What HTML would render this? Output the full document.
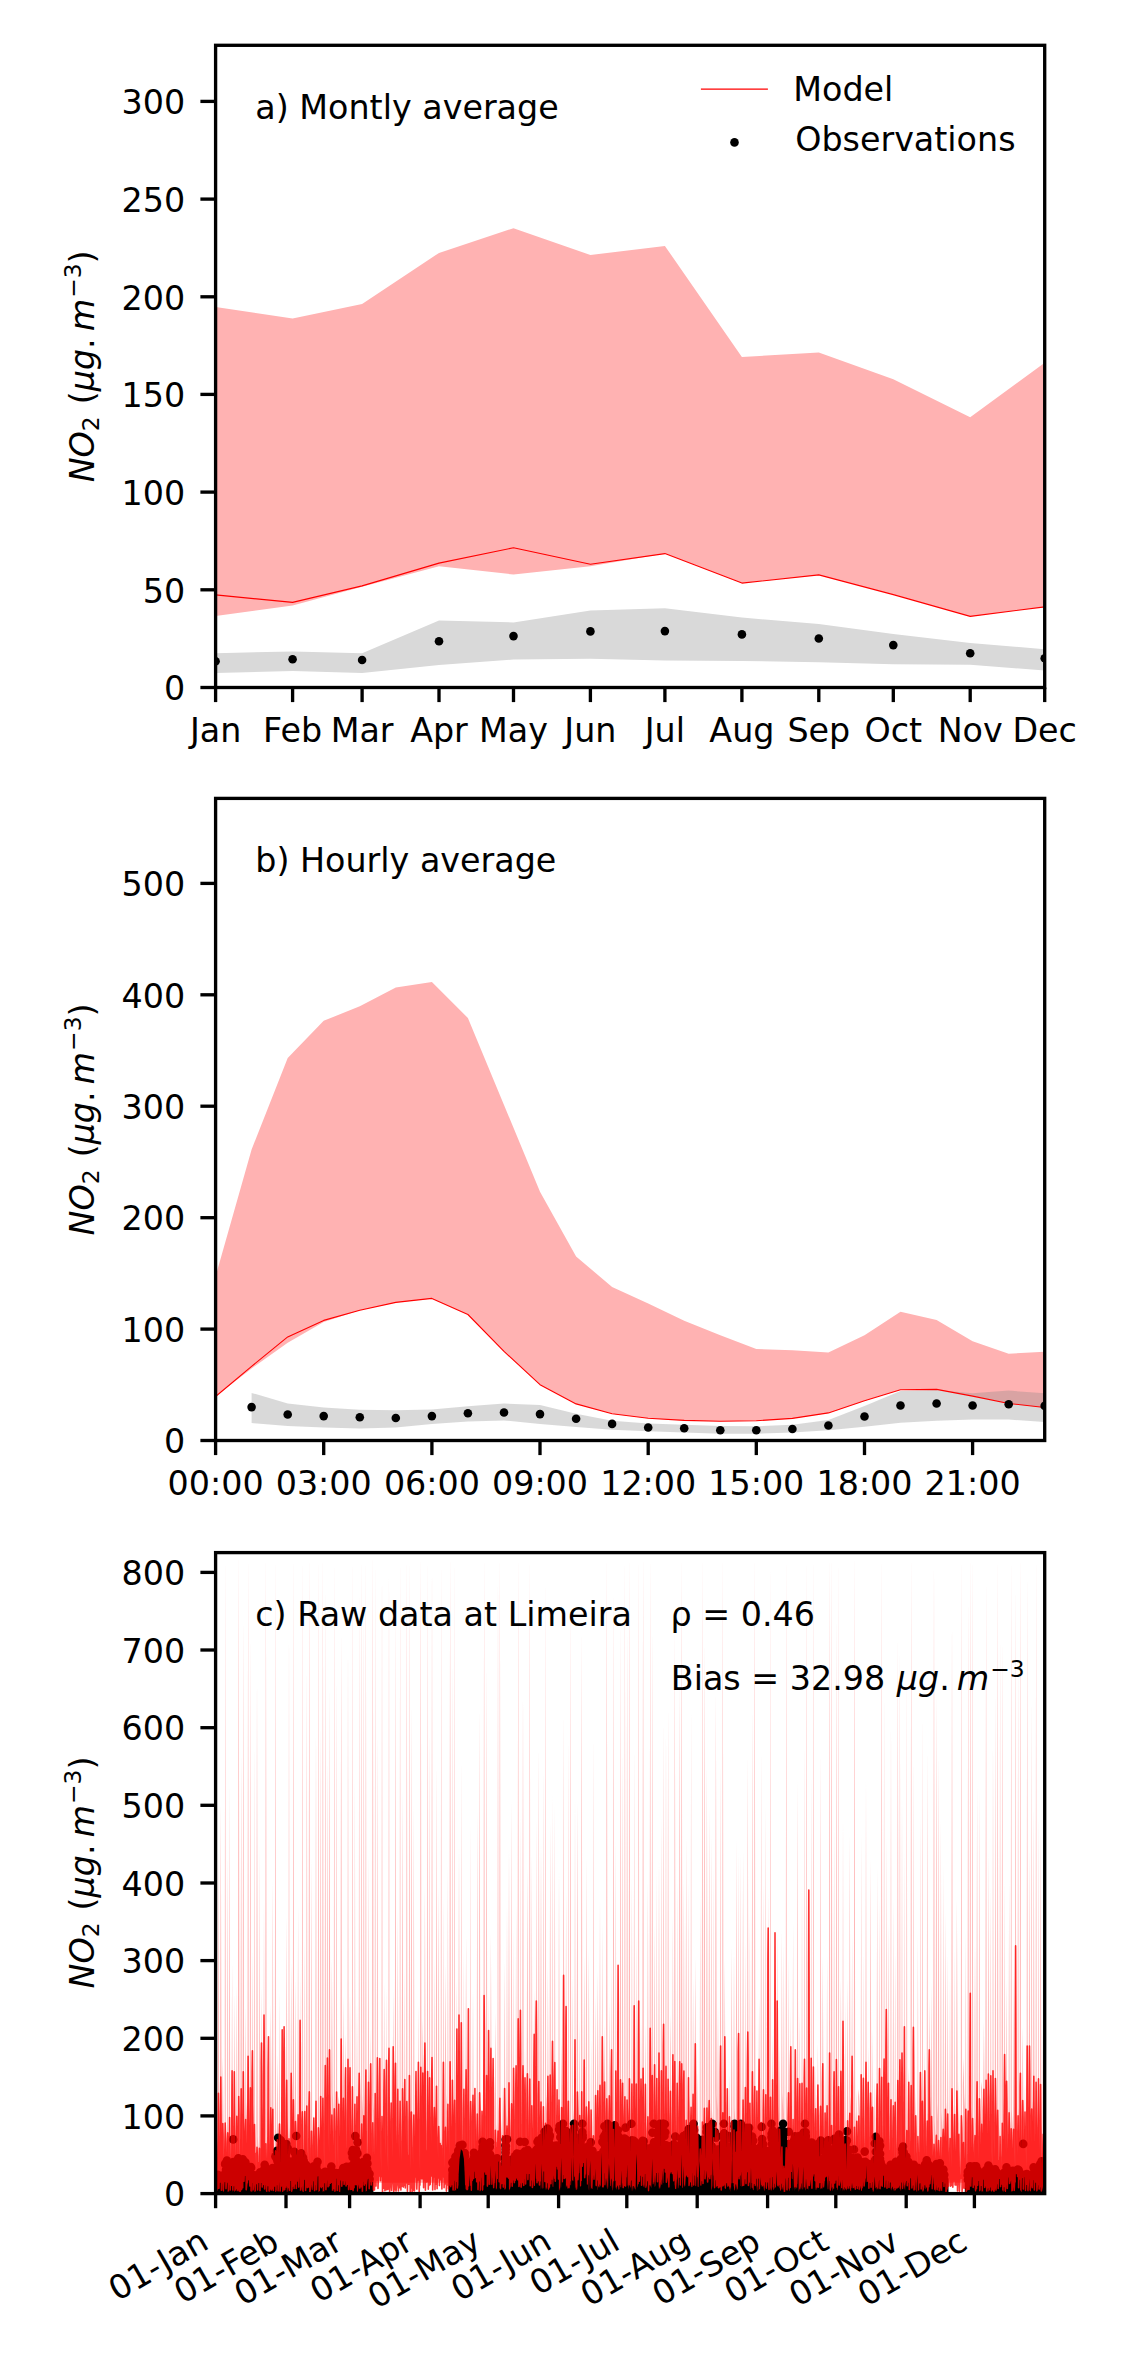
<!DOCTYPE html>
<html><head><meta charset="utf-8"><title>NO2 Limeira</title>
<style>
html,body{margin:0;padding:0;background:#fff}
svg{display:block}
text{font-family:"DejaVu Sans","Liberation Sans",sans-serif;font-size:33.33px;fill:#000}
.i{font-style:italic}
.s{font-size:23.33px}
</style></head><body>
<svg width="1122" height="2362" viewBox="0 0 1122 2362">
<defs>
<clipPath id="c1"><rect x="215.6" y="45.3" width="829.1" height="642.2"/></clipPath>
<clipPath id="c2"><rect x="215.6" y="798.4" width="829.1" height="642.1"/></clipPath>
<clipPath id="c3"><rect x="215.6" y="1552.6" width="829.1" height="641.0"/></clipPath>
</defs>
<rect width="1122" height="2362" fill="#fff"/>
<g clip-path="url(#c1)">
<path d="M215.6 307 L292.6 318.4 L362.1 303.9 L439 252.9 L513.5 228.2 L590.4 254.9 L664.9 245.9 L741.9 357 L818.8 352.5 L893.3 379.2 L970.2 417.3 L1044.7 362.8 L1044.7 606.9 L970.2 616.4 L893.3 594.6 L818.8 574.9 L741.9 583.1 L664.9 553.6 L590.4 566.3 L513.5 574.5 L439 566.3 L362.1 586.7 L292.6 605.5 L215.6 616.1Z" fill="#FFB2B2" />
<path d="M215.6 653.3 L292.6 651.4 L362.1 653.3 L439 620.4 L513.5 622.4 L590.4 610.6 L664.9 608.2 L741.9 617.6 L818.8 624.1 L893.3 634 L970.2 643 L1044.7 649.2 L1044.7 670.5 L970.2 664.7 L893.3 664.3 L818.8 662.3 L741.9 661 L664.9 660.6 L590.4 658.8 L513.5 659.6 L439 665.1 L362.1 672.9 L292.6 671 L215.6 672.9Z" fill="#D9D9D9" />
<path d="M215.6 594.9 L292.6 602.4 L362.1 585.9 L439 563.1 L513.5 547.8 L590.4 564.3 L664.9 553.6 L741.9 583.1 L818.8 574.9 L893.3 594.6 L970.2 616.4 L1044.7 606.9" fill="none" stroke="#FF0000" stroke-width="1.1" stroke-linejoin="round" />
<circle cx="215.6" cy="661.2" r="4.3"/>
<circle cx="292.6" cy="659.2" r="4.3"/>
<circle cx="362.1" cy="660" r="4.3"/>
<circle cx="439.0" cy="641.2" r="4.3"/>
<circle cx="513.5" cy="636.1" r="4.3"/>
<circle cx="590.4" cy="631.4" r="4.3"/>
<circle cx="664.9" cy="631.1" r="4.3"/>
<circle cx="741.9" cy="634.4" r="4.3"/>
<circle cx="818.8" cy="638.5" r="4.3"/>
<circle cx="893.3" cy="645.1" r="4.3"/>
<circle cx="970.2" cy="653.3" r="4.3"/>
<circle cx="1044.7" cy="658.2" r="4.3"/>
</g>
<rect x="215.6" y="45.3" width="829.1" height="642.2" fill="none" stroke="#000" stroke-width="3.33"/>
<line x1="200.4" x2="215.6" y1="687.5" y2="687.5" stroke="#000" stroke-width="3.33"/>
<text x="185.2" y="700.2" text-anchor="end">0</text>
<line x1="200.4" x2="215.6" y1="589.8" y2="589.8" stroke="#000" stroke-width="3.33"/>
<text x="185.2" y="602.5" text-anchor="end">50</text>
<line x1="200.4" x2="215.6" y1="492.1" y2="492.1" stroke="#000" stroke-width="3.33"/>
<text x="185.2" y="504.8" text-anchor="end">100</text>
<line x1="200.4" x2="215.6" y1="394.4" y2="394.4" stroke="#000" stroke-width="3.33"/>
<text x="185.2" y="407.1" text-anchor="end">150</text>
<line x1="200.4" x2="215.6" y1="296.8" y2="296.8" stroke="#000" stroke-width="3.33"/>
<text x="185.2" y="309.5" text-anchor="end">200</text>
<line x1="200.4" x2="215.6" y1="199.1" y2="199.1" stroke="#000" stroke-width="3.33"/>
<text x="185.2" y="211.8" text-anchor="end">250</text>
<line x1="200.4" x2="215.6" y1="101.4" y2="101.4" stroke="#000" stroke-width="3.33"/>
<text x="185.2" y="114.1" text-anchor="end">300</text>
<line x1="215.6" x2="215.6" y1="687.5" y2="702.1" stroke="#000" stroke-width="3.33"/>
<text x="215.6" y="742.1" text-anchor="middle">Jan</text>
<line x1="292.6" x2="292.6" y1="687.5" y2="702.1" stroke="#000" stroke-width="3.33"/>
<text x="292.6" y="742.1" text-anchor="middle">Feb</text>
<line x1="362.1" x2="362.1" y1="687.5" y2="702.1" stroke="#000" stroke-width="3.33"/>
<text x="362.1" y="742.1" text-anchor="middle">Mar</text>
<line x1="439.0" x2="439.0" y1="687.5" y2="702.1" stroke="#000" stroke-width="3.33"/>
<text x="439.0" y="742.1" text-anchor="middle">Apr</text>
<line x1="513.5" x2="513.5" y1="687.5" y2="702.1" stroke="#000" stroke-width="3.33"/>
<text x="513.5" y="742.1" text-anchor="middle">May</text>
<line x1="590.4" x2="590.4" y1="687.5" y2="702.1" stroke="#000" stroke-width="3.33"/>
<text x="590.4" y="742.1" text-anchor="middle">Jun</text>
<line x1="664.9" x2="664.9" y1="687.5" y2="702.1" stroke="#000" stroke-width="3.33"/>
<text x="664.9" y="742.1" text-anchor="middle">Jul</text>
<line x1="741.9" x2="741.9" y1="687.5" y2="702.1" stroke="#000" stroke-width="3.33"/>
<text x="741.9" y="742.1" text-anchor="middle">Aug</text>
<line x1="818.8" x2="818.8" y1="687.5" y2="702.1" stroke="#000" stroke-width="3.33"/>
<text x="818.8" y="742.1" text-anchor="middle">Sep</text>
<line x1="893.3" x2="893.3" y1="687.5" y2="702.1" stroke="#000" stroke-width="3.33"/>
<text x="893.3" y="742.1" text-anchor="middle">Oct</text>
<line x1="970.2" x2="970.2" y1="687.5" y2="702.1" stroke="#000" stroke-width="3.33"/>
<text x="970.2" y="742.1" text-anchor="middle">Nov</text>
<line x1="1044.7" x2="1044.7" y1="687.5" y2="702.1" stroke="#000" stroke-width="3.33"/>
<text x="1044.7" y="742.1" text-anchor="middle">Dec</text>
<text transform="translate(93.5,366.4) rotate(-90)" text-anchor="middle" class="m"><tspan class="i">NO</tspan><tspan class="s" dy="5.5">2</tspan><tspan dy="-5.5" dx="12">(</tspan><tspan class="i">μg</tspan><tspan>.</tspan><tspan class="i" dx="7">m</tspan><tspan class="s" dy="-12.5" dx="1">−3</tspan><tspan dy="12.5">)</tspan></text>
<text x="255.3" y="118.5">a) Montly average</text>
<line x1="700.9" x2="767.9" y1="89.1" y2="89.1" stroke="#FF0000" stroke-width="1.1"/>
<text x="793.3" y="100.7">Model</text>
<circle cx="734.5" cy="142.4" r="4.3"/>
<text x="795.2" y="150.7">Observations</text>
<g clip-path="url(#c2)">
<path d="M215.6 1276.3 L251.6 1149.5 L287.7 1058 L323.7 1020.8 L359.8 1006.3 L395.8 987.5 L431.9 982 L467.9 1018 L504 1104.9 L540 1191.8 L576.1 1256.5 L612.1 1287 L648.2 1303.5 L684.2 1320.8 L720.3 1335.3 L756.3 1349 L792.4 1350.2 L828.4 1352.5 L864.5 1335.3 L900.5 1311.8 L936.6 1320 L972.6 1341.2 L1008.7 1353.7 L1044.7 1351.8 L1044.7 1407.5 L1008.7 1403.5 L972.6 1396.1 L936.6 1389.4 L900.5 1389.8 L864.5 1400.8 L828.4 1412.9 L792.4 1418.4 L756.3 1420.8 L720.3 1421.2 L684.2 1420.4 L648.2 1418.2 L612.1 1413.7 L576.1 1403.9 L540 1384.7 L504 1351.4 L467.9 1314.5 L431.9 1298.4 L395.8 1302.4 L359.8 1310.2 L323.7 1322 L287.7 1342.7 L251.6 1368.5 L215.6 1396.5Z" fill="#FFB2B2" />
<path d="M251.6 1392.9 L287.7 1403.5 L323.7 1407.5 L359.8 1409.8 L395.8 1410.2 L431.9 1409.4 L467.9 1406.3 L504 1403.5 L540 1405.1 L576.1 1413.7 L612.1 1420.8 L648.2 1423.5 L684.2 1424.7 L720.3 1425.9 L756.3 1426.3 L792.4 1424.7 L828.4 1420 L864.5 1405.9 L900.5 1391 L936.6 1390 L972.6 1393.3 L1008.7 1390.6 L1044.7 1393.3 L1044.7 1422 L1008.7 1419.6 L972.6 1419.6 L936.6 1420.8 L900.5 1422.7 L864.5 1426.7 L828.4 1430.2 L792.4 1432.5 L756.3 1433.7 L720.3 1433.7 L684.2 1432.5 L648.2 1431.2 L612.1 1429.8 L576.1 1427.1 L540 1423.9 L504 1420.4 L467.9 1421.6 L431.9 1423.9 L395.8 1427.5 L359.8 1428.6 L323.7 1427.5 L287.7 1425.9 L251.6 1423.1Z" fill="#808080" fill-opacity="0.3"/>
<path d="M215.6 1396.5 L251.6 1366.3 L287.7 1336.9 L323.7 1320.4 L359.8 1310.2 L395.8 1302.4 L431.9 1298.4 L467.9 1314.5 L504 1351.4 L540 1384.7 L576.1 1403.9 L612.1 1413.7 L648.2 1418.2 L684.2 1420.4 L720.3 1421.2 L756.3 1420.8 L792.4 1418.4 L828.4 1412.9 L864.5 1400.8 L900.5 1389.8 L936.6 1389.4 L972.6 1396.1 L1008.7 1403.5 L1044.7 1407.5" fill="none" stroke="#FF0000" stroke-width="1.1" stroke-linejoin="round" />
<circle cx="251.6" cy="1407.1" r="4.3"/>
<circle cx="287.7" cy="1414.5" r="4.3"/>
<circle cx="323.7" cy="1416.1" r="4.3"/>
<circle cx="359.8" cy="1417.3" r="4.3"/>
<circle cx="395.8" cy="1418" r="4.3"/>
<circle cx="431.9" cy="1416.1" r="4.3"/>
<circle cx="467.9" cy="1413.3" r="4.3"/>
<circle cx="504.0" cy="1412.5" r="4.3"/>
<circle cx="540.0" cy="1414.1" r="4.3"/>
<circle cx="576.1" cy="1418.8" r="4.3"/>
<circle cx="612.1" cy="1423.9" r="4.3"/>
<circle cx="648.2" cy="1427.5" r="4.3"/>
<circle cx="684.2" cy="1428.2" r="4.3"/>
<circle cx="720.3" cy="1430.2" r="4.3"/>
<circle cx="756.3" cy="1430.2" r="4.3"/>
<circle cx="792.4" cy="1429" r="4.3"/>
<circle cx="828.4" cy="1425.5" r="4.3"/>
<circle cx="864.5" cy="1416.5" r="4.3"/>
<circle cx="900.5" cy="1405.5" r="4.3"/>
<circle cx="936.6" cy="1403.5" r="4.3"/>
<circle cx="972.6" cy="1405.5" r="4.3"/>
<circle cx="1008.7" cy="1404.3" r="4.3"/>
<circle cx="1044.7" cy="1405.9" r="4.3"/>
</g>
<rect x="215.6" y="798.4" width="829.1" height="642.1" fill="none" stroke="#000" stroke-width="3.33"/>
<line x1="200.4" x2="215.6" y1="1440.5" y2="1440.5" stroke="#000" stroke-width="3.33"/>
<text x="185.2" y="1453.2" text-anchor="end">0</text>
<line x1="200.4" x2="215.6" y1="1329.1" y2="1329.1" stroke="#000" stroke-width="3.33"/>
<text x="185.2" y="1341.8" text-anchor="end">100</text>
<line x1="200.4" x2="215.6" y1="1217.7" y2="1217.7" stroke="#000" stroke-width="3.33"/>
<text x="185.2" y="1230.4" text-anchor="end">200</text>
<line x1="200.4" x2="215.6" y1="1106.2" y2="1106.2" stroke="#000" stroke-width="3.33"/>
<text x="185.2" y="1118.9" text-anchor="end">300</text>
<line x1="200.4" x2="215.6" y1="994.8" y2="994.8" stroke="#000" stroke-width="3.33"/>
<text x="185.2" y="1007.5" text-anchor="end">400</text>
<line x1="200.4" x2="215.6" y1="883.4" y2="883.4" stroke="#000" stroke-width="3.33"/>
<text x="185.2" y="896.1" text-anchor="end">500</text>
<line x1="215.6" x2="215.6" y1="1440.5" y2="1455.1" stroke="#000" stroke-width="3.33"/>
<text x="215.6" y="1495.2" text-anchor="middle">00:00</text>
<line x1="323.7" x2="323.7" y1="1440.5" y2="1455.1" stroke="#000" stroke-width="3.33"/>
<text x="323.7" y="1495.2" text-anchor="middle">03:00</text>
<line x1="431.9" x2="431.9" y1="1440.5" y2="1455.1" stroke="#000" stroke-width="3.33"/>
<text x="431.9" y="1495.2" text-anchor="middle">06:00</text>
<line x1="540.0" x2="540.0" y1="1440.5" y2="1455.1" stroke="#000" stroke-width="3.33"/>
<text x="540.0" y="1495.2" text-anchor="middle">09:00</text>
<line x1="648.2" x2="648.2" y1="1440.5" y2="1455.1" stroke="#000" stroke-width="3.33"/>
<text x="648.2" y="1495.2" text-anchor="middle">12:00</text>
<line x1="756.3" x2="756.3" y1="1440.5" y2="1455.1" stroke="#000" stroke-width="3.33"/>
<text x="756.3" y="1495.2" text-anchor="middle">15:00</text>
<line x1="864.5" x2="864.5" y1="1440.5" y2="1455.1" stroke="#000" stroke-width="3.33"/>
<text x="864.5" y="1495.2" text-anchor="middle">18:00</text>
<line x1="972.6" x2="972.6" y1="1440.5" y2="1455.1" stroke="#000" stroke-width="3.33"/>
<text x="972.6" y="1495.2" text-anchor="middle">21:00</text>
<text transform="translate(93.5,1119.45) rotate(-90)" text-anchor="middle" class="m"><tspan class="i">NO</tspan><tspan class="s" dy="5.5">2</tspan><tspan dy="-5.5" dx="12">(</tspan><tspan class="i">μg</tspan><tspan>.</tspan><tspan class="i" dx="7">m</tspan><tspan class="s" dy="-12.5" dx="1">−3</tspan><tspan dy="12.5">)</tspan></text>
<text x="255.3" y="871.7">b) Hourly average</text>
<g clip-path="url(#c3)">
<path d="M215.6 2148.2 L215.3 2124.9 L216 1835.3 L216.6 2132.6 L217.9 2152.7 L217.9 2151 L217.7 2127.7 L218.4 1847.1 L219.2 2135.5 L220.1 2155.3 L220.1 2127.1 L220 2103.8 L220.8 1800 L221.6 2111.6 L222.4 2133.7 L222.4 2141.8 L222.1 2118.5 L222.8 2056.1 L223.5 2126.3 L224.7 2147 L224.7 2142.2 L224.7 2118.9 L225.2 1548.6 L225.8 2126.6 L227 2147.3 L227 2161.6 L227 2138.3 L227.7 1853 L228.3 2146.1 L229.2 2164.8 L229.2 2150.2 L229 2126.9 L229.6 1778.5 L230.2 2134.7 L231.5 2154.6 L231.5 2148.7 L231.5 2125.4 L232.1 1960.7 L232.7 2133.1 L233.8 2153.2 L233.8 2132.7 L233.8 2109.4 L234.3 1992 L234.9 2117.2 L236 2138.8 L236 2165.6 L236.1 2142.3 L236.8 1983.1 L237.4 2150.1 L238.3 2168.4 L238.3 2114.5 L237.9 2091.2 L238.7 1548.6 L239.5 2099 L240.6 2122.4 L240.6 2149.5 L240.4 2126.2 L241.2 1749.5 L241.9 2133.9 L242.9 2153.9 L242.9 2130.5 L242.6 2107.2 L243.3 1614.7 L244.1 2115 L245.1 2136.8 L245.1 2117.4 L245.2 2094.1 L245.7 2005.6 L246.2 2101.9 L247.4 2125 L247.4 2116.3 L247.5 2093 L248.1 1548.6 L248.8 2100.8 L249.7 2124.1 L249.7 2139 L249.7 2115.7 L250.4 1630.6 L251 2123.5 L251.9 2144.5 L251.9 2119.5 L251.9 2096.2 L252.4 1948.1 L253 2104 L254.2 2126.9 L254.2 2169.2 L254 2145.9 L254.5 1738.8 L255.1 2153.6 L256.5 2171.6 L256.5 2152.3 L256.3 2129 L257 1667.8 L257.8 2136.8 L258.8 2156.4 L258.8 2166 L258.8 2142.7 L259.4 1844.3 L260 2150.5 L261 2168.8 L261 2116.3 L260.9 2093 L261.5 1986.2 L262 2100.8 L263.3 2124 L263.3 2153.9 L263.5 2130.6 L264 1898.3 L264.5 2138.4 L265.6 2157.9 L265.6 2155 L265.2 2131.7 L265.9 1548.6 L266.7 2139.5 L267.9 2158.9 L267.9 2151.6 L268 2128.3 L268.5 2101.3 L269 2136.1 L270.1 2155.8 L270.1 2135.4 L270.1 2112.1 L270.8 2004 L271.6 2119.9 L272.4 2141.2 L272.4 2154.3 L272 2131 L272.8 1880.3 L273.5 2138.8 L274.7 2158.3 L274.7 2141.4 L274.8 2118.1 L275.4 1548.6 L276 2125.9 L276.9 2146.6 L276.9 2139.4 L276.8 2116.1 L277.4 2054 L277.9 2123.9 L279.2 2144.8 L279.2 2147.2 L279 2123.9 L279.5 1991.5 L280 2131.7 L281.5 2151.8 L281.5 2142.4 L281.5 2119.1 L282.2 2096.7 L282.9 2126.9 L283.8 2147.5 L283.8 2164.3 L283.4 2141 L284.1 2046.2 L284.9 2148.7 L286 2167.2 L286 2131.3 L286 2108 L286.7 1916 L287.4 2115.8 L288.3 2137.5 L288.3 2141.6 L288.5 2118.3 L289 1609.3 L289.5 2126.1 L290.6 2146.8 L290.6 2115.2 L290.6 2091.9 L291.2 1961.6 L291.9 2099.7 L292.8 2123.1 L292.8 2138.7 L292.8 2115.4 L293.4 1548.6 L294.1 2123.2 L295.1 2144.2 L295.1 2130.5 L294.8 2107.2 L295.5 1978.3 L296.1 2115 L297.4 2136.8 L297.4 2135.8 L297.5 2112.5 L298.1 1904 L298.7 2120.2 L299.7 2141.6 L299.7 2170.3 L299.5 2147 L300.1 1972.5 L300.7 2154.7 L301.9 2172.6 L301.9 2164.2 L301.8 2140.9 L302.4 1548.6 L303 2148.6 L304.2 2167.1 L304.2 2150 L304.2 2126.7 L304.8 1938.6 L305.4 2134.4 L306.5 2154.3 L306.5 2167.2 L306.2 2143.9 L306.8 1662.2 L307.5 2151.7 L308.7 2169.8 L308.7 2159.6 L308.5 2136.4 L309.3 1548.6 L310 2144.1 L311 2163 L311 2159.4 L310.8 2136.1 L311.5 1857.1 L312.2 2143.8 L313.3 2162.8 L313.3 2152.8 L313.1 2129.5 L313.8 2114.1 L314.4 2137.3 L315.6 2156.9 L315.6 2142.8 L315.3 2119.5 L316 1718.4 L316.6 2127.2 L317.8 2147.8 L317.8 2138.7 L317.8 2115.4 L318.4 1548.6 L319 2123.2 L320.1 2144.2 L320.1 2132 L320 2108.7 L320.7 1720.6 L321.4 2116.4 L322.4 2138.1 L322.4 2166.8 L322.1 2143.5 L322.9 1548.6 L323.6 2151.2 L324.6 2169.4 L324.6 2128.2 L324.7 2104.9 L325.3 1579.3 L325.9 2112.7 L326.9 2134.8 L326.9 2148.3 L326.6 2125 L327.4 1757.5 L328.1 2132.7 L329.2 2152.8 L329.2 2109 L328.8 2085.7 L329.5 1682.9 L330.3 2093.5 L331.5 2117.5 L331.5 2108.7 L331.2 2085.4 L331.9 1958.6 L332.7 2093.1 L333.7 2117.1 L333.7 2168.9 L333.7 2145.6 L334.3 1551 L334.9 2153.4 L336 2171.4 L336 2164.7 L336 2141.4 L336.6 1671.6 L337.2 2149.2 L338.3 2167.6 L338.3 2127 L338.1 2103.7 L338.8 2095.9 L339.5 2111.5 L340.5 2133.6 L340.5 2128 L340.4 2104.7 L341.2 1627.5 L342 2112.4 L342.8 2134.5 L342.8 2120.8 L342.8 2097.5 L343.4 1996.2 L344.1 2105.2 L345.1 2128 L345.1 2110.3 L345 2087 L345.6 2032.7 L346.1 2094.8 L347.4 2118.6 L347.4 2135.9 L347.5 2112.6 L348 1628.6 L348.6 2120.4 L349.6 2141.7 L349.6 2121.8 L349.4 2098.5 L350 1992 L350.6 2106.3 L351.9 2129 L351.9 2154.9 L351.9 2131.6 L352.4 1548.6 L353 2139.4 L354.2 2158.8 L354.2 2153.1 L354.4 2129.8 L354.9 1774.6 L355.4 2137.6 L356.4 2157.2 L356.4 2168.3 L356.3 2145 L357 2002.6 L357.7 2152.7 L358.7 2170.8 L358.7 2161.8 L358.7 2138.5 L359.2 1578.1 L359.7 2146.2 L361 2164.9 L361 2110.3 L361.1 2087 L361.7 1548.6 L362.2 2094.8 L363.3 2118.6 L363.3 2119.6 L363.2 2096.3 L363.8 1607.1 L364.4 2104 L365.5 2127 L365.5 2168.8 L365.3 2145.5 L365.9 1548.6 L366.5 2153.3 L367.8 2171.3 L367.8 2149.5 L367.8 2126.2 L368.5 1853.6 L369.1 2133.9 L370.1 2153.9 L370.1 2153.5 L370 2130.2 L370.7 2029.2 L371.4 2138 L372.4 2157.5 L372.4 2117.2 L372 2093.9 L372.8 1548.6 L373.6 2101.7 L374.6 2124.8 L374.6 2145.1 L374.7 2121.8 L375.2 1548.6 L375.7 2129.5 L376.9 2149.9 L376.9 2126 L376.8 2102.7 L377.4 1730.1 L378 2110.5 L379.2 2132.8 L379.2 2169.1 L379.2 2145.8 L379.8 2089.4 L380.4 2153.5 L381.4 2171.5 L381.4 2136.8 L381.5 2113.5 L382 1548.6 L382.6 2121.3 L383.7 2142.5 L383.7 2153.4 L383.5 2130.1 L384.2 1981.8 L384.8 2137.9 L386 2157.4 L386 2169.5 L385.9 2146.2 L386.5 1986.7 L387 2154 L388.3 2171.9 L388.3 2129.2 L388.4 2105.9 L389 1548.6 L389.5 2113.7 L390.5 2135.6 L390.5 2153.6 L390.7 2130.3 L391.2 2044.5 L391.7 2138.1 L392.8 2157.6 L392.8 2115.5 L392.7 2092.2 L393.2 1988.7 L393.8 2100 L395.1 2123.3 L395.1 2140 L394.8 2116.7 L395.5 1600.5 L396.1 2124.5 L397.3 2145.4 L397.3 2155.4 L397.2 2132.1 L397.8 1911.1 L398.4 2139.9 L399.6 2159.2 L399.6 2157.6 L399.6 2134.3 L400.1 1548.6 L400.6 2142 L401.9 2161.2 L401.9 2111.6 L401.7 2088.3 L402.5 1789.4 L403.2 2096.1 L404.2 2119.8 L404.2 2139.3 L404.3 2116 L404.8 1966.2 L405.3 2123.8 L406.4 2144.7 L406.4 2114.4 L406.2 2091.1 L406.8 1548.6 L407.4 2098.8 L408.7 2122.3 L408.7 2167.6 L408.8 2144.3 L409.4 1548.6 L410 2152.1 L411 2170.2 L411 2161.4 L410.7 2138.1 L411.4 1700.3 L412.2 2145.9 L413.2 2164.6 L413.2 2127.2 L413.2 2103.9 L413.8 1803 L414.4 2111.7 L415.5 2133.9 L415.5 2120.2 L415.3 2096.9 L416 2089.1 L416.8 2104.7 L417.8 2127.5 L417.8 2169.2 L417.7 2146 L418.4 2005.2 L419.2 2153.7 L420.1 2171.7 L420.1 2121.7 L420 2098.4 L420.8 1548.6 L421.5 2106.2 L422.3 2128.9 L422.3 2110.3 L422 2087 L422.8 2018.2 L423.6 2094.7 L424.6 2118.6 L424.6 2127.2 L424.2 2103.9 L424.9 1885.5 L425.7 2111.7 L426.9 2133.8 L426.9 2122.7 L427 2099.5 L427.6 1548.6 L428.1 2107.2 L429.1 2129.8 L429.1 2138.1 L429.1 2114.8 L429.6 1726.6 L430.2 2122.5 L431.4 2143.6 L431.4 2124.2 L431.4 2100.9 L432 1548.6 L432.7 2108.6 L433.7 2131.1 L433.7 2122.5 L433.9 2099.2 L434.4 1956.6 L434.9 2107 L436 2129.6 L436 2155.1 L435.7 2131.8 L436.5 1763.2 L437.2 2139.6 L438.2 2159 L438.2 2140.5 L437.9 2117.2 L438.7 1886.1 L439.4 2125 L440.5 2145.8 L440.5 2154.2 L440.7 2130.9 L441.2 1548.6 L441.7 2138.6 L442.8 2158.1 L442.8 2166.3 L442.8 2143 L443.4 1896.3 L444 2150.8 L445 2169.1 L445 2109.4 L444.9 2086.1 L445.6 1963.8 L446.2 2093.9 L447.3 2117.9 L447.3 2151.7 L447.4 2128.5 L447.9 1863.4 L448.4 2136.2 L449.6 2155.9 L449.6 2125 L449.4 2101.7 L450.1 1548.6 L450.9 2109.5 L451.9 2131.9 L451.9 2114.3 L451.9 2091.1 L452.4 1654.5 L452.9 2098.8 L454.1 2122.3 L454.1 2162 L454.1 2138.7 L454.6 1548.6 L455.1 2146.5 L456.4 2165.2 L456.4 2121.2 L456.3 2097.9 L456.9 1980.4 L457.5 2105.7 L458.7 2128.5 L458.7 2128.8 L458.3 2105.5 L459 1844.4 L459.7 2113.3 L460.9 2135.3 L460.9 2159.2 L460.7 2135.9 L461.3 1755 L461.8 2143.6 L463.2 2162.6 L463.2 2163.7 L463.3 2140.4 L463.9 1950.3 L464.4 2148.2 L465.5 2166.7 L465.5 2148.8 L465.3 2125.5 L466.1 1934.8 L466.9 2133.3 L467.8 2153.3 L467.8 2167.4 L467.6 2144.2 L468.4 2038.3 L469.1 2151.9 L470 2170.1 L470 2162.8 L470.1 2139.5 L470.7 1823.9 L471.2 2147.2 L472.3 2165.9 L472.3 2156.9 L472.3 2133.6 L473 1989.1 L473.7 2141.3 L474.6 2160.5 L474.6 2131.1 L474.3 2107.8 L474.9 2100 L475.6 2115.5 L476.9 2137.3 L476.9 2147 L476.6 2123.7 L477.3 1810.7 L478 2131.5 L479.1 2151.7 L479.1 2136.5 L478.9 2113.2 L479.6 1704.3 L480.4 2121 L481.4 2142.2 L481.4 2140.1 L481.3 2116.8 L482 2109.1 L482.7 2124.6 L483.7 2145.5 L483.7 2160.7 L483.4 2137.4 L484.1 1548.6 L484.9 2145.1 L485.9 2164 L485.9 2153.2 L485.9 2129.9 L486.6 1660.9 L487.3 2137.7 L488.2 2157.2 L488.2 2167.2 L487.9 2143.9 L488.6 1993.5 L489.3 2151.7 L490.5 2169.9 L490.5 2146 L490.2 2122.7 L490.9 1933.2 L491.7 2130.5 L492.8 2150.7 L492.8 2167.2 L492.5 2143.9 L493.1 2065.3 L493.7 2151.7 L495 2169.8 L495 2139.8 L494.7 2116.5 L495.4 2012.8 L496.2 2124.2 L497.3 2145.1 L497.3 2137.4 L497.5 2114.1 L498 1548.6 L498.5 2121.8 L499.6 2143 L499.6 2126.6 L499.2 2103.3 L499.9 1548.6 L500.6 2111.1 L501.8 2133.3 L501.8 2169.7 L502 2146.4 L502.6 2081.8 L503.1 2154.2 L504.1 2172.1 L504.1 2110.5 L504.1 2087.2 L504.6 1959.7 L505.2 2095 L506.4 2118.8 L506.4 2130.8 L506.4 2107.5 L507 1904.4 L507.6 2115.3 L508.7 2137.1 L508.7 2126.5 L508.3 2103.3 L509 1845.7 L509.7 2111 L510.9 2133.3 L510.9 2137.2 L510.9 2113.9 L511.6 1798.6 L512.3 2121.7 L513.2 2142.8 L513.2 2169.5 L513.1 2146.2 L513.6 1928.1 L514.1 2153.9 L515.5 2171.9 L515.5 2153.7 L515.6 2130.4 L516.1 1904 L516.6 2138.1 L517.7 2157.7 L517.7 2142.4 L517.5 2119.1 L518.2 1548.6 L518.9 2126.9 L520 2147.6 L520 2151.9 L519.9 2128.6 L520.4 1811.9 L520.9 2136.4 L522.3 2156.1 L522.3 2108.4 L522.2 2085.1 L523 1685.5 L523.7 2092.8 L524.6 2116.9 L524.6 2155.6 L524.4 2132.3 L525 2044.3 L525.5 2140.1 L526.8 2159.4 L526.8 2121.3 L526.6 2098.1 L527.4 1866.6 L528.2 2105.8 L529.1 2128.6 L529.1 2156.6 L529.1 2133.3 L529.8 1548.6 L530.4 2141 L531.4 2160.3 L531.4 2135.3 L531.2 2112 L531.8 1853.1 L532.4 2119.8 L533.6 2141.1 L533.6 2120.2 L533.4 2097 L534.2 1990.4 L534.9 2104.7 L535.9 2127.6 L535.9 2159.6 L535.7 2136.3 L536.3 1818.3 L537 2144 L538.2 2163 L538.2 2149.3 L538.1 2126 L538.8 1743.9 L539.6 2133.8 L540.5 2153.7 L540.5 2130.3 L540.2 2107 L541 1840.4 L541.8 2114.8 L542.7 2136.7 L542.7 2152.6 L542.8 2129.3 L543.4 1765.2 L544 2137.1 L545 2156.7 L545 2110.6 L545.1 2087.3 L545.6 1568.9 L546.1 2095 L547.3 2118.9 L547.3 2126.2 L547.4 2102.9 L547.9 1965.1 L548.5 2110.7 L549.5 2132.9 L549.5 2166.6 L549.4 2143.3 L550.2 1821.2 L551 2151.1 L551.8 2169.3 L551.8 2158.1 L552 2134.8 L552.5 1792.1 L553 2142.6 L554.1 2161.7 L554.1 2161.5 L554.1 2138.2 L554.8 1803.4 L555.4 2146 L556.4 2164.7 L556.4 2150.8 L556.4 2127.5 L557.1 2103 L557.8 2135.2 L558.6 2155.1 L558.6 2135.3 L558.4 2112 L559 1868.8 L559.7 2119.8 L560.9 2141.1 L560.9 2129.5 L561 2106.2 L561.6 2035.9 L562.2 2113.9 L563.2 2135.9 L563.2 2119.9 L563 2096.7 L563.6 1709.7 L564.3 2104.4 L565.5 2127.3 L565.5 2138.7 L565.5 2115.4 L566.1 1890.3 L566.7 2123.2 L567.7 2144.2 L567.7 2160.8 L567.9 2137.5 L568.4 1731.5 L568.9 2145.3 L570 2164.1 L570 2156.5 L569.9 2133.2 L570.6 1594.7 L571.2 2140.9 L572.3 2160.2 L572.3 2124.7 L572.1 2101.4 L572.6 1973.9 L573.1 2109.2 L574.5 2131.6 L574.5 2162.9 L574.5 2139.6 L575 1795.3 L575.6 2147.4 L576.8 2166 L576.8 2109.1 L576.6 2085.8 L577.4 1801.4 L578.1 2093.6 L579.1 2117.6 L579.1 2138.1 L579.2 2114.8 L579.7 2020.3 L580.3 2122.5 L581.4 2143.6 L581.4 2125.6 L581 2102.3 L581.7 1625.1 L582.4 2110 L583.6 2132.4 L583.6 2129.3 L583.5 2106 L584.2 1955.4 L585 2113.7 L585.9 2135.7 L585.9 2126.2 L585.7 2102.9 L586.4 1856.7 L587.1 2110.7 L588.2 2132.9 L588.2 2144.7 L588.1 2121.4 L588.8 1948.7 L589.6 2129.2 L590.4 2149.6 L590.4 2170.1 L590.6 2146.8 L591.1 2036.7 L591.6 2154.5 L592.7 2172.4 L592.7 2157.4 L592.8 2134.1 L593.4 1731.7 L594 2141.8 L595 2161 L595 2128 L594.9 2104.7 L595.6 1996.4 L596.2 2112.5 L597.3 2134.6 L597.3 2128.9 L597 2105.6 L597.8 1971 L598.5 2113.4 L599.5 2135.4 L599.5 2144.9 L599.3 2121.6 L600 1898.2 L600.6 2129.3 L601.8 2149.7 L601.8 2145.7 L601.6 2122.4 L602.3 1922.7 L602.9 2130.1 L604.1 2150.5 L604.1 2115.5 L604 2092.2 L604.6 2024.8 L605.2 2100 L606.3 2123.3 L606.3 2109.9 L606.1 2086.6 L606.8 1548.6 L607.5 2094.4 L608.6 2118.3 L608.6 2128.3 L608.7 2105 L609.3 2002.5 L610 2112.7 L610.9 2134.8 L610.9 2145.4 L611 2122.1 L611.6 1959.3 L612.1 2129.9 L613.2 2150.3 L613.2 2157.9 L612.8 2134.6 L613.5 1583.7 L614.2 2142.4 L615.4 2161.5 L615.4 2148.7 L615.3 2125.4 L615.8 1839.1 L616.4 2133.2 L617.7 2153.2 L617.7 2142 L617.6 2118.7 L618.1 1970 L618.6 2126.4 L620 2147.1 L620 2122.6 L619.9 2099.3 L620.5 1615.7 L621.1 2107.1 L622.2 2129.7 L622.2 2119.1 L622 2095.8 L622.6 1747.7 L623.2 2103.5 L624.5 2126.5 L624.5 2155.5 L624.3 2132.2 L624.9 1548.6 L625.5 2139.9 L626.8 2159.3 L626.8 2119.1 L626.5 2095.8 L627.1 1625.5 L627.8 2103.5 L629.1 2126.5 L629.1 2137.2 L628.7 2113.9 L629.4 1548.6 L630.1 2121.7 L631.3 2142.8 L631.3 2166.2 L631.3 2142.9 L631.9 1875.5 L632.6 2150.6 L633.6 2168.9 L633.6 2115.2 L633.7 2091.9 L634.2 1742.8 L634.7 2099.7 L635.9 2123 L635.9 2163.4 L635.7 2140.1 L636.3 1932.7 L636.9 2147.9 L638.1 2166.4 L638.1 2119.7 L638.1 2096.4 L638.7 1548.6 L639.3 2104.2 L640.4 2127.1 L640.4 2133.2 L640.5 2109.9 L641 2021.1 L641.6 2117.7 L642.7 2139.3 L642.7 2143.8 L642.3 2120.5 L643.1 1548.6 L643.9 2128.2 L645 2148.7 L645 2139.6 L644.8 2116.3 L645.4 2024.9 L646.1 2124.1 L647.2 2145 L647.2 2128.5 L647.2 2105.2 L647.9 1880.9 L648.5 2113 L649.5 2135 L649.5 2108.6 L649.6 2085.3 L650.2 1548.6 L650.8 2093.1 L651.8 2117.1 L651.8 2154.6 L651.5 2131.3 L652.3 1625.4 L653 2139.1 L654 2158.5 L654 2109.6 L653.9 2086.3 L654.6 1923.9 L655.2 2094.1 L656.3 2118 L656.3 2169.1 L656.2 2145.8 L656.8 1868.4 L657.4 2153.5 L658.6 2171.5 L658.6 2141.7 L658.3 2118.4 L659 1858 L659.7 2126.1 L660.9 2146.8 L660.9 2166.7 L660.7 2143.4 L661.4 1813.4 L662.1 2151.2 L663.1 2169.4 L663.1 2159.7 L662.9 2136.4 L663.6 1715.4 L664.2 2144.2 L665.4 2163.1 L665.4 2115.9 L665.4 2092.6 L666 1719 L666.5 2100.3 L667.7 2123.6 L667.7 2124 L667.5 2100.7 L668.1 1702.4 L668.8 2108.5 L670 2131 L670 2119.3 L669.6 2096 L670.4 2013.8 L671.2 2103.8 L672.2 2126.7 L672.2 2131.3 L672.2 2108 L672.9 1914.9 L673.5 2115.8 L674.5 2137.5 L674.5 2130 L674.1 2106.7 L674.8 1623.4 L675.6 2114.5 L676.8 2136.4 L676.8 2156.2 L676.7 2132.9 L677.2 1880.1 L677.8 2140.6 L679 2159.9 L679 2115.7 L678.9 2092.4 L679.7 1680 L680.5 2100.1 L681.3 2123.5 L681.3 2135.4 L681 2112.1 L681.7 1548.6 L682.4 2119.9 L683.6 2141.2 L683.6 2129.5 L683.2 2106.2 L683.9 1878.8 L684.6 2114 L685.9 2135.9 L685.9 2140.7 L685.4 2117.4 L686.2 1835.5 L686.9 2125.1 L688.1 2146 L688.1 2110.2 L687.9 2086.9 L688.5 1882.1 L689 2094.7 L690.4 2118.5 L690.4 2140.3 L690.6 2117 L691.1 1702.1 L691.6 2124.7 L692.7 2145.6 L692.7 2125.7 L692.5 2102.4 L693.1 1978.7 L693.7 2110.2 L694.9 2132.5 L694.9 2132.6 L694.5 2109.3 L695.3 1956.2 L696 2117 L697.2 2138.7 L697.2 2158.9 L697 2135.6 L697.6 2072 L698.2 2143.4 L699.5 2162.4 L699.5 2160 L699.6 2136.7 L700.2 1895.1 L700.8 2144.5 L701.8 2163.3 L701.8 2150.3 L701.7 2127 L702.4 1548.6 L703.1 2134.7 L704 2154.6 L704 2133.1 L703.6 2109.8 L704.4 1637.8 L705.2 2117.5 L706.3 2139.1 L706.3 2113.8 L706.2 2090.6 L706.9 1761.3 L707.6 2098.3 L708.6 2121.8 L708.6 2134.9 L708.5 2111.6 L709.2 1806.1 L710 2119.4 L710.8 2140.8 L710.8 2124.8 L710.7 2101.5 L711.3 1832.7 L711.9 2109.2 L713.1 2131.6 L713.1 2170.2 L713.3 2147 L713.8 1865.3 L714.4 2154.7 L715.4 2172.6 L715.4 2110 L715.1 2086.8 L715.9 1688.2 L716.7 2094.5 L717.7 2118.4 L717.7 2137 L717.3 2113.7 L718 2005.6 L718.7 2121.5 L719.9 2142.7 L719.9 2140 L719.9 2116.7 L720.6 1760 L721.2 2124.5 L722.2 2145.4 L722.2 2159.9 L722.1 2136.6 L722.8 1548.6 L723.5 2144.3 L724.5 2163.2 L724.5 2161.8 L724 2138.5 L724.8 1959.2 L725.6 2146.3 L726.7 2165 L726.7 2132.4 L726.7 2109.1 L727.3 2089.3 L728 2116.9 L729 2138.5 L729 2151.5 L728.9 2128.2 L729.5 2074 L730.1 2136 L731.3 2155.7 L731.3 2164.7 L730.9 2141.4 L731.7 1944.9 L732.5 2149.2 L733.6 2167.6 L733.6 2124.1 L733.4 2100.8 L734 1948.9 L734.6 2108.6 L735.8 2131 L735.8 2160 L735.7 2136.7 L736.5 1838.4 L737.3 2144.5 L738.1 2163.4 L738.1 2145 L738 2121.7 L738.6 1850 L739.1 2129.5 L740.4 2149.9 L740.4 2137.2 L740.1 2113.9 L740.7 1852.6 L741.3 2121.6 L742.6 2142.8 L742.6 2148.3 L742.3 2125 L743.1 1849.4 L743.8 2132.8 L744.9 2152.8 L744.9 2165.5 L744.8 2142.2 L745.4 1940.7 L746 2149.9 L747.2 2168.3 L747.2 2162.5 L747 2139.2 L747.8 1749.8 L748.5 2147 L749.5 2165.6 L749.5 2130.1 L749.4 2106.8 L749.9 1915.1 L750.4 2114.6 L751.7 2136.4 L751.7 2118 L751.6 2094.7 L752.4 1705.8 L753.1 2102.5 L754 2125.6 L754 2128.4 L754 2105.1 L754.7 1548.6 L755.4 2112.9 L756.3 2134.9 L756.3 2146.5 L756.3 2123.2 L756.9 2095.1 L757.6 2130.9 L758.5 2151.2 L758.5 2160.8 L758.3 2137.6 L759.1 1997.9 L759.9 2145.3 L760.8 2164.1 L760.8 2144.3 L760.6 2121 L761.2 1746.5 L761.8 2128.7 L763.1 2149.2 L763.1 2158 L762.7 2134.7 L763.5 1883.3 L764.2 2142.5 L765.4 2161.6 L765.4 2133 L765.2 2109.7 L765.8 1805.3 L766.4 2117.5 L767.6 2139.1 L767.6 2117.9 L767.5 2094.6 L768.2 1892.3 L768.8 2102.4 L769.9 2125.5 L769.9 2152.3 L770 2129 L770.5 1552.9 L771 2136.8 L772.2 2156.5 L772.2 2149.5 L771.9 2126.2 L772.6 2033.4 L773.4 2133.9 L774.5 2153.9 L774.5 2149.5 L774.4 2126.2 L775 1957.9 L775.6 2133.9 L776.7 2153.9 L776.7 2117.7 L776.6 2094.4 L777.2 1932.3 L777.9 2102.2 L779 2125.3 L779 2153.1 L778.9 2129.8 L779.6 2043.7 L780.3 2137.6 L781.3 2157.2 L781.3 2108.3 L781.3 2085 L781.9 1929.3 L782.4 2092.8 L783.5 2116.8 L783.5 2132.4 L783.3 2109.1 L783.9 1942.4 L784.4 2116.9 L785.8 2138.6 L785.8 2111.1 L785.7 2087.8 L786.3 1548.6 L786.8 2095.6 L788.1 2119.3 L788.1 2165.2 L787.9 2141.9 L788.5 1956.4 L789.1 2149.6 L790.4 2168 L790.4 2148.2 L790.2 2125 L790.8 2005.8 L791.3 2132.7 L792.6 2152.8 L792.6 2158.9 L792.4 2135.6 L793.1 1922.3 L793.7 2143.4 L794.9 2162.4 L794.9 2155 L794.5 2131.7 L795.3 2054.4 L796 2139.5 L797.2 2158.9 L797.2 2146.1 L796.9 2122.8 L797.6 1779.3 L798.3 2130.5 L799.4 2150.8 L799.4 2130.4 L799.3 2107.1 L799.8 2011.8 L800.3 2114.9 L801.7 2136.7 L801.7 2158 L801.5 2134.7 L802 1881.1 L802.6 2142.4 L804 2161.5 L804 2132.7 L804 2109.4 L804.5 1738.2 L805 2117.2 L806.3 2138.8 L806.3 2154.2 L806 2130.9 L806.6 1548.6 L807.2 2138.6 L808.5 2158.1 L808.5 2138.4 L808.2 2115.1 L808.8 1897.7 L809.5 2122.9 L810.8 2143.9 L810.8 2168.8 L810.7 2145.5 L811.2 1771.4 L811.8 2153.3 L813.1 2171.3 L813.1 2145.2 L812.8 2122 L813.4 1548.6 L814 2129.7 L815.3 2150.1 L815.3 2164 L815 2140.7 L815.7 2063.6 L816.3 2148.5 L817.6 2167 L817.6 2130.8 L817.4 2107.5 L817.9 2042.8 L818.5 2115.3 L819.9 2137.1 L819.9 2113.2 L820 2089.9 L820.6 1749 L821.2 2097.7 L822.2 2121.3 L822.2 2134.7 L822.1 2111.4 L822.8 1955.6 L823.5 2119.2 L824.4 2140.6 L824.4 2148.9 L824.6 2125.6 L825.1 2062.3 L825.7 2133.4 L826.7 2153.4 L826.7 2150.2 L826.5 2126.9 L827.1 1954.9 L827.7 2134.7 L829 2154.5 L829 2160.8 L828.9 2137.5 L829.6 1548.6 L830.3 2145.3 L831.2 2164.1 L831.2 2153.8 L830.9 2130.5 L831.6 1548.6 L832.4 2138.3 L833.5 2157.8 L833.5 2161.8 L833.5 2138.5 L834.1 1823.4 L834.7 2146.2 L835.8 2164.9 L835.8 2132.5 L835.8 2109.2 L836.4 1610.7 L837.1 2117 L838.1 2138.6 L838.1 2160.3 L838.1 2137 L838.6 1548.6 L839.1 2144.8 L840.3 2163.7 L840.3 2109.2 L840.2 2085.9 L840.9 1978.8 L841.5 2093.7 L842.6 2117.7 L842.6 2151.9 L842.5 2128.6 L843 1816.3 L843.6 2136.4 L844.9 2156.1 L844.9 2147 L844.7 2123.7 L845.2 2000.4 L845.8 2131.5 L847.1 2151.7 L847.1 2168.5 L846.8 2145.2 L847.6 1978.3 L848.4 2153 L849.4 2171 L849.4 2111.2 L849.2 2087.9 L849.8 1833.1 L850.4 2095.7 L851.7 2119.4 L851.7 2145.2 L851.4 2121.9 L852.1 1933.5 L852.7 2129.6 L854 2150 L854 2127.5 L853.8 2104.2 L854.5 1548.6 L855.2 2111.9 L856.2 2134.1 L856.2 2147.3 L856.2 2124 L856.8 2089.6 L857.4 2131.8 L858.5 2151.9 L858.5 2120 L858.1 2096.7 L858.8 2088.9 L859.6 2104.5 L860.8 2127.3 L860.8 2144.1 L860.7 2120.8 L861.2 1831.7 L861.7 2128.6 L863.1 2149.1 L863.1 2169 L862.9 2145.7 L863.4 1950.4 L864 2153.5 L865.3 2171.5 L865.3 2140.8 L865.4 2117.5 L866 1776.2 L866.6 2125.3 L867.6 2146.1 L867.6 2169.5 L867.4 2146.2 L868.2 2045.7 L868.9 2153.9 L869.9 2171.9 L869.9 2114.4 L869.9 2091.2 L870.6 1857.8 L871.3 2098.9 L872.1 2122.4 L872.1 2166.2 L871.9 2142.9 L872.5 2028.6 L873.1 2150.7 L874.4 2168.9 L874.4 2143.2 L874.2 2119.9 L874.9 2077.8 L875.5 2127.6 L876.7 2148.2 L876.7 2153.1 L876.5 2129.8 L877.2 1866.4 L877.8 2137.6 L879 2157.2 L879 2146 L878.9 2122.7 L879.5 1898.6 L880 2130.4 L881.2 2150.7 L881.2 2168.7 L881 2145.4 L881.7 1548.6 L882.4 2153.1 L883.5 2171.2 L883.5 2139.9 L883.6 2116.6 L884.1 1687.2 L884.6 2124.3 L885.8 2145.2 L885.8 2116.4 L885.7 2093.1 L886.3 1836.3 L886.8 2100.8 L888 2124.1 L888 2145.7 L887.7 2122.4 L888.5 1923.4 L889.2 2130.2 L890.3 2150.5 L890.3 2150.5 L890.4 2127.2 L891 1708.4 L891.5 2135 L892.6 2154.8 L892.6 2165 L892.6 2141.8 L893.3 1898 L893.9 2149.5 L894.9 2167.9 L894.9 2166.5 L894.6 2143.3 L895.2 1950.9 L895.8 2151 L897.1 2169.3 L897.1 2165.6 L897.1 2142.3 L897.8 1631 L898.6 2150 L899.4 2168.4 L899.4 2153.2 L899.3 2129.9 L899.9 1641.6 L900.5 2137.6 L901.7 2157.2 L901.7 2120.1 L901.5 2096.8 L902 1793.1 L902.5 2104.6 L903.9 2127.5 L903.9 2148.6 L903.9 2125.3 L904.4 1850.8 L904.9 2133.1 L906.2 2153.1 L906.2 2165.3 L906.2 2142 L906.8 1670.2 L907.3 2149.8 L908.5 2168.2 L908.5 2141.4 L908.1 2118.1 L908.8 2066.6 L909.5 2125.9 L910.8 2146.6 L910.8 2134.9 L910.5 2111.6 L911.2 1548.6 L911.9 2119.3 L913 2140.7 L913 2161.9 L912.8 2138.6 L913.4 1756.2 L914 2146.3 L915.3 2165.1 L915.3 2167.2 L915 2143.9 L915.7 2087 L916.5 2151.6 L917.6 2169.8 L917.6 2155.8 L917.4 2132.5 L917.9 1932.7 L918.4 2140.3 L919.8 2159.6 L919.8 2141.8 L919.9 2118.5 L920.4 1813.1 L920.9 2126.3 L922.1 2147 L922.1 2150.7 L921.9 2127.4 L922.4 1710.5 L923 2135.2 L924.4 2155 L924.4 2154 L924.3 2130.7 L924.8 2046.6 L925.4 2138.4 L926.7 2157.9 L926.7 2128.3 L926.7 2105 L927.3 1744.2 L927.9 2112.8 L928.9 2134.8 L928.9 2111.5 L928.7 2088.2 L929.3 1997.5 L930 2096 L931.2 2119.7 L931.2 2146.9 L930.9 2123.6 L931.6 1982 L932.3 2131.4 L933.5 2151.6 L933.5 2136.3 L933.2 2113 L934 1548.6 L934.7 2120.7 L935.7 2142 L935.7 2119 L935.6 2095.7 L936.4 1689.6 L937.1 2103.5 L938 2126.5 L938 2155 L937.8 2131.7 L938.6 1751.8 L939.3 2139.5 L940.3 2158.9 L940.3 2127.8 L940.3 2104.5 L940.9 1818.8 L941.5 2112.3 L942.6 2134.4 L942.6 2132.9 L942.7 2109.6 L943.3 1864.6 L943.8 2117.4 L944.8 2139 L944.8 2118.3 L944.8 2095 L945.4 1912.5 L946.1 2102.7 L947.1 2125.8 L947.1 2162.8 L947.1 2139.5 L947.7 1951.7 L948.3 2147.3 L949.4 2165.9 L949.4 2164.6 L949.4 2141.3 L950 1975.4 L950.6 2149 L951.6 2167.5 L951.6 2129.4 L951.3 2106.1 L952 1609.7 L952.8 2113.9 L953.9 2135.8 L953.9 2146.6 L954 2123.3 L954.6 1946.7 L955.1 2131.1 L956.2 2151.3 L956.2 2115.8 L956.1 2092.5 L956.9 1898.7 L957.7 2100.2 L958.5 2123.5 L958.5 2165.6 L958.3 2142.3 L958.9 2079.7 L959.5 2150.1 L960.7 2168.4 L960.7 2130 L960.8 2106.7 L961.4 1548.6 L962 2114.4 L963 2136.3 L963 2109.2 L962.8 2085.9 L963.5 2057.4 L964.2 2093.7 L965.3 2117.6 L965.3 2168 L965.2 2144.7 L965.8 1930.8 L966.3 2152.5 L967.6 2170.6 L967.6 2151 L967.5 2127.7 L968.2 1593.1 L968.9 2135.5 L969.8 2155.2 L969.8 2122.2 L969.6 2098.9 L970.3 1548.6 L971 2106.7 L972.1 2129.3 L972.1 2155.9 L971.9 2132.6 L972.6 1548.6 L973.2 2140.4 L974.4 2159.7 L974.4 2132.8 L974.3 2109.5 L975 1943.3 L975.7 2117.3 L976.6 2138.9 L976.6 2156.5 L976.3 2133.2 L977.1 1783.3 L977.8 2141 L978.9 2160.2 L978.9 2113.5 L978.8 2090.2 L979.4 1787.4 L980 2097.9 L981.2 2121.5 L981.2 2112.6 L981 2089.3 L981.7 2081.6 L982.4 2097.1 L983.5 2120.7 L983.5 2113.9 L983.3 2090.6 L983.9 2021.6 L984.6 2098.3 L985.7 2121.8 L985.7 2112.2 L985.4 2088.9 L986.1 1572.7 L986.7 2096.7 L988 2120.3 L988 2133 L987.7 2109.7 L988.4 1851.5 L989.1 2117.5 L990.3 2139.1 L990.3 2166.6 L990.2 2143.3 L990.8 1885.3 L991.4 2151.1 L992.5 2169.3 L992.5 2154.1 L992.5 2130.8 L993 1726.7 L993.6 2138.5 L994.8 2158 L994.8 2115.8 L994.8 2092.6 L995.4 1686.7 L996 2100.3 L997.1 2123.6 L997.1 2128.7 L997.1 2105.4 L997.7 1548.6 L998.3 2113.1 L999.4 2135.2 L999.4 2166 L999.5 2142.7 L1000.1 1629.3 L1000.6 2150.5 L1001.6 2168.8 L1001.6 2110.2 L1001.6 2086.9 L1002.3 1636 L1003 2094.7 L1003.9 2118.5 L1003.9 2149.5 L1004 2126.2 L1004.6 1880 L1005.2 2134 L1006.2 2153.9 L1006.2 2134.1 L1005.9 2110.8 L1006.6 1980.3 L1007.2 2118.5 L1008.4 2140 L1008.4 2122.7 L1008.6 2099.4 L1009.1 1878.9 L1009.7 2107.2 L1010.7 2129.8 L1010.7 2125.6 L1010.7 2102.3 L1011.2 1548.6 L1011.8 2110 L1013 2132.4 L1013 2167.6 L1013 2144.3 L1013.6 1970.6 L1014.1 2152.1 L1015.3 2170.2 L1015.3 2151.4 L1014.9 2128.1 L1015.6 1580.9 L1016.3 2135.8 L1017.5 2155.6 L1017.5 2123.6 L1017.6 2100.3 L1018.1 1658.3 L1018.7 2108.1 L1019.8 2130.6 L1019.8 2114.4 L1019.7 2091.1 L1020.4 1548.6 L1021 2098.8 L1022.1 2122.3 L1022.1 2115.1 L1022.1 2091.9 L1022.7 2026.4 L1023.3 2099.6 L1024.3 2123 L1024.3 2166.3 L1024.2 2143 L1025 2082.5 L1025.7 2150.7 L1026.6 2169 L1026.6 2140.1 L1026.6 2116.8 L1027.2 1565.5 L1027.8 2124.6 L1028.9 2145.5 L1028.9 2137.7 L1028.7 2114.4 L1029.5 1847.1 L1030.2 2122.2 L1031.2 2143.3 L1031.2 2116.9 L1031.1 2093.6 L1031.7 1693.7 L1032.2 2101.4 L1033.4 2124.6 L1033.4 2116.8 L1033.1 2093.5 L1033.8 1804.8 L1034.5 2101.2 L1035.7 2124.5 L1035.7 2132.8 L1035.6 2109.6 L1036.1 1548.6 L1036.7 2117.3 L1038 2138.9 L1038 2149.7 L1038 2126.5 L1038.5 1811.2 L1039 2134.2 L1040.2 2154.1 L1040.2 2141.1 L1039.9 2117.8 L1040.6 1822.4 L1041.4 2125.5 L1042.5 2146.3 L1042.5 2168.1 L1042.4 2144.8 L1043.2 1992.1 L1043.9 2152.5 L1044.8 2170.6 L1044.7 2182.7 L215.6 2182.7Z" fill="#FF0000" fill-opacity="0.3"/>
<path d="M217.2 2192V2182.3M217.5 2182.6h0M215.7 2182.4h0M216.1 2182.1h0M216.3 2179.7h0M215.7 2179.6h0M217.7 2177.3h0M217.8 2174.8h0M218.8 2192V2184.1M218.8 2184.8h0M218.1 2183.9h0M218.9 2182.2h0M218.3 2181.8h0M218.1 2179.6h0M217.9 2178.9h0M218.8 2177.7h0M221.7 2192V2183M221.1 2181.6h0M220.8 2181.3h0M222.2 2181.3h0M221.2 2179.1h0M221.7 2177.9h0M222.2 2177.8h0M221.6 2175.9h0M222.9 2192V2183.1M222.6 2181.6h0M223.9 2180.4h0M222.6 2178.6h0M224.2 2178h0M222.7 2177.8h0M222.5 2177.2h0M224.7 2176.1h0M225.2 2192V2173.7M225.9 2175.1h0M226.7 2174.3h0M226.1 2173.8h0M226 2169.7h0M225.1 2164.3h0M225.2 2163.5h0M226.9 2160.5h0M228.4 2192V2182.1M227.7 2182.1h0M227.1 2180.7h0M229.2 2180h0M227.7 2179.3h0M228.9 2176.2h0M227.5 2174.7h0M229.1 2174.4h0M230.7 2192V2178.9M229.3 2178.8h0M231.3 2178.6h0M230.7 2175.3h0M230.6 2172.8h0M231.1 2171.8h0M229.8 2170.2h0M230.6 2169.1h0M233.2 2192V2174.6M232.3 2173.9h0M233.3 2172.8h0M233 2171.8h0M231.8 2166.9h0M232 2166.4h0M233.3 2163.7h0M233.3 2162h0M234.3 2192V2179.8M234.4 2178h0M234.2 2177.1h0M234.7 2175.8h0M234.6 2173.5h0M234.4 2172.9h0M235.8 2171.9h0M235.5 2170.6h0M237.6 2192V2172.4M236.6 2167.5h0M238.1 2167.1h0M238.1 2163.1h0M237.1 2162.3h0M237 2161.4h0M236.3 2161.2h0M238.3 2158.3h0M239.8 2192V2174.4M239.5 2169.9h0M240.2 2167.7h0M238.5 2167.7h0M238.3 2164h0M238.5 2163.5h0M239.3 2163h0M239.2 2161.7h0M241.7 2192V2172.9M241.3 2174.5h0M241.5 2169.5h0M241.7 2168.2h0M241.8 2167.7h0M242.3 2166.2h0M242.5 2162.1h0M242.8 2159.2h0M245.9 2192V2174.8M245.8 2176.1h0M247.3 2174.7h0M246.4 2172h0M245.3 2170.5h0M246.4 2169.4h0M246.7 2167.7h0M245.4 2162.2h0M249 2192V2183.7M249.1 2183.7h0M248.9 2183h0M247.4 2183h0M248.4 2182.2h0M248 2180.1h0M248.6 2179.5h0M247.7 2177.2h0M250.3 2192V2177.7M250.5 2177.7h0M251.6 2174h0M250.4 2172.5h0M250.1 2170h0M250 2168.8h0M251.1 2167.7h0M250.9 2167.1h0M253.7 2192V2184.2M253 2184h0M252 2183.8h0M253.5 2183.5h0M252.2 2183.5h0M253.7 2182.1h0M253.3 2179.5h0M252.4 2178h0M255.4 2192V2182.6M254.5 2180.6h0M256.5 2179.4h0M254.3 2178.2h0M256.3 2176.7h0M256 2176.2h0M255.1 2176.1h0M256 2175.2h0M257 2192V2184.1M258.7 2184.5h0M257.6 2184.1h0M256.9 2182.1h0M258.6 2181.4h0M256.8 2179.7h0M257.8 2179.7h0M258.6 2177.7h0M259.9 2192V2180.8M260.1 2181.6h0M259.6 2181.2h0M260.2 2179.2h0M260.1 2178.3h0M259.9 2178.1h0M260.5 2178.1h0M260.1 2172.3h0M262.7 2192V2180.6M261.2 2180.4h0M261.3 2177.6h0M262.5 2176.2h0M262.7 2174.8h0M261.2 2174.2h0M261.1 2174.1h0M261.8 2171.9h0M263.8 2192V2176.3M263.7 2177h0M263.4 2174.9h0M263.7 2171.9h0M265.5 2170.7h0M265.2 2169.1h0M264.6 2168.4h0M264.7 2164.7h0M267.1 2192V2178.6M266 2177.1h0M265.9 2175.8h0M266.2 2175.7h0M266 2172.9h0M265.9 2171.8h0M267.2 2170.5h0M266.3 2168.5h0M269.1 2192V2182.7M268.6 2181.9h0M268.2 2180.6h0M270 2180.6h0M268.3 2180.5h0M268.5 2179.3h0M268.8 2179h0M268.1 2175.5h0M271.3 2192V2181.9M272 2180.1h0M270.1 2179.9h0M271.4 2179h0M270.9 2178.6h0M270.6 2176.9h0M272.1 2176.5h0M270.6 2174.2h0M273 2192V2178.2M274.1 2177.9h0M273.8 2177.6h0M272.4 2176.9h0M273.7 2176.9h0M272.8 2174.9h0M273.1 2171.4h0M272.6 2168h0M275.4 2192V2181.5M275.4 2179.6h0M276.5 2179.5h0M275.5 2178.4h0M275.5 2178.1h0M275.8 2176.1h0M275.9 2175.3h0M275.5 2173.4h0M277.7 2192V2168M279 2166.8h0M279.1 2163h0M277.5 2161.3h0M279 2160.6h0M277 2159.5h0M278.6 2158.5h0M277 2150.9h0M280.1 2192V2161.5M280.2 2163.2h0M279.5 2161.7h0M280.7 2160.1h0M280.1 2159.5h0M280.5 2157.7h0M281.5 2145.1h0M280.8 2140.2h0M283.1 2192V2166.1M282.6 2167.9h0M283.4 2161.8h0M283 2159.2h0M282.8 2158.4h0M283.3 2152.5h0M282.6 2151.5h0M283 2147.7h0M285.5 2192V2169.6M285.6 2166.3h0M285.8 2163h0M284.9 2162.2h0M285.7 2162h0M284.4 2161.9h0M285.7 2156.2h0M286 2153.7h0M287.1 2192V2163.8M288.2 2164h0M287.4 2162.1h0M286.1 2161.2h0M287.7 2160.6h0M287.1 2149.8h0M288 2148.5h0M286.4 2144h0M290 2192V2177.5M288.5 2178.7h0M288.4 2177.1h0M289.2 2176.1h0M289.7 2171.7h0M290.3 2170.2h0M289.2 2170h0M288.7 2166.8h0M291.1 2192V2177.5M291.4 2178h0M292.2 2175.7h0M291 2171.6h0M292.3 2171.5h0M291 2170.9h0M291.6 2170.5h0M291.2 2166.8h0M294.3 2192V2177.8M294.5 2178.9h0M292.9 2176.3h0M293.5 2175.4h0M293.3 2174.8h0M294.8 2172h0M294.2 2168.5h0M294.3 2167.3h0M296.2 2192V2170.7M296.7 2170.2h0M296 2168.5h0M296.3 2167.8h0M296.2 2166.7h0M295.3 2160.5h0M295.3 2158.8h0M295.9 2155.5h0M298.1 2192V2172.1M297.8 2168.5h0M298.9 2163.4h0M298.8 2162.3h0M298.7 2161.9h0M298.5 2160.9h0M299.1 2160.4h0M299 2157.7h0M300.7 2192V2169.5M300.4 2167.9h0M300 2161.9h0M300.4 2159.9h0M300.7 2159.3h0M301.8 2159h0M300.8 2157h0M301.2 2153.4h0M302.5 2192V2171.9M302.6 2170.8h0M303.6 2170.4h0M303.4 2170.2h0M304.2 2164.8h0M302.2 2161.9h0M303.7 2160.8h0M303 2157.5h0M304.8 2192V2176.3M306.3 2173.6h0M305.4 2172.7h0M305.4 2172.2h0M305.6 2171.7h0M304.3 2168.1h0M305.1 2167.9h0M306 2164.8h0M312.1 2192V2177.7M312.7 2177.3h0M312.8 2176.3h0M312.2 2176h0M312.5 2175.8h0M312.1 2175.3h0M311.7 2173.2h0M312.2 2167.2h0M313.8 2192V2177.2M313.7 2176.8h0M314.8 2176.3h0M314.9 2172.4h0M315 2170.2h0M314.1 2170h0M314.6 2169.3h0M313.8 2166.3h0M317 2192V2174.5M315.7 2176h0M317.2 2175.6h0M316.5 2175.1h0M316.4 2171.6h0M316.7 2169.4h0M316.4 2165.2h0M317.5 2161.7h0M319 2192V2182M318.3 2181.9h0M319 2181.4h0M319.5 2179.1h0M319.5 2178.7h0M319.4 2178.2h0M319.4 2175h0M317.8 2174.2h0M321.1 2192V2182.4M321.1 2183.1h0M322.2 2180.4h0M321.5 2179.8h0M321.7 2179.3h0M321.7 2177.6h0M322.3 2175.8h0M321.6 2174.9h0M323 2192V2181M323.6 2181.2h0M323.2 2181.1h0M324.2 2180.9h0M322.8 2179.8h0M323.2 2175.7h0M323.3 2174.7h0M323.9 2172.6h0M325.5 2192V2180.5M325 2176.5h0M325.1 2175.8h0M325 2175.8h0M325.9 2175.1h0M326.2 2174.9h0M326.3 2173.7h0M325.1 2171.7h0M327.9 2192V2184M328.5 2182.7h0M329 2182.6h0M327.3 2182.2h0M328.9 2181.9h0M328.3 2180.8h0M329 2177.9h0M329.1 2177.6h0M330.2 2192V2177.3M329.6 2176.6h0M330.6 2174.7h0M329.8 2172.3h0M330.5 2171.9h0M330.5 2171.8h0M330.9 2171.4h0M331.3 2166.5h0M332.2 2192V2181M332.9 2176.1h0M333.4 2175.3h0M332.9 2174.5h0M333.2 2174.3h0M333.6 2174.2h0M332.4 2173.9h0M333.2 2172.6h0M335.5 2192V2181.1M335.5 2181.8h0M335.5 2179.2h0M335.4 2175.9h0M335 2174.7h0M335.2 2174h0M335.4 2173.7h0M334.9 2172.8h0M337.3 2192V2183.3M337.8 2182.8h0M336.8 2182.7h0M338.1 2182.2h0M336.5 2181.6h0M336.4 2179.3h0M337.5 2178.7h0M337.8 2176.5h0M339.1 2192V2181.3M340.2 2180.6h0M339.3 2180.3h0M340.2 2178.7h0M338.4 2177.9h0M339.6 2176.4h0M339.1 2173.7h0M339 2173h0M341.1 2192V2184.9M341.7 2184.6h0M342.2 2183.2h0M340.6 2183.1h0M342.5 2181.7h0M342.5 2180.8h0M342.7 2180.2h0M341 2179.1h0M343.6 2192V2178.2M344 2179.1h0M343.7 2176.1h0M343.7 2174.5h0M343.6 2172.8h0M344.7 2171.1h0M343.8 2170.5h0M343.3 2168h0M345.7 2192V2177.5M345.8 2178.4h0M345.6 2176.9h0M345.7 2172.8h0M345.2 2172.2h0M346.7 2171.3h0M345.9 2167.5h0M346.7 2166.7h0M348 2192V2180.4M347.6 2180.7h0M349 2179.5h0M347.5 2174.9h0M348.8 2174.5h0M348.6 2174.3h0M349 2173.4h0M347.6 2171.6h0M351.1 2192V2177.3M351.1 2175.2h0M350.1 2173.9h0M350.5 2170.4h0M350 2169.9h0M350.6 2169.3h0M351.9 2167.9h0M350.5 2166.5h0M352.5 2192V2167.4M353.4 2167h0M353.5 2164h0M353.3 2157.6h0M352.6 2157.2h0M353.3 2156.4h0M351.9 2152.9h0M352.8 2150h0M354.8 2192V2167.6M355.3 2163.5h0M354.6 2161.5h0M355.6 2156.6h0M355.5 2153.1h0M354.3 2152.5h0M355 2151.1h0M356.3 2150.3h0M358.1 2192V2169.5M358.7 2170.5h0M356.9 2167.3h0M357.9 2167h0M358.6 2163.7h0M358.5 2163.5h0M356.8 2161.2h0M357.5 2153.4h0M359.4 2192V2178.7M359.4 2177.8h0M359.5 2176h0M360.3 2176h0M359.1 2175.9h0M360.3 2174.8h0M359.5 2174.6h0M358.9 2168.8h0M362.6 2192V2174.7M362.3 2174.4h0M362.7 2173.8h0M362.3 2173.7h0M362.1 2172.2h0M362 2171.3h0M361.6 2164h0M363.2 2162.1h0M365 2192V2179M365.2 2177.7h0M364.9 2176.6h0M363.3 2173.8h0M365.2 2172.6h0M363.4 2172.5h0M365.2 2171.2h0M363.3 2169.2h0M366.8 2192V2172.2M367.6 2171h0M365.9 2169.9h0M367.4 2169.5h0M366 2165.3h0M367.4 2163.4h0M366.5 2159.5h0M366.9 2157.9h0M369.1 2192V2180.9M369 2180h0M368.5 2179.2h0M369.6 2179.1h0M368.3 2177.4h0M369.4 2174.2h0M369.5 2173.8h0M368 2172.4h0M452.7 2192V2174.6M452.7 2173.3h0M452.4 2170.1h0M452.3 2169.8h0M453.4 2168.5h0M453.3 2163.1h0M452.4 2162.6h0M453 2161.9h0M455.4 2192V2171.6M455.8 2168.1h0M455.5 2167.6h0M456.1 2164.1h0M455.2 2161.8h0M454.2 2161h0M456.2 2158h0M455.4 2156.9h0M457 2192V2167.8M456.8 2168.7h0M457.1 2161.9h0M456.9 2160.4h0M456.8 2156.2h0M458 2156h0M457.8 2153.5h0M458.3 2150.5h0M460.2 2192V2178.6M460 2179.2h0M460.2 2177.7h0M458.7 2175.4h0M459.2 2173.3h0M459.9 2172.8h0M460.2 2171.5h0M459.7 2168.6h0M462.4 2192V2177.7M462.5 2178h0M463.1 2175.3h0M461.8 2175.1h0M461.4 2172.8h0M461.9 2171.4h0M462.2 2169h0M461.3 2167.1h0M464.2 2192V2169.3M464.2 2167.4h0M463.2 2163.4h0M464.1 2161.6h0M464.4 2157.7h0M465 2155.7h0M464 2153.8h0M464.7 2153.1h0M466.6 2192V2174.9M467.1 2176.1h0M466.3 2174h0M466.6 2168.9h0M466.7 2167h0M467.2 2165.4h0M466.6 2164h0M466.9 2162.4h0M469.6 2192V2180.4M469.6 2180.2h0M468.4 2178.1h0M468.5 2176.9h0M469.2 2176.4h0M468 2174.5h0M470 2174.1h0M469.1 2171.6h0M470.8 2192V2179M470.6 2178.7h0M470.7 2177.3h0M471.8 2174.5h0M471.6 2174.3h0M471.7 2174.2h0M472.1 2173.4h0M472 2169.3h0M473.5 2192V2169M474 2169.9h0M473.7 2164.5h0M472.5 2163.1h0M473.6 2162.5h0M473.1 2159.5h0M473.9 2157.4h0M473.9 2152.7h0M476.1 2192V2172M475.8 2169h0M476.5 2165.9h0M476.1 2163.6h0M476.5 2160.1h0M474.7 2158.9h0M476.8 2158.5h0M476.7 2157.6h0M480.1 2192V2169.4M479.6 2169h0M481.2 2167h0M480.3 2160h0M479.2 2158.2h0M480 2156.7h0M480.7 2154.4h0M481.1 2153.2h0M481.9 2192V2162.5M482 2158.5h0M481.6 2153.1h0M482 2151.6h0M482.9 2150.4h0M482.6 2148.2h0M482.7 2146.6h0M482.6 2141.8h0M484.9 2192V2170.1M484.5 2165.9h0M485.8 2161h0M485 2159.6h0M484.4 2159.3h0M485.1 2158.8h0M485.2 2158.2h0M485.8 2154.4h0M487 2192V2174.2M486.6 2174.8h0M487.5 2171.7h0M488.1 2170.4h0M488.1 2166.2h0M487.2 2165.9h0M488 2162.9h0M486.9 2161.2h0M488.9 2192V2162.8M488.8 2163.3h0M489.8 2160.2h0M490.3 2154.9h0M488.4 2151.2h0M489.8 2146.8h0M488.4 2144.6h0M490 2142.2h0M491.5 2192V2178.8M491.5 2176.8h0M491.6 2175.7h0M491.8 2175.5h0M492.4 2174.9h0M490.5 2169.8h0M492.3 2169.2h0M492.7 2168.9h0M493.8 2192V2174.6M494.5 2171h0M493.9 2169.8h0M494.8 2169.7h0M494 2168.4h0M494.7 2166.2h0M493.8 2165.8h0M494.3 2162h0M495.7 2192V2172.4M496.2 2173.2h0M496.1 2169.7h0M497.1 2166.1h0M496.5 2165.2h0M496.8 2164.4h0M495.9 2160.3h0M497.1 2158.2h0M499 2192V2178.8M498.3 2176.2h0M498.8 2175.9h0M499.1 2173.3h0M498.9 2172.8h0M497.5 2172.2h0M497.4 2170.9h0M499.2 2168.9h0M500.7 2192V2177.8M501.1 2176.2h0M500.2 2175.6h0M500.7 2171.7h0M499.7 2170.5h0M499.7 2170.1h0M501.7 2167.9h0M501.5 2167.3h0M503.3 2192V2178.2M503.1 2179.2h0M502.8 2175.6h0M503.8 2174.2h0M503.8 2173.6h0M503.6 2173.5h0M503.6 2173.2h0M503 2168h0M505.4 2192V2161.1M505.4 2159.7h0M505.2 2157h0M505.6 2152.4h0M505.7 2149.2h0M505.9 2146.1h0M505.4 2145.4h0M505.6 2139.5h0M507.1 2192V2177M508.2 2175.7h0M508.2 2174.3h0M507.6 2171.9h0M507.6 2169.8h0M506.8 2169.2h0M506.6 2167.8h0M508.1 2165.9h0M509.7 2192V2176.4M509.5 2173h0M510.9 2169.6h0M509.5 2169.5h0M509.2 2169.1h0M509.9 2167.5h0M510.7 2167.5h0M510.8 2164.9h0M512.1 2192V2173.1M511.4 2164h0M512.4 2164h0M512.7 2163.3h0M511.9 2161.7h0M511.3 2161.6h0M511.7 2159.8h0M512.7 2159.5h0M515 2192V2178.6M513.7 2175.2h0M514.8 2172.8h0M514.6 2171.8h0M515.4 2171h0M514.1 2170.9h0M514.1 2170.4h0M513.5 2168.5h0M516.1 2192V2169.6M517.2 2170.1h0M517.2 2167.7h0M517.6 2167.5h0M516.8 2164.7h0M515.8 2162.3h0M515.7 2158.4h0M516.9 2153.6h0M518.7 2192V2174.5M518.4 2170.9h0M519.8 2169.9h0M519.2 2169.9h0M519.7 2168.4h0M518.3 2167.9h0M520 2164.7h0M519.2 2161.8h0M520.7 2192V2162.5M520.7 2164.1h0M521.5 2163.3h0M520.4 2163.1h0M522 2160.1h0M522.3 2155.9h0M521.4 2153.9h0M520.1 2141.7h0M524.1 2192V2170M523.6 2169.2h0M524.5 2166.7h0M522.4 2162.1h0M523 2161.7h0M522.7 2160.7h0M522.8 2158.1h0M523 2154.2h0M525.7 2192V2162.6M524.6 2159.7h0M526.5 2158.4h0M524.7 2158.3h0M525.5 2156.9h0M526.8 2156.3h0M524.9 2151.4h0M524.7 2142h0M527.6 2192V2167.5M528.2 2161.3h0M528 2160.5h0M527.1 2158.2h0M528.9 2156.8h0M527.1 2156.4h0M528.5 2155.1h0M527.8 2150.1h0M530.2 2192V2168.9M529.5 2164.9h0M531.2 2160.3h0M530.8 2157h0M531.2 2156h0M529.9 2155.1h0M530.4 2153.6h0M531.1 2152.5h0M535.4 2192V2172.2M533.8 2172.5h0M534.2 2169.8h0M535.6 2168.6h0M533.7 2165.3h0M533.9 2164h0M535.5 2162.4h0M535.2 2158h0M536.4 2192V2162.4M537.8 2161.9h0M536.6 2155.8h0M536.1 2155.3h0M536.1 2150.2h0M536.6 2149.9h0M537.3 2148.7h0M537.5 2141.7h0M539.6 2192V2161.8M538.7 2160h0M540.3 2158.4h0M539.1 2148.8h0M539.5 2147.7h0M538.7 2147.3h0M539.3 2145.9h0M538.2 2140.6h0M541.8 2192V2160.1M542.1 2152.8h0M542 2152.4h0M540.8 2151.1h0M542.3 2147.4h0M541.4 2147.2h0M541.9 2142.5h0M541.7 2137.8h0M543.5 2192V2156.5M543.4 2156.4h0M544.1 2155.5h0M545 2154.6h0M543.4 2148.2h0M543.2 2142.9h0M543.6 2139.2h0M544.5 2131.8h0M545.9 2192V2155.9M545.1 2156.5h0M545 2145.7h0M546.9 2144.7h0M546.2 2138.3h0M546.6 2136.7h0M546.5 2136.6h0M546.9 2130.8h0M548 2192V2154.6M547.9 2147.1h0M548.7 2141.8h0M548.4 2140.7h0M549.4 2138.3h0M547.8 2134.2h0M548.7 2130.3h0M547.5 2128.5h0M550 2192V2158.6M551.3 2153.6h0M550.4 2148.1h0M549.9 2145.4h0M550.4 2144.5h0M549.8 2144.4h0M549.8 2136.3h0M549.8 2135.2h0M553.3 2192V2169.7M553.1 2167.6h0M553.1 2165.6h0M553.9 2162.3h0M553.2 2161.5h0M552.6 2159.6h0M553.6 2159.5h0M552.2 2153.8h0M555.6 2192V2164.8M556.3 2165.7h0M556.4 2163.4h0M555.7 2159.6h0M554.8 2158.6h0M555.2 2154.7h0M555.9 2153.3h0M556.1 2145.6h0M557.3 2192V2168M556.8 2160.5h0M556.6 2160.1h0M557.3 2158h0M557 2157.9h0M556.7 2156.3h0M558.6 2154.3h0M557.9 2150.9h0M560.3 2192V2153.1M558.6 2153.1h0M558.9 2152.8h0M558.9 2148.5h0M560.3 2137.2h0M560.1 2131.2h0M559.1 2129.4h0M559.6 2126.1h0M561.5 2192V2151.7M563.1 2153.1h0M561.5 2148h0M561.5 2144.6h0M561.7 2142.7h0M561.5 2135.5h0M561.5 2132.7h0M563 2123.7h0M563.7 2192V2159.2M564.7 2156.4h0M565.3 2153.8h0M563.7 2152.5h0M563.9 2145.9h0M565.1 2143.7h0M564.2 2141.9h0M564.2 2136.3h0M567 2192V2156.1M567.2 2151.3h0M566.1 2150.6h0M567 2149.8h0M566.2 2144.4h0M567.3 2138.5h0M566.6 2137.9h0M566 2131h0M568.6 2192V2173.2M569.1 2171.2h0M567.9 2168.1h0M567.8 2166.7h0M569.2 2165.1h0M568.1 2163.9h0M569.6 2161.8h0M569.2 2159.6h0M570.9 2192V2157.1M571.6 2156.5h0M570.8 2154.3h0M571.2 2144.2h0M572.1 2141.9h0M571.1 2139.4h0M571 2134.5h0M571.3 2132.7h0M574 2192V2151.7M574 2148.6h0M573 2143h0M573.4 2134.2h0M572.9 2133.8h0M572.9 2132.1h0M574.3 2128.4h0M574 2123.7h0M576 2192V2160M576.5 2154.1h0M576.3 2152.6h0M575 2151.2h0M575 2144h0M574.6 2143.9h0M576.3 2143.8h0M574.7 2137.6h0M577.7 2192V2160.6M577.2 2162h0M578.9 2161.1h0M578.5 2160.5h0M577.1 2158.3h0M576.9 2153.5h0M577 2147.5h0M578.5 2138.6h0M580.2 2192V2162.5M581.3 2161.1h0M581.2 2158.3h0M580.8 2157.7h0M580.9 2149.7h0M580.1 2147.9h0M581.1 2146h0M580.6 2141.7h0M583 2192V2151.7M581.9 2146.5h0M581.5 2138.6h0M582.7 2137.7h0M581.8 2135.5h0M582.7 2135.4h0M582.3 2132h0M582.3 2123.7h0M584.6 2192V2172.7M584.9 2171h0M583.8 2170.2h0M585.5 2169h0M584.5 2167h0M584.1 2165.2h0M584.1 2163h0M585.9 2158.8h0M587.3 2192V2165.4M586.5 2167.4h0M588.1 2167.4h0M587.7 2165.8h0M586 2165.7h0M587.9 2158.9h0M587 2156.5h0M588.1 2146.6h0M589.3 2192V2168.4M589.7 2163.7h0M588.7 2163.1h0M589.8 2159.2h0M588.6 2157.3h0M588.5 2155.5h0M589.3 2155.4h0M588.6 2151.6h0M591 2192V2162.9M591.6 2163.7h0M591.7 2162.1h0M592 2153.4h0M592.5 2152.4h0M591.4 2151.4h0M592.5 2150.7h0M590.8 2142.4h0M596.7 2192V2170.8M596.9 2168h0M596.1 2166.6h0M596 2165.8h0M597 2163.8h0M596.7 2163.3h0M595 2156.9h0M597.2 2155.6h0M598.3 2192V2170.7M597.3 2170.8h0M599.5 2167.9h0M598.8 2162.1h0M598.1 2161.7h0M599.1 2159.9h0M599.1 2158.9h0M598.8 2155.4h0M601.2 2192V2172.3M600.9 2168.4h0M599.7 2167.3h0M599.7 2166.6h0M599.9 2166.4h0M600.7 2164.5h0M601 2162h0M601.8 2158.1h0M602.7 2192V2159.7M602.5 2158.7h0M604 2157.8h0M603.3 2151.6h0M603.7 2143.4h0M603.9 2142.7h0M602.4 2141.9h0M603.6 2137h0M605.4 2192V2153.2M605 2146.1h0M606.3 2145.2h0M604.8 2144.6h0M604.6 2135.4h0M606.1 2135h0M606.1 2132.2h0M604.4 2126.3h0M607.8 2192V2151.7M606.6 2148.9h0M607.5 2148.3h0M607.9 2144.2h0M608.5 2143h0M607.7 2131.9h0M608.3 2129.7h0M607.5 2123.7h0M609.8 2192V2165.7M609.9 2167.5h0M610.2 2159.4h0M609.6 2158.3h0M610.3 2155.7h0M609.8 2155.6h0M609.5 2155.2h0M609.2 2147h0M611.6 2192V2155.7M612.3 2158.4h0M610.9 2143.4h0M612.5 2142.4h0M612.1 2137.4h0M611.4 2135.8h0M611.2 2133.8h0M611.8 2130.5h0M614.5 2192V2152.6M614 2152.8h0M614.2 2147h0M613.6 2145.7h0M615.3 2140.9h0M613.7 2137.1h0M613.4 2131.8h0M614.7 2125.3h0M616.3 2192V2168.3M617.6 2167h0M616.7 2166.4h0M615.8 2158.1h0M616.3 2157h0M617.2 2156.8h0M615.7 2154.7h0M616.9 2151.4h0M618.6 2192V2155.5M619 2154.8h0M619.1 2148.6h0M619.1 2141.8h0M618.4 2141.3h0M618.3 2141.3h0M618.4 2136.2h0M617.8 2130.2h0M621.7 2192V2168M621.5 2168.5h0M621.9 2160.1h0M621.7 2158.8h0M621.9 2155.9h0M620.1 2155.7h0M622.2 2155.6h0M621.3 2150.9h0M623.1 2192V2161.4M623.7 2162.4h0M623.1 2157.2h0M623.2 2148.4h0M622.7 2148.1h0M623.6 2148.1h0M623.8 2142.4h0M624.3 2140h0M625.9 2192V2154M624.7 2153.2h0M626.5 2146.6h0M624.6 2145.8h0M625.6 2139.3h0M625 2139.2h0M624.6 2138.5h0M625.6 2127.6h0M627.6 2192V2172M628 2172h0M627.8 2171h0M627 2166.7h0M627.7 2162.9h0M626.8 2160.5h0M628.5 2159.4h0M628.4 2157.5h0M630.5 2192V2163.4M629.9 2160.3h0M629.5 2159.9h0M631.1 2157.6h0M629.1 2154.9h0M630.9 2147h0M631.2 2146.6h0M629.3 2143.2h0M632.1 2192V2151.7M632.9 2154.4h0M633 2144.1h0M632.8 2143.5h0M633.4 2140.6h0M632.6 2140.5h0M632 2140.2h0M631.4 2123.7h0M634.8 2192V2162.3M635.8 2164.1h0M633.8 2161.8h0M635.4 2155.7h0M633.7 2153.7h0M634.6 2149.2h0M634.2 2145.1h0M634.4 2141.4h0M637 2192V2165.5M636.7 2167h0M636.1 2165.3h0M638.1 2163.7h0M637.3 2158.6h0M636.6 2156.6h0M637.2 2150.1h0M636.3 2146.8h0M638.8 2192V2163.5M640.4 2163.5h0M639.4 2155.5h0M640.2 2153.9h0M638.2 2153.7h0M639.6 2153.6h0M639.3 2148.8h0M639 2143.5h0M641.3 2192V2171.7M642.4 2172.7h0M642.2 2170.4h0M641.3 2169.4h0M641.5 2169h0M641.7 2160.1h0M642.3 2158.1h0M640.4 2157.1h0M644.4 2192V2161.9M643.8 2162.6h0M644.7 2158.2h0M644.7 2157.6h0M644.9 2152.6h0M643.5 2148h0M643.8 2141.3h0M642.7 2140.8h0M646.6 2192V2166.5M645.9 2167.7h0M647.2 2165.1h0M645.8 2164.7h0M646 2161.4h0M646.5 2156.6h0M647.1 2156.5h0M646.9 2148.4h0M651.1 2192V2169.9M651.3 2164.6h0M649.7 2157.9h0M650 2157.8h0M649.8 2156.9h0M650.6 2156.4h0M649.7 2155.8h0M650.8 2154.1h0M652.4 2192V2151.7M653.4 2154.7h0M653.9 2153.2h0M652.8 2150.1h0M652.8 2146.3h0M654 2142.4h0M652.5 2132.6h0M653.8 2123.7h0M655.5 2192V2173.4M655.1 2173.8h0M655 2165h0M655.6 2162.9h0M655.1 2162.3h0M654.8 2162.2h0M654.7 2161.7h0M655 2159.9h0M657.9 2192V2158.5M657.8 2154.7h0M657.9 2149.7h0M657.8 2149.5h0M656.9 2145.7h0M656.4 2141.5h0M658.5 2138.5h0M658.4 2135h0M659.8 2192V2151.7M660.4 2150.5h0M659 2147.2h0M660.4 2145.8h0M659.5 2131.5h0M659.4 2128.3h0M659 2127.6h0M659.9 2123.7h0M661.8 2192V2151.7M661.8 2147h0M661.4 2144.3h0M661.4 2141.9h0M661.8 2133.1h0M662.7 2132.9h0M662 2129.1h0M662.8 2123.7h0M663.7 2192V2151.7M664.6 2148.7h0M664.3 2146.3h0M664.5 2145.2h0M664.5 2135.9h0M665.3 2132.2h0M664.9 2124.2h0M663.8 2123.7h0M666.5 2192V2164.6M667.5 2166.4h0M667.3 2159.2h0M666.9 2152.3h0M666.1 2149.9h0M666.5 2149.8h0M666 2148.4h0M666.2 2145.2h0M668.5 2192V2165.1M668.3 2164.3h0M667.9 2162.3h0M669.5 2161.8h0M668.7 2160.4h0M669.5 2159.1h0M668.4 2153.6h0M668.5 2146.1h0M670.6 2192V2172.2M670.4 2169.3h0M670.3 2166h0M671.9 2164.2h0M672.2 2162.4h0M670.9 2161h0M671.6 2159.3h0M671.5 2157.9h0M673.1 2192V2163.9M673.7 2163.5h0M673 2160.7h0M674.4 2155.3h0M672.3 2153.5h0M672.8 2149.4h0M673 2148.8h0M673.7 2144.2h0M675 2192V2159.3M675.5 2161.7h0M675.3 2152.1h0M675.4 2151.1h0M676 2149.8h0M675.3 2146.8h0M676.4 2146h0M675.3 2136.5h0M678 2192V2164.9M678.2 2167h0M678.3 2165.5h0M677.7 2161.5h0M677.6 2148.3h0M677.1 2147.5h0M677.1 2146.5h0M678.2 2145.7h0M679.7 2192V2173M681 2172.1h0M681.3 2170.6h0M680.7 2166.5h0M680.4 2164.7h0M681.2 2163.2h0M679.3 2162.6h0M680.8 2159.2h0M681.9 2192V2159M682 2157.1h0M681.9 2156.5h0M682.1 2151.7h0M682.1 2147.5h0M681.8 2142.9h0M681.8 2139.9h0M683.5 2136h0M684.5 2192V2161.1M684.9 2161.8h0M683.6 2161.2h0M685.7 2157.3h0M685.2 2155.4h0M684.8 2154.6h0M685.7 2147h0M684.8 2139.4h0M686.4 2192V2157.9M687.4 2156.8h0M687.6 2153.4h0M686 2152.8h0M687 2145.5h0M686.1 2142.2h0M686.1 2138.4h0M686.2 2134.2h0M688.9 2192V2154.8M690.4 2155.2h0M690 2149.5h0M689.2 2141.8h0M689.8 2138.3h0M688.7 2138.1h0M690.1 2136.3h0M688.7 2129h0M691.5 2192V2173.3M692.5 2172.2h0M691.6 2165.9h0M692 2164.3h0M691.9 2163.4h0M691.3 2162h0M691.6 2161.8h0M692.6 2159.8h0M694.1 2192V2151.7M694.4 2150.9h0M694.6 2150.3h0M694.5 2140.6h0M693.3 2140.2h0M694.1 2130.1h0M693.7 2129.1h0M693.6 2123.7h0M696 2192V2160.1M695.3 2151.6h0M696.4 2150.6h0M695.9 2145.5h0M696.9 2145.5h0M696.3 2145.1h0M696.8 2144.9h0M696.8 2137.7h0M697.7 2192V2172M697.2 2170.6h0M699.3 2165.7h0M697.9 2162.5h0M698.1 2162.1h0M699.3 2161.8h0M699 2158.7h0M698.1 2157.6h0M700.6 2192V2172.9M701.5 2174h0M699.8 2172.7h0M700.6 2168.4h0M701.7 2166h0M699.6 2163.7h0M701.1 2161h0M700.1 2159.1h0M702.3 2192V2161.4M702.4 2160h0M702.9 2152.2h0M702.8 2152h0M703.8 2148.4h0M703.8 2148.1h0M702.7 2147.9h0M702.9 2139.9h0M705.8 2192V2162.2M705.8 2164.3h0M704.8 2155.9h0M704.4 2155.6h0M704.9 2153.8h0M704.9 2153.2h0M706.1 2142.2h0M705.3 2141.3h0M707.3 2192V2153.8M707.2 2145.3h0M708.1 2143.1h0M706.3 2138.7h0M708.2 2135.2h0M707.9 2133.8h0M706.6 2131.7h0M706.9 2127.3h0M710.3 2192V2163.3M710.1 2162.5h0M710.2 2161.9h0M708.6 2150.6h0M709.3 2149.4h0M709.3 2149.4h0M710 2143.8h0M708.8 2143.1h0M711.6 2192V2151.7M711.7 2149.7h0M711.7 2148h0M711.9 2146.3h0M712.4 2137.6h0M710.9 2132.7h0M711.2 2129.6h0M712.4 2123.7h0M713.6 2192V2156.7M713.2 2156.3h0M714 2150.7h0M714.1 2137.3h0M714 2134.6h0M714.5 2134.6h0M714.9 2133.8h0M714.9 2132h0M716 2192V2160M717.3 2161.5h0M716.2 2158.5h0M717.3 2158h0M717.5 2155.1h0M717.1 2151.1h0M717.5 2149.5h0M716 2137.6h0M722.9 2192V2151.7M722.5 2146.5h0M722.9 2143.7h0M724.1 2143.5h0M724.4 2139h0M722.2 2136h0M724.1 2133.4h0M723.9 2123.7h0M725.2 2192V2170.4M724.6 2168.9h0M726.3 2163.2h0M726.5 2162.2h0M726.7 2161.6h0M725.9 2160.6h0M725.8 2156.1h0M724.9 2154.9h0M728.1 2192V2158.8M726.8 2160.1h0M727.4 2157.2h0M728.7 2152.6h0M728.2 2150.7h0M728.1 2147h0M726.8 2139h0M727.7 2135.7h0M730 2192V2165.8M731 2163.7h0M729.8 2159.8h0M730.9 2159.2h0M730.6 2159h0M729.6 2156.9h0M729.5 2151h0M729.3 2147.3h0M733 2192V2159.7M731.9 2161.6h0M731.4 2158.5h0M731.8 2156.3h0M732.2 2150.2h0M733.4 2141.5h0M733.5 2138.6h0M731.5 2137h0M734.7 2192V2151.7M734.7 2147.9h0M734.9 2135.2h0M734.5 2133.3h0M734.8 2129.6h0M735.6 2128.7h0M734.4 2126.3h0M734.6 2123.7h0M736.9 2192V2156.2M736.8 2154.9h0M736.7 2153.3h0M736.6 2146.8h0M737.7 2146.1h0M737.9 2142.2h0M737.5 2137h0M737.6 2131.3h0M739.8 2192V2155.2M739.5 2158.4h0M740.2 2152.3h0M739.3 2151.7h0M739.3 2148.2h0M739.4 2134.5h0M739.4 2131.2h0M739.4 2129.6h0M740.8 2192V2151.7M740.8 2151.6h0M741.3 2146.4h0M741.2 2142.7h0M740.9 2142.7h0M740.5 2134.2h0M741.3 2126.2h0M740.8 2123.7h0M743.1 2192V2155.8M744.6 2153.1h0M743.4 2146.5h0M743.2 2145.4h0M743.1 2143.3h0M743.2 2139.7h0M743.2 2139.2h0M743.8 2130.6h0M746.7 2192V2154.1M746.5 2145.6h0M746.5 2145.1h0M745 2140.9h0M745.2 2139.4h0M747.1 2133.2h0M746.6 2129.1h0M746.8 2127.8h0M747.8 2192V2154M749.2 2154.3h0M748 2149.2h0M748.3 2144.5h0M747.7 2144.3h0M748.3 2138.9h0M747.9 2131.4h0M749.1 2127.7h0M750.2 2192V2172.9M751.5 2172.9h0M750 2170.4h0M751.5 2168.3h0M750.5 2168.1h0M751.6 2165h0M749.7 2162.8h0M751.4 2159.1h0M753.5 2192V2159.3M752.7 2161.3h0M751.9 2158.6h0M752.9 2157.2h0M753.7 2154.8h0M751.9 2145.3h0M753.2 2140.7h0M752.1 2136.5h0M754.5 2192V2166.7M755.5 2168.1h0M754.3 2163.7h0M754.6 2163.5h0M755.1 2158.4h0M755.7 2155.9h0M756 2153.9h0M754.7 2148.8h0M757.6 2192V2173.1M758.1 2174h0M756.6 2170.4h0M758 2166h0M757.6 2163.2h0M756.6 2162.7h0M756.6 2161.4h0M758.2 2159.4h0M759.9 2192V2168.1M759.4 2166.4h0M759.4 2165.8h0M759.4 2163.3h0M759.2 2156.7h0M760.4 2156.3h0M759.2 2152.8h0M759.5 2151.1h0M762.2 2192V2153.6M761.5 2155.6h0M760.8 2146.6h0M762.5 2144.7h0M762.1 2144.4h0M762.3 2142.9h0M762.1 2139.1h0M761.7 2126.9h0M764 2192V2164M763.3 2163.4h0M764 2161.6h0M763.9 2157.2h0M763.3 2152.3h0M764.4 2152.1h0M764.9 2150.6h0M763.2 2144.3h0M766.6 2192V2171.2M767.4 2171.1h0M767.3 2168.3h0M766.3 2167.7h0M767.4 2164.9h0M765.5 2163.1h0M767.1 2160.9h0M766.2 2156.2h0M768.2 2192V2173M768.6 2171.5h0M767.7 2170h0M769.2 2168.9h0M769.3 2165.6h0M769.7 2165.3h0M769.8 2164.9h0M768.5 2159.2h0M770.7 2192V2151.7M770.3 2150.4h0M772 2143.8h0M772 2139.3h0M771.5 2137h0M771.9 2134.2h0M771.6 2133.7h0M771.4 2123.7h0M773.6 2192V2155.7M772.3 2151.7h0M772.6 2146.9h0M772.3 2143.6h0M773.8 2139.2h0M773 2139h0M774.4 2134.2h0M772.7 2130.5h0M775.7 2192V2159M775.6 2153.9h0M775.8 2153.7h0M775.2 2144.5h0M774.5 2143.2h0M776.6 2138.7h0M776.3 2138.4h0M775.3 2135.9h0M777.9 2192V2162.4M777.1 2161.3h0M778.5 2149.9h0M777.4 2147h0M778.7 2145.4h0M778.5 2145h0M777.6 2143.1h0M778 2141.6h0M779.6 2192V2155.8M779.6 2157.7h0M779.6 2155.6h0M780 2153.2h0M779.1 2146.9h0M779.1 2143.6h0M779.5 2142.9h0M780.6 2130.5h0M782.8 2192V2151.7M781.9 2153h0M783.4 2144.4h0M782.8 2138.9h0M783.1 2137.2h0M781.3 2135.9h0M782.9 2130.8h0M783.1 2123.7h0M787 2192V2169.6M787.4 2169.8h0M786.6 2165.3h0M787 2164.4h0M786.6 2162.4h0M786 2158.6h0M786.2 2155.3h0M788.1 2153.6h0M789.8 2192V2156.4M789.6 2156.1h0M788.9 2154.8h0M790.1 2152.6h0M788.5 2150.1h0M790.2 2145h0M788.5 2144.1h0M788.7 2131.7h0M791.9 2192V2169.7M791.1 2170h0M790.6 2169.5h0M791 2168.4h0M792.5 2165.9h0M790.6 2161.2h0M792.3 2157h0M790.6 2153.7h0M793.5 2192V2160.2M794.6 2157.6h0M794 2147h0M792.8 2146.9h0M794 2146.4h0M793.3 2144.1h0M794.1 2140.4h0M794.9 2138h0M795.4 2192V2159.3M796.6 2161.1h0M796.6 2159.9h0M796.8 2154.5h0M796.5 2153.1h0M795.9 2151.7h0M795.8 2143.8h0M795.1 2136.4h0M798.8 2192V2159M798.3 2159.2h0M797.8 2149.5h0M798.1 2146h0M798.7 2142.1h0M799.2 2139.6h0M799 2137.4h0M799.3 2136h0M801.2 2192V2166.6M801.3 2166.7h0M801.3 2159.7h0M801.3 2159.2h0M800.8 2154.4h0M801.6 2153.8h0M801.5 2151.3h0M799.5 2148.5h0M802.4 2192V2156.9M802.6 2156.1h0M801.9 2156h0M803.1 2151.2h0M802.4 2149.8h0M803.5 2147.1h0M803.8 2143.3h0M803.7 2132.5h0M805.2 2192V2151.7M804.3 2149.3h0M806.2 2146.9h0M805.3 2138h0M805.7 2137.1h0M805.8 2135.9h0M805.6 2132.2h0M805 2123.7h0M806.9 2192V2174.5M808.3 2173.1h0M808 2172.2h0M808.5 2169.6h0M808.5 2163.8h0M807.4 2163h0M807 2162.8h0M808.3 2161.7h0M809.2 2192V2169.5M810.2 2167.8h0M809.5 2161.9h0M810.6 2161.9h0M808.8 2157.5h0M808.9 2154.8h0M808.8 2154.6h0M809.5 2153.4h0M812.2 2192V2163M811.9 2157.9h0M811 2152.8h0M813 2151h0M812.9 2150.9h0M811 2148.4h0M810.8 2148.2h0M811.7 2142.6h0M814.4 2192V2167.2M813.9 2168.1h0M814.6 2166.7h0M815.1 2159.9h0M813.5 2159.8h0M814 2158.4h0M815.3 2156.3h0M815 2149.6h0M815.9 2192V2169.4M816.1 2168.1h0M817.3 2162.7h0M815.9 2159.9h0M817.3 2159.9h0M816.9 2159.8h0M817.3 2156.8h0M816.8 2153.3h0M818.3 2192V2163.3M818.9 2162.2h0M818.9 2161.6h0M817.8 2161.3h0M817.9 2158.1h0M819.4 2146.1h0M818.9 2144.1h0M818.9 2143.2h0M820.4 2192V2161.8M821.1 2163.2h0M821.2 2150.3h0M822 2150.3h0M821.9 2149.8h0M820 2144.1h0M820.2 2143.8h0M820.8 2140.6h0M823.4 2192V2173.3M823.3 2173.4h0M824.2 2168.5h0M823.9 2167.6h0M822.9 2166h0M824.3 2166h0M823.8 2162.5h0M822.8 2159.7h0M825.7 2192V2164.6M824.7 2162.8h0M825.7 2158.6h0M825.4 2156.1h0M825.1 2149.4h0M825.6 2147.7h0M825.9 2145.7h0M825.3 2145.2h0M827.6 2192V2161.5M828.8 2163.9h0M828.8 2158.8h0M827.2 2157.3h0M827.5 2153h0M827.4 2148.1h0M827.1 2143.5h0M828.3 2140.2h0M830.3 2192V2176.4M829.7 2177.4h0M830.9 2169.9h0M830 2168.9h0M829.1 2168.8h0M830.5 2168.7h0M829.8 2168.1h0M830.4 2165h0M832.7 2192V2168.2M832.6 2168.9h0M832 2167.9h0M832.6 2164.4h0M832 2164.3h0M832.2 2163.1h0M833.2 2156.4h0M833.3 2151.2h0M835 2192V2160.7M835.8 2157h0M835 2152h0M833.7 2148.8h0M835.6 2142h0M833.9 2141h0M833.9 2140.8h0M834.4 2138.8h0M837.5 2192V2174.5M837 2173.5h0M836.3 2171.1h0M837.5 2170.6h0M836.3 2169.6h0M837.6 2167.9h0M836.7 2166h0M837.9 2161.7h0M839.1 2192V2158.1M839.8 2157.2h0M839.3 2150.5h0M839 2143.7h0M839.2 2138.6h0M838.1 2138.1h0M838.4 2137.6h0M838.9 2134.5h0M841.8 2192V2173.4M841.1 2170.4h0M840.9 2167.5h0M842.1 2165.5h0M842.2 2164.8h0M842 2163.3h0M842.1 2160.9h0M840.8 2159.9h0M843.6 2192V2168.7M843.5 2164.6h0M844.7 2163.4h0M843.6 2160.6h0M842.9 2159.8h0M844.4 2156.7h0M843.1 2156.3h0M843.5 2152h0M845.5 2192V2156.3M845.9 2147.2h0M845.2 2145.2h0M845.8 2142.9h0M845 2142.2h0M846.9 2140.6h0M845.7 2140h0M847 2131.4h0M848.5 2192V2167.2M849.3 2168.4h0M849.1 2166.9h0M848.1 2161.9h0M847.8 2156.8h0M847.6 2153.9h0M847.2 2153h0M848.8 2149.7h0M851 2192V2177.2M850.3 2173.7h0M850.5 2173.2h0M849.6 2172.4h0M850.8 2172.3h0M850.7 2171.5h0M851 2169.9h0M850 2166.2h0M853 2192V2167.1M852.7 2163.1h0M853.3 2162.5h0M852.5 2162.3h0M851.8 2161.4h0M852.9 2160.8h0M852.7 2158h0M854 2149.5h0M854.5 2192V2177.6M856 2178.1h0M855.1 2175.9h0M855 2175.7h0M854.8 2173.4h0M855.7 2170.9h0M854.4 2167.4h0M854.8 2166.9h0M857.9 2192V2172M856.5 2172.2h0M858.1 2171.4h0M858.4 2169.7h0M858.3 2168.9h0M856.6 2168h0M858 2165.2h0M857.6 2157.6h0M859.8 2192V2174.2M859.2 2175.1h0M860.2 2172h0M858.9 2166.2h0M859.4 2164.6h0M859.4 2164.2h0M860.1 2163.6h0M859.9 2161.3h0M862.2 2192V2178.7M861.7 2178.9h0M861.7 2178h0M861.5 2176.4h0M862 2175.6h0M862 2171.9h0M862.6 2170.2h0M863 2168.8h0M863.8 2192V2168.4M863.8 2170h0M863.6 2168.6h0M864 2167.7h0M863.5 2166.2h0M863.1 2163.9h0M865.1 2161.8h0M864.7 2151.6h0M866.9 2192V2175.5M867.4 2176.4h0M866.3 2172h0M865.4 2170.4h0M866.1 2168.3h0M865.9 2165.7h0M866.6 2164.9h0M867 2163.4h0M872.7 2192V2175.3M873.3 2172.6h0M873.1 2172.5h0M872.4 2169.1h0M872.5 2168.9h0M872.7 2168.9h0M873.1 2165.1h0M873.4 2163.1h0M875.4 2192V2159.5M875.5 2161.3h0M874.9 2160.3h0M875.8 2151.8h0M874.8 2143.5h0M875.8 2142.5h0M876.2 2141.4h0M875.8 2136.8h0M877.7 2192V2174.9M876.9 2176h0M878.5 2174.5h0M877.2 2174.3h0M876.8 2166h0M878.7 2164.1h0M878 2163.9h0M878.6 2162.5h0M880.6 2192V2162.1M879.7 2163.5h0M880 2158.8h0M880.1 2153.8h0M879.3 2153.8h0M879 2148.5h0M880.1 2145.6h0M879.4 2141.2h0M882.9 2192V2177.1M882.2 2178.2h0M882.3 2173.9h0M883.3 2169.8h0M881.8 2169.6h0M882.4 2168.6h0M882.9 2168.5h0M882 2166.1h0M884.2 2192V2180.2M885.1 2178.2h0M884 2177.9h0M884.2 2176.4h0M884.3 2173.5h0M884 2172.8h0M884.6 2171.8h0M885.3 2171.2h0M887.5 2192V2178.7M885.8 2177.6h0M887.2 2173.7h0M887.1 2173.1h0M887.5 2172.4h0M886.3 2171.2h0M887.1 2170.5h0M886.4 2168.7h0M889.8 2192V2180M888.5 2179h0M889.7 2177.9h0M889.7 2177.7h0M889.7 2177.1h0M888.7 2175.9h0M888.5 2173.1h0M889.4 2170.9h0M891.5 2192V2176.3M890.6 2174.8h0M892.5 2174.3h0M892.3 2173.6h0M892.3 2172.2h0M891.6 2170.9h0M891.5 2168.6h0M890.6 2164.8h0M893.6 2192V2180M894.1 2180.8h0M893.8 2179.5h0M893.1 2179h0M893.6 2178.6h0M892.6 2178h0M893.3 2174.5h0M893.7 2170.9h0M895.4 2192V2174.5M897 2174.7h0M896.3 2173h0M895.5 2170.9h0M895.9 2169.4h0M897.1 2168h0M896.8 2167.1h0M895.8 2161.8h0M898.9 2192V2176.2M898.4 2175.5h0M898 2173.8h0M899.1 2173.7h0M898.4 2169.9h0M899.1 2168.6h0M898.7 2165.6h0M898.7 2164.7h0M900.8 2192V2172.8M901.4 2174.5h0M901.5 2170.3h0M901.5 2169.1h0M901.4 2168.2h0M899.8 2165.8h0M900.6 2164.2h0M901 2158.9h0M903.2 2192V2165.4M901.9 2166.3h0M903.4 2160.8h0M903.7 2157.8h0M902.5 2152.6h0M903.7 2152.4h0M902.1 2149.2h0M903 2146.5h0M904.9 2192V2176.2M904.2 2173.9h0M904.6 2173.8h0M905.2 2173.4h0M905 2170.6h0M905.4 2169.2h0M904.2 2168.9h0M904.9 2164.6h0M907.4 2192V2171.5M908 2170.4h0M906.9 2167h0M907 2164.4h0M908.3 2164.2h0M907.5 2162.9h0M908.4 2161.9h0M906.4 2156.8h0M909.7 2192V2181.9M909.3 2182.3h0M910.1 2181.2h0M910.6 2179.5h0M910.7 2177.9h0M908.9 2177.9h0M910.5 2177.3h0M909.7 2174h0M912 2192V2179.9M911.3 2180.6h0M912 2179.2h0M912.9 2175.9h0M911.1 2173.2h0M911.4 2171.5h0M910.9 2171.3h0M911 2170.7h0M913.5 2192V2176.3M914.4 2172.5h0M915.3 2171.2h0M914.5 2171h0M913.8 2170.5h0M914 2168.8h0M915 2167.2h0M913.9 2164.8h0M916 2192V2177.9M916.5 2178h0M916.1 2176h0M915.6 2175.7h0M915.7 2173.1h0M915.8 2171.5h0M916.3 2169.6h0M915.3 2167.5h0M919.2 2192V2178.2M919.7 2177.3h0M919.4 2176h0M919.7 2175.7h0M918.7 2173.5h0M918 2170.8h0M918.8 2169.3h0M917.8 2167.9h0M922.8 2192V2182M922.6 2182.5h0M923.8 2180h0M923.4 2176.6h0M923.7 2176.5h0M924.2 2175.5h0M922.3 2175.3h0M924 2174.3h0M925.6 2192V2176.2M924.7 2176.5h0M924.6 2175.6h0M926.2 2175h0M924.7 2169.6h0M925.2 2169.3h0M925.9 2167.8h0M925 2164.6h0M927.9 2192V2173.5M928.2 2174h0M927.5 2167.3h0M928.6 2164.7h0M928 2164.4h0M927.5 2164h0M927.2 2162.8h0M926.7 2160.2h0M929.8 2192V2179.9M929 2179.1h0M929 2177.1h0M930.9 2176.3h0M930 2174.5h0M930.6 2172.6h0M930.1 2171.3h0M931.1 2170.8h0M932.2 2192V2178.3M932.7 2176.8h0M932.9 2176.5h0M933 2174.5h0M933.3 2174.2h0M932 2170.8h0M931.4 2169.7h0M932 2168.1h0M934.6 2192V2182.2M934.5 2178.1h0M934.4 2177.7h0M935.1 2177.4h0M934.8 2177.3h0M934.3 2175.9h0M935 2175.5h0M934.7 2174.6h0M937.5 2192V2175.9M937.9 2175h0M936.5 2173.7h0M937.3 2172.7h0M937.1 2167.6h0M937.3 2167.4h0M937.9 2165.9h0M936.5 2164h0M939.2 2192V2175.4M938.2 2176.4h0M938.3 2171.8h0M938.1 2169.7h0M939.3 2166.7h0M938.9 2164.9h0M938.7 2164.1h0M939.9 2163.2h0M941.9 2192V2179.4M942.3 2178.1h0M941.6 2175.5h0M942.2 2174.2h0M942.3 2173.3h0M940.7 2172.4h0M940.6 2172.2h0M942.5 2169.9h0M944.2 2192V2179.2M943.1 2180.1h0M943.9 2179.4h0M943.8 2178.7h0M944.3 2174.7h0M943.3 2174.6h0M942.8 2174.3h0M943.4 2169.6h0M969.1 2192V2180.6M969.3 2181.1h0M967.9 2179.7h0M969 2177.8h0M969.5 2177.1h0M967.7 2175.3h0M969.7 2173.8h0M967.8 2171.9h0M970.3 2192V2177.2M971.5 2171.4h0M970.4 2171.2h0M971.5 2169.8h0M970.5 2168.1h0M970.8 2167.4h0M970 2166.5h0M970.1 2166.2h0M972.8 2192V2177.2M972.8 2176.6h0M973.8 2175.1h0M973.2 2173.8h0M973 2173h0M973.9 2171h0M972.1 2169.5h0M974.2 2166.2h0M976 2192V2177.3M975.6 2177.5h0M975.9 2174.3h0M976.3 2172.4h0M975.1 2170.3h0M975.8 2170.2h0M974.5 2169.9h0M976.2 2166.4h0M977.9 2192V2178.7M978.1 2178.1h0M977 2177.7h0M977.6 2175.4h0M978.1 2173.5h0M977.6 2172.7h0M978.3 2171.1h0M976.8 2168.8h0M979.9 2192V2183.9M979.1 2184.1h0M979.9 2183.6h0M980.6 2179.7h0M979.2 2178.9h0M981.2 2178.8h0M980.5 2178.5h0M978.9 2177.4h0M982.5 2192V2181.1M981.9 2181.1h0M981.3 2179.9h0M983.1 2179.7h0M981.6 2179h0M981.4 2178h0M981.7 2175.7h0M982.2 2172.7h0M983.9 2192V2184.2M984.4 2182.8h0M984.3 2181.6h0M985.2 2179.9h0M984.7 2179.1h0M984.9 2178.7h0M984.1 2178.4h0M985.6 2177.9h0M987.4 2192V2179.4M986.7 2178h0M987.6 2176.9h0M987.8 2176.2h0M986.9 2172.8h0M986.7 2170.9h0M986.9 2170.2h0M986 2170h0M988.6 2192V2176.7M989.7 2177.6h0M990.2 2174h0M988.2 2172.6h0M988.7 2169.8h0M989.8 2169h0M989 2167.1h0M988.4 2165.5h0M991.8 2192V2182.5M992.3 2180.5h0M991.8 2180.4h0M992.1 2177.4h0M991.7 2176.9h0M991 2176.8h0M991.6 2175.6h0M990.8 2175.1h0M993.2 2192V2182.1M994.1 2182.3h0M994.1 2180.3h0M993.6 2180h0M994.5 2178.2h0M994.6 2175.9h0M993.6 2175.2h0M993.2 2174.4h0M995.5 2192V2179M996.8 2175h0M995 2174.5h0M995 2173.8h0M996.8 2173.1h0M996.5 2172h0M995.4 2171h0M995.1 2169.3h0M997.8 2192V2182.3M997.2 2181.1h0M997.8 2180.6h0M998.5 2180.5h0M997.8 2176.6h0M998.8 2175.9h0M997.6 2175.8h0M998.5 2174.8h0M1002.9 2192V2183.8M1003.4 2184h0M1002.3 2182.2h0M1003.3 2181.3h0M1002.1 2181.3h0M1003 2180h0M1002.5 2179.3h0M1002.8 2177.3h0M1005.3 2192V2180.1M1005.5 2180.5h0M1004.2 2179.6h0M1006.1 2176.6h0M1004 2176.1h0M1004 2172.9h0M1005.6 2172.6h0M1006 2171.1h0M1006.7 2192V2177.8M1006.6 2177.2h0M1006.6 2172.6h0M1006.5 2172.4h0M1007 2171h0M1007.1 2170.1h0M1006.6 2169.5h0M1006.5 2167.2h0M1009 2192V2185.1M1009.3 2184.6h0M1009.8 2184.5h0M1009.9 2182.1h0M1010.7 2180.4h0M1009.2 2180.4h0M1010.5 2180.2h0M1010.6 2179.4h0M1012.5 2192V2180M1012.6 2179.8h0M1012 2178.5h0M1011 2177.9h0M1010.8 2176.1h0M1011.6 2175.2h0M1012.6 2173.1h0M1012.9 2170.9h0M1013.7 2192V2183.4M1013.2 2181.1h0M1013.8 2181h0M1014.3 2180.6h0M1014.2 2180.3h0M1015.2 2180.1h0M1014.1 2178.7h0M1014.8 2176.6h0M1016.3 2192V2181.4M1017.5 2181.2h0M1016.2 2181.1h0M1015.3 2180.8h0M1016.8 2180.8h0M1016.9 2180.6h0M1017.4 2180.4h0M1015.8 2173.3h0M1018.8 2192V2179.1M1019.3 2180.1h0M1017.7 2179.9h0M1018.9 2175.8h0M1019.6 2175.2h0M1018.7 2170h0M1017.5 2170h0M1017.8 2169.5h0M1020.6 2192V2185.2M1020.9 2184.3h0M1021.6 2183.3h0M1020.7 2183.3h0M1021.9 2181.6h0M1020.3 2181.1h0M1021.3 2180.8h0M1021.6 2179.7h0M1023.3 2192V2182.3M1022.5 2182.2h0M1023.6 2180.3h0M1022.4 2177.8h0M1024 2177.7h0M1023.8 2177.3h0M1022.5 2175.6h0M1023.9 2174.7h0M1025.7 2192V2183M1026.5 2182.5h0M1025.4 2179.3h0M1026.4 2177.9h0M1024.9 2177.3h0M1024.4 2177h0M1025.4 2176.8h0M1024.6 2175.9h0M1027.8 2192V2181.8M1027.9 2182.4h0M1028.6 2181.6h0M1028.1 2178h0M1027.3 2177.7h0M1028.6 2176.3h0M1028.3 2174.9h0M1026.8 2174h0M1030.5 2192V2182.5M1031.1 2182h0M1030.1 2182h0M1030.1 2180.1h0M1030.3 2176.9h0M1030.9 2176.1h0M1029.1 2175.9h0M1030.8 2175.1h0M1031.8 2192V2182.2M1031.8 2182.7h0M1031.5 2181.4h0M1032.2 2180.6h0M1032.2 2179.4h0M1032 2176.9h0M1033.2 2176.8h0M1032 2174.6h0M1035.2 2192V2177.9M1035.2 2175h0M1034.9 2174.4h0M1035.2 2174.2h0M1033.9 2173h0M1035.7 2171.3h0M1034.6 2168.1h0M1033.6 2167.4h0M1037.1 2192V2184.9M1035.9 2184.5h0M1037.1 2184.3h0M1037.6 2183.8h0M1037.4 2183h0M1036.8 2181h0M1036.3 2180.5h0M1037.4 2179.2h0M1039.5 2192V2183.8M1040 2184h0M1038.7 2183h0M1039.8 2182.1h0M1038.8 2181.3h0M1039.7 2181.2h0M1039 2178.9h0M1038.5 2177.3h0M1042 2192V2174.2M1040.9 2175.6h0M1041.1 2171.7h0M1040.7 2165.7h0M1040.3 2163.7h0M1042.4 2163.7h0M1041.1 2163.1h0M1041.6 2161.2h0M1043 2192V2178.8M1044.3 2179.5h0M1043.8 2178.9h0M1043.2 2178.1h0M1044.3 2177.7h0M1044 2177h0M1042.7 2171.3h0M1042.9 2169h0" stroke="#000" stroke-width="8.6" stroke-linecap="round" fill="none"/>
<g><circle cx="233.2" cy="2139.4" r="4.3"/><circle cx="275.4" cy="2156.4" r="4.3"/><circle cx="294.3" cy="2151.9" r="4.3"/><circle cx="296.2" cy="2136" r="4.3"/><circle cx="462.4" cy="2144.9" r="4.3"/><circle cx="507.1" cy="2139.3" r="4.3"/><circle cx="515" cy="2156.4" r="4.3"/><circle cx="459.8" cy="2145.5" r="4.3"/><circle cx="462.1" cy="2154.8" r="4.3"/><circle cx="459.8" cy="2162.5" r="4.3"/><circle cx="1023.2" cy="2143.9" r="4.3"/><circle cx="278.1" cy="2137.7" r="4.3"/><circle cx="355.3" cy="2136.1" r="4.3"/><circle cx="357.6" cy="2142.4" r="4.3"/></g>
<path d="M215.3 2186.1 L215.7 2130.5 L216 2101.5 L216.3 2141.5 L216.6 2192.2 L217.4 2182.6 L217.7 2188.8 L217.9 2180.4 L218.2 2121.2 L218.4 2093.3 L218.7 2115.7 L219 2188.3 L219.7 2157.5 L220 2181.9 L220.2 2171.8 L220.5 2118.6 L220.8 2077.1 L221 2104.6 L221.4 2190.2 L222 2165 L222.3 2182.9 L222.3 2172.6 L222.6 2150.8 L222.8 2123.5 L223 2135.7 L223.3 2191 L224.3 2175.5 L224.5 2181.5 L224.6 2172.3 L224.9 2142.6 L225.2 2123 L225.6 2138.2 L226 2188.8 L226.5 2179.5 L226.8 2174.9 L227.1 2181.9 L227.4 2143.4 L227.7 2132.9 L228 2151.6 L228.4 2191.6 L228.8 2173.4 L229.1 2184.6 L228.9 2182.6 L229.3 2142.6 L229.6 2117.5 L229.9 2145.4 L230.3 2190 L231.1 2157.6 L231.4 2185.3 L231.6 2183.4 L231.9 2096.5 L232.1 2070.8 L232.4 2124.8 L232.8 2191.9 L233.3 2161.1 L233.6 2185.6 L233.8 2172.7 L234.1 2113.1 L234.3 2071.7 L234.7 2117.3 L235 2191.7 L235.6 2185.2 L235.9 2188.6 L236.3 2176.1 L236.6 2139.5 L236.8 2116.4 L237.1 2143.5 L237.4 2190.9 L237.9 2165.6 L238.2 2190.8 L238.2 2180.8 L238.5 2129.4 L238.7 2096.6 L238.9 2119.6 L239.2 2191.4 L240.2 2154.5 L240.4 2191.3 L240.6 2185.1 L240.9 2126.8 L241.2 2088.9 L241.4 2116.2 L241.6 2189.4 L242.4 2177.9 L242.7 2187.8 L242.6 2167.8 L243 2116.8 L243.3 2071.7 L243.6 2117 L244 2181.3 L244.7 2158 L245 2172.2 L244.9 2175.2 L245.3 2131.2 L245.7 2119.6 L245.9 2135.5 L246.2 2189.8 L247 2181.6 L247.3 2182.8 L247.4 2167.9 L247.8 2110.8 L248.1 2056.2 L248.4 2099.8 L248.7 2179.6 L249.3 2164.8 L249.5 2176.5 L249.8 2185.9 L250.1 2128.6 L250.4 2087.7 L250.7 2103.9 L251.1 2191.3 L251.5 2169.5 L251.8 2182.3 L251.7 2180.7 L252.1 2072.1 L252.4 2050.7 L252.7 2088.3 L253 2190.9 L253.8 2181.9 L254.1 2179.6 L254 2179.7 L254.3 2151 L254.5 2124.6 L254.8 2146.7 L255.2 2192 L256.1 2153.3 L256.3 2181.7 L256.4 2183.4 L256.8 2153.2 L257 2147.3 L257.3 2154.8 L257.6 2190 L258.3 2162.7 L258.6 2182.3 L258.7 2172.5 L259.1 2165.8 L259.4 2148.4 L259.7 2157.8 L260 2190.7 L260.6 2165.4 L260.9 2182.3 L261 2168 L261.2 2063 L261.5 2043 L261.8 2074.3 L262.2 2187.1 L262.9 2148.9 L263.2 2184.4 L263.5 2183.1 L263.7 2079.6 L264 2015 L264.3 2052.4 L264.6 2188.9 L265.2 2174.8 L265.4 2174.6 L265.3 2184.5 L265.7 2153.9 L265.9 2143.9 L266.2 2161.9 L266.6 2191.6 L267.4 2172.5 L267.7 2185.4 L267.7 2173.7 L268.1 2067.8 L268.5 2036.7 L268.7 2102.9 L269.1 2191.3 L269.7 2169.5 L270 2189.1 L270.3 2179.3 L270.6 2126.9 L270.8 2107.8 L271.1 2138.2 L271.4 2190.5 L272 2183.8 L272.3 2188.8 L272.1 2180.8 L272.5 2130.1 L272.8 2109.3 L273 2144.4 L273.4 2190.7 L274.2 2156 L274.5 2182 L274.8 2185.9 L275.1 2159.6 L275.4 2150.7 L275.7 2160.7 L276 2192.5 L276.5 2160.9 L276.8 2184.5 L276.8 2172.4 L277.1 2145.9 L277.4 2139.7 L277.7 2163.5 L278.1 2190.9 L278.8 2172.5 L279.1 2175.4 L279 2178 L279.3 2134.8 L279.5 2124.1 L279.8 2135.9 L280.1 2191.2 L281.1 2176.6 L281.3 2186.1 L281.5 2176.8 L281.9 2081.1 L282.2 2029.8 L282.5 2059.5 L282.9 2192.8 L283.3 2178.6 L283.6 2191.5 L283.6 2172.4 L283.9 2090.5 L284.1 2026.7 L284.4 2072.1 L284.8 2189.6 L285.6 2159.3 L285.9 2174.3 L286 2187.1 L286.4 2101.2 L286.7 2080.2 L287 2124.5 L287.4 2191.9 L287.9 2158.7 L288.2 2187.8 L288.5 2178 L288.8 2152.4 L289 2138.9 L289.3 2151 L289.6 2190.5 L290.1 2159.1 L290.4 2180.3 L290.8 2178.4 L291 2100.2 L291.2 2073.2 L291.5 2093.1 L291.9 2191.4 L292.4 2174.8 L292.7 2186.1 L292.7 2180.2 L293.1 2133.7 L293.4 2099.7 L293.7 2118.5 L294.1 2188.4 L294.7 2152.1 L295 2183.8 L295 2180 L295.2 2147.6 L295.5 2121.6 L295.8 2134.9 L296.3 2188.5 L297 2155.1 L297.2 2181.1 L297.6 2167.8 L297.8 2144.3 L298.1 2114.9 L298.4 2138.3 L298.7 2187.1 L299.2 2166.8 L299.5 2172.9 L299.6 2175.7 L299.9 2074.5 L300.1 2020.4 L300.3 2051.6 L300.6 2190.6 L301.5 2184.3 L301.8 2176.7 L301.7 2174.3 L302.1 2120.7 L302.4 2111.7 L302.6 2131 L302.9 2192.5 L303.8 2165 L304.1 2179.1 L304.2 2178.4 L304.6 2121.1 L304.8 2111.6 L305.2 2141.5 L305.6 2190.4 L306 2167.8 L306.3 2174.9 L306.3 2174.5 L306.6 2123.5 L306.8 2106.1 L307 2126.2 L307.3 2187.6 L308.3 2153.8 L308.6 2187 L308.6 2184.6 L309 2105.2 L309.3 2091.9 L309.6 2133.9 L309.9 2192.2 L310.6 2187.2 L310.9 2183.9 L310.8 2180.2 L311.2 2154.8 L311.5 2131.3 L311.8 2146.1 L312.3 2189.5 L312.9 2160.8 L313.1 2174.4 L313.1 2180.8 L313.5 2132.1 L313.8 2118.1 L314.1 2141.5 L314.6 2190.8 L315.1 2163.8 L315.4 2184.4 L315.4 2172.6 L315.7 2128.6 L316 2101.2 L316.2 2125.6 L316.5 2189.7 L317.4 2157.6 L317.7 2175.7 L317.9 2175.3 L318.2 2141.5 L318.4 2127.8 L318.8 2140.2 L319.2 2191.6 L319.7 2165.4 L320 2186.5 L320.2 2173.4 L320.5 2126 L320.7 2096.5 L321 2121 L321.4 2187.6 L321.9 2156.5 L322.2 2186.3 L322.2 2182.6 L322.6 2133.8 L322.9 2098.2 L323.2 2125.6 L323.5 2192.2 L324.2 2163.2 L324.5 2182.5 L324.6 2178.3 L325 2096.3 L325.3 2065.5 L325.5 2096.4 L325.9 2189.7 L326.5 2175.3 L326.8 2179.8 L326.8 2175.2 L327.1 2103.3 L327.4 2058 L327.7 2103.3 L328 2186.8 L328.8 2182.8 L329 2185.7 L329 2173.8 L329.3 2086.1 L329.5 2049.9 L329.9 2109.5 L330.3 2183.3 L331 2175.7 L331.3 2178.3 L331.4 2182.2 L331.7 2127.1 L331.9 2115 L332.2 2132.8 L332.6 2190.5 L333.3 2172.3 L333.6 2188.4 L333.5 2185.1 L334 2133.3 L334.3 2108.9 L334.6 2131.1 L335 2192.5 L335.6 2167 L335.9 2178.1 L335.9 2176.4 L336.3 2118.5 L336.6 2092 L336.9 2132 L337.2 2190.7 L337.8 2164.8 L338.1 2184.5 L338.1 2175.5 L338.5 2122.6 L338.8 2104.2 L339.1 2139.4 L339.5 2192.4 L340.1 2156.6 L340.4 2179.6 L340.5 2177.3 L340.9 2093.7 L341.2 2039.1 L341.5 2085.8 L341.8 2186.3 L342.4 2171.3 L342.7 2180.5 L342.9 2174.5 L343.2 2109.3 L343.4 2098.4 L343.7 2138.8 L344.1 2184.5 L344.7 2177.9 L344.9 2172.8 L345 2177.4 L345.3 2080.8 L345.6 2067.8 L345.8 2111.8 L346.1 2186 L346.9 2172 L347.2 2182.4 L347.4 2184.1 L347.8 2099 L348 2059.4 L348.3 2103.4 L348.6 2189.6 L349.2 2182.5 L349.5 2175.3 L349.3 2184 L349.7 2093.5 L350 2067.8 L350.3 2107 L350.6 2189.5 L351.5 2178.5 L351.8 2189.3 L351.8 2175.2 L352.1 2127.3 L352.4 2086.7 L352.7 2119 L353.1 2191.5 L353.8 2150 L354 2187.8 L354.2 2174.6 L354.6 2128.2 L354.9 2104.3 L355.2 2136.6 L355.6 2184.6 L356 2168.8 L356.3 2178 L356.3 2184.6 L356.7 2126.6 L357 2096.9 L357.3 2132.2 L357.7 2191.3 L358.3 2183.5 L358.6 2179.6 L358.4 2178.7 L358.8 2098.5 L359.2 2073.2 L359.5 2096.2 L359.8 2188.1 L360.6 2171 L360.9 2182.8 L361.1 2186.7 L361.4 2143.5 L361.7 2124.1 L362 2142.1 L362.4 2191.6 L362.8 2162.6 L363.1 2180.9 L363.1 2180.2 L363.5 2142.5 L363.8 2115.8 L364 2146.2 L364.3 2185.1 L365.1 2172.3 L365.4 2178.6 L365.2 2183.5 L365.5 2099.4 L365.9 2070.1 L366.1 2117.5 L366.5 2191.5 L367.4 2171.1 L367.7 2178.2 L367.8 2171.4 L368.2 2110.5 L368.5 2082.3 L368.8 2104.3 L369.2 2188.7 L369.7 2154.5 L369.9 2181.5 L370.2 2173.9 L370.5 2078.6 L370.7 2063.9 L370.9 2085.6 L371.2 2185 L371.9 2166.6 L372.2 2170 L372.1 2181.3 L372.5 2144.2 L372.8 2122.7 L373.1 2139.2 L373.4 2190.1 L374.2 2183.3 L374.5 2190 L374.7 2174.3 L375 2128.8 L375.2 2093.6 L375.5 2132.1 L376 2186.1 L376.5 2153.4 L376.8 2180.2 L376.8 2174.9 L377.1 2091.8 L377.4 2057.7 L377.7 2110.8 L378 2188.4 L378.7 2170.3 L379 2176.1 L379.1 2174.3 L379.5 2084.2 L379.8 2058.5 L380.1 2109 L380.5 2180.6 L381 2149.4 L381.3 2176.6 L381.3 2175.4 L381.7 2146.5 L382 2116.5 L382.3 2146.7 L382.5 2192.3 L383.3 2164.2 L383.6 2188.2 L383.5 2176 L383.9 2091.8 L384.2 2069.5 L384.5 2098.5 L384.9 2190.8 L385.6 2177.7 L385.8 2189.8 L385.9 2180.3 L386.2 2082.3 L386.5 2060.2 L386.7 2102.7 L387 2189.8 L387.8 2176 L388.1 2189.2 L388.3 2173.6 L388.7 2065.7 L389 2048.4 L389.2 2105.6 L389.6 2191.5 L390.1 2185.7 L390.4 2185 L390.5 2178.6 L390.9 2120.2 L391.2 2103.1 L391.4 2133.3 L391.6 2190.4 L392.4 2177.9 L392.7 2183.5 L392.7 2178.7 L393 2098.8 L393.2 2046.8 L393.5 2075.9 L393.7 2192.6 L394.6 2173 L394.9 2189.6 L394.8 2178.1 L395.1 2095.8 L395.5 2063.2 L395.7 2103.1 L396 2191.1 L396.9 2183.8 L397.2 2179 L397.3 2183.1 L397.6 2106.6 L397.8 2089.4 L398.1 2132.7 L398.4 2190.9 L399.2 2177 L399.5 2187.7 L399.4 2179.6 L399.8 2125.7 L400.1 2101.2 L400.4 2131.3 L400.9 2190.1 L401.5 2153.9 L401.7 2186.4 L401.9 2174 L402.2 2127.8 L402.5 2088.7 L402.8 2107.9 L403.3 2187.1 L403.7 2167.7 L404 2185.5 L404.3 2183.2 L404.6 2092.2 L404.8 2079.5 L405.1 2130.5 L405.3 2188 L406 2167 L406.3 2183 L406.1 2175 L406.5 2129.3 L406.8 2101.5 L407 2119.5 L407.4 2191.3 L408.3 2155.4 L408.6 2176.8 L408.9 2184.2 L409.2 2102.7 L409.4 2075.6 L409.7 2117.8 L410.2 2191.7 L410.5 2162.6 L410.8 2177.4 L410.9 2188.1 L411.2 2137.4 L411.4 2112 L411.7 2128.6 L412.1 2192.1 L412.8 2151.3 L413.1 2190.6 L413.1 2183.4 L413.5 2139.6 L413.8 2115.1 L414.1 2146.3 L414.4 2191 L415.1 2172.6 L415.4 2177 L415.5 2176.3 L415.8 2085.8 L416 2071.6 L416.4 2115.6 L416.8 2189.1 L417.4 2172.4 L417.6 2176.6 L417.8 2180.1 L418.1 2106.4 L418.4 2062.3 L418.8 2118.1 L419.2 2192.1 L419.6 2177.7 L419.9 2185.3 L420.2 2163.5 L420.5 2105.2 L420.8 2067.3 L421.1 2106.6 L421.5 2178.8 L421.9 2136.1 L422.2 2165.8 L422.3 2178.7 L422.6 2102.1 L422.8 2073.1 L423.2 2105.4 L423.6 2187.7 L424.2 2155.9 L424.5 2179.3 L424.3 2179.6 L424.6 2071 L424.9 2043 L425.2 2073.4 L425.4 2190.2 L426.4 2150.7 L426.7 2181.9 L426.9 2179 L427.3 2108.2 L427.6 2071.6 L427.9 2126.3 L428.3 2189.2 L428.7 2169.7 L429 2185.6 L429.1 2173.4 L429.4 2103.5 L429.6 2077.9 L429.9 2115.3 L430.2 2184.6 L431 2147.9 L431.3 2175.9 L431.3 2174.3 L431.7 2078.6 L432 2057.5 L432.3 2093 L432.7 2190 L433.3 2175.2 L433.5 2175.8 L433.7 2177.1 L434.1 2118.7 L434.4 2107.6 L434.7 2125 L435 2189.6 L435.5 2160.7 L435.8 2178.1 L435.9 2184.3 L436.2 2119.8 L436.5 2086.3 L436.7 2118.8 L437.1 2188.8 L437.8 2149.1 L438.1 2175.5 L438 2177.9 L438.4 2138.4 L438.7 2126.5 L439 2143.9 L439.4 2185.6 L440.1 2143.6 L440.4 2179.6 L440.7 2175.9 L441 2157.6 L441.2 2145.6 L441.5 2165.1 L441.9 2188.9 L442.3 2171.4 L442.6 2177.1 L442.7 2176.9 L443.1 2107.9 L443.4 2062.4 L443.7 2101.9 L444.1 2187.7 L444.6 2167.6 L444.9 2184.1 L444.9 2177.4 L445.3 2136.1 L445.6 2127.4 L445.9 2148.4 L446.4 2191.1 L446.9 2148.7 L447.2 2178.7 L447.2 2184.9 L447.6 2133.6 L447.9 2104.2 L448.1 2139.7 L448.5 2189 L449.2 2149 L449.4 2185 L449.4 2169.5 L449.8 2109.6 L450.1 2061.7 L450.4 2118.5 L450.7 2186.6 L451.4 2172.9 L451.7 2183 L451.7 2184.6 L452.1 2118.7 L452.4 2080.2 L452.7 2104.6 L453.1 2190 L453.7 2171.2 L454 2180.1 L454 2177 L454.3 2118.6 L454.6 2100.2 L454.9 2137.8 L455.3 2190.6 L456 2151.2 L456.3 2181.2 L456.2 2168.6 L456.6 2079.4 L456.9 2029 L457.1 2077.9 L457.4 2187.9 L458.3 2183 L458.5 2184.7 L458.3 2183.2 L458.7 2076.6 L459 2015 L459.3 2078 L459.7 2190.7 L460.5 2171 L460.8 2177.5 L460.6 2173.8 L461 2080.3 L461.3 2022.8 L461.6 2077.8 L462 2191.1 L462.8 2173.3 L463.1 2189.3 L463.2 2181.8 L463.6 2109.1 L463.9 2089.2 L464.2 2132.5 L464.6 2188.7 L465.1 2158.4 L465.4 2184.5 L465.5 2177.9 L465.8 2097.8 L466.1 2069.8 L466.3 2090.9 L466.7 2189.9 L467.3 2176.7 L467.6 2189.3 L467.7 2168.2 L468.1 2076.8 L468.4 2008.8 L468.6 2065.3 L468.9 2185.7 L469.6 2154.6 L469.9 2185.3 L470.2 2181.2 L470.4 2124.4 L470.7 2101.5 L471 2116 L471.3 2190.3 L471.9 2156.4 L472.2 2180.4 L472.3 2166.4 L472.7 2112.9 L473 2095.2 L473.3 2129.8 L473.6 2178.6 L474.2 2149.5 L474.4 2170.9 L474.4 2161.8 L474.7 2116.6 L474.9 2088.5 L475.2 2132.6 L475.7 2177.4 L476.4 2142.3 L476.7 2170.1 L476.7 2181.7 L477 2129.3 L477.3 2114.1 L477.6 2142.3 L478 2189.6 L478.7 2170.5 L479 2180.7 L479 2173.8 L479.3 2121.5 L479.6 2092.9 L480 2108.4 L480.4 2190.8 L481 2171.9 L481.3 2176.9 L481.5 2174.4 L481.8 2140.5 L482 2111.3 L482.3 2124.6 L482.6 2190.1 L483.2 2161.1 L483.5 2184.7 L483.6 2153.8 L483.9 2053.1 L484.1 1995.6 L484.4 2029 L484.8 2171.8 L485.5 2134.3 L485.8 2167.2 L485.9 2174.3 L486.3 2109.8 L486.6 2075.6 L486.9 2098 L487.4 2186.1 L487.8 2158.8 L488.1 2172.1 L488 2178.8 L488.3 2079.9 L488.6 2030.5 L488.9 2066 L489.2 2184.2 L490.1 2168.5 L490.3 2183.9 L490.2 2168.4 L490.6 2086.8 L490.9 2048.4 L491.3 2106.3 L491.7 2184.2 L492.3 2171.8 L492.6 2176.7 L492.3 2175.3 L492.8 2084.3 L493.1 2058.5 L493.4 2099.7 L493.7 2187.6 L494.6 2172.7 L494.9 2182.2 L495 2178.6 L495.2 2144.2 L495.4 2130.2 L495.8 2154.5 L496.2 2188.8 L496.9 2147.9 L497.2 2178.4 L497.4 2142.4 L497.7 2143.9 L498 2131 L498.3 2142.4 L498.7 2161 L499.1 2143.7 L499.4 2156.5 L499.2 2181.8 L499.6 2112.1 L499.9 2098.3 L500.2 2138.9 L500.4 2188.7 L501.4 2166.4 L501.7 2183.4 L501.9 2172.1 L502.3 2157.8 L502.6 2135.9 L502.9 2160.4 L503.3 2187.1 L503.7 2148 L504 2175.1 L504 2183.7 L504.3 2115 L504.6 2088.6 L504.9 2132.7 L505.2 2189.1 L506 2147.3 L506.2 2176.9 L506.3 2168.4 L506.7 2133.1 L507 2126.1 L507.3 2155.2 L507.6 2176.9 L508.2 2128.9 L508.5 2165.5 L508.5 2178.1 L508.8 2116.2 L509 2082.9 L509.3 2124.8 L509.7 2189.7 L510.5 2174.9 L510.8 2175.2 L511.1 2182 L511.4 2115 L511.6 2103.9 L511.9 2127.4 L512.2 2186.2 L512.8 2173.8 L513.1 2179.8 L512.8 2170.5 L513.3 2107.2 L513.6 2068.3 L513.9 2100.2 L514.4 2182.6 L515 2140 L515.3 2180.3 L515.4 2164.6 L515.8 2084.5 L516.1 2065.9 L516.4 2098.1 L516.8 2178 L517.3 2135 L517.6 2163.6 L517.7 2179.8 L518 2048.9 L518.2 2018.9 L518.6 2085.8 L519 2186.5 L519.6 2180.7 L519.9 2182.4 L519.6 2172.3 L520 2063 L520.4 2010.3 L520.7 2053.2 L521.1 2187.1 L521.9 2179.3 L522.1 2182.6 L522.3 2176.1 L522.7 2082.5 L523 2065.8 L523.3 2085.5 L523.7 2185.5 L524.1 2172 L524.4 2178.6 L524.4 2175.7 L524.7 2123.5 L525 2077.9 L525.3 2103.3 L525.6 2183.9 L526.4 2158 L526.7 2173.1 L526.8 2160.9 L527.1 2090.5 L527.4 2073.8 L527.6 2095.4 L527.9 2179.6 L528.7 2147.7 L529 2173.3 L529.2 2167.5 L529.5 2112.2 L529.8 2079 L530 2100.5 L530.3 2185.7 L530.9 2141 L531.2 2179.7 L531.3 2171.5 L531.6 2136.2 L531.8 2105.7 L532.1 2133.5 L532.4 2187.5 L533.2 2178.3 L533.5 2177.6 L533.5 2172.8 L533.9 2065.7 L534.2 2034.4 L534.4 2098.4 L534.7 2185.3 L535.5 2142.3 L535.8 2177.9 L535.7 2172.5 L536 2024.9 L536.3 2001 L536.6 2036.8 L537 2182.7 L537.8 2138.9 L538 2170.2 L538.3 2180.6 L538.6 2095.5 L538.8 2081.5 L539.1 2115.9 L539.5 2185 L540 2148.4 L540.3 2180.8 L540.3 2174.8 L540.7 2118.8 L541 2102 L541.3 2136.3 L541.6 2189 L542.3 2147.3 L542.6 2188 L542.8 2159.3 L543.1 2135.7 L543.4 2106.7 L543.7 2134.7 L544 2170.8 L544.6 2149.8 L544.9 2162.9 L544.9 2181.4 L545.3 2143.5 L545.6 2123.4 L545.9 2137.2 L546.3 2189.2 L546.9 2156.4 L547.1 2174.5 L547.2 2182.5 L547.6 2107.6 L547.9 2076.3 L548.2 2105.5 L548.6 2190.2 L549.1 2144 L549.4 2186.9 L549.4 2179.5 L549.9 2118.4 L550.2 2075 L550.5 2103.1 L550.9 2183.7 L551.4 2144.3 L551.7 2169.1 L551.9 2178.9 L552.2 2071.8 L552.5 2041.4 L552.8 2078.2 L553.1 2186.5 L553.7 2149.5 L553.9 2178.2 L554.3 2168.3 L554.5 2080.6 L554.8 2062.6 L555 2088 L555.3 2181.3 L555.9 2152.8 L556.2 2166.2 L556.4 2162 L556.8 2118.2 L557.1 2089.8 L557.3 2129.7 L557.6 2169 L558.2 2126.8 L558.5 2155.6 L558.3 2178.9 L558.7 2132.5 L559 2100.1 L559.3 2125.1 L559.7 2191.5 L560.5 2144.6 L560.8 2187 L561 2165.9 L561.3 2127.7 L561.6 2107.5 L561.9 2123 L562.3 2181.8 L562.8 2140.8 L563 2174.2 L563.1 2173.9 L563.4 2018.7 L563.6 1975.4 L563.9 2052.4 L564.2 2178.5 L565 2170.3 L565.3 2171.4 L565.6 2177.7 L565.9 2028.1 L566.1 2006.5 L566.4 2080.3 L566.7 2188.7 L567.3 2143.9 L567.6 2187.8 L567.7 2180.2 L568.1 2123.8 L568.4 2101.2 L568.7 2129.9 L569 2187.7 L569.6 2172.9 L569.9 2173.9 L569.9 2180.5 L570.3 2147.9 L570.6 2125.8 L570.9 2136 L571.2 2184.7 L571.8 2153 L572.1 2179.6 L572 2167.7 L572.3 2142.9 L572.6 2125.2 L572.9 2155.3 L573.2 2180.1 L574.1 2156.7 L574.4 2176 L574.5 2171.6 L574.8 2086.2 L575 2039.9 L575.3 2105.1 L575.6 2189.7 L576.4 2163.3 L576.7 2189.1 L576.7 2171.6 L577.1 2132.1 L577.4 2092 L577.6 2108.3 L577.9 2179.6 L578.7 2158 L578.9 2172.4 L579.2 2168.2 L579.5 2124.2 L579.7 2115.6 L580 2129.4 L580.4 2185.7 L580.9 2156.6 L581.2 2180.4 L581.2 2151.3 L581.5 2130.3 L581.7 2091.9 L582 2134.3 L582.3 2166.2 L583.2 2148.7 L583.5 2156 L583.5 2162.2 L583.9 2105.8 L584.2 2060.1 L584.4 2098.9 L584.7 2177.6 L585.5 2164.3 L585.8 2173.6 L585.7 2166.6 L586.1 2123.6 L586.4 2107 L586.7 2120.5 L587.1 2184 L587.7 2160.9 L588 2173.6 L588.2 2174.5 L588.6 2118.9 L588.8 2101.9 L589.1 2117.4 L589.5 2190.7 L590 2183.9 L590.3 2184.9 L590.5 2177.8 L590.8 2139.4 L591.1 2110 L591.4 2126.9 L591.7 2188.4 L592.3 2175 L592.6 2173.2 L592.7 2171.5 L593.1 2147 L593.4 2135.8 L593.7 2161.5 L594 2179.2 L594.6 2166.5 L594.8 2165.8 L595 2167.5 L595.3 2118.9 L595.6 2095.5 L595.8 2115 L596.2 2185.6 L596.8 2161.5 L597.1 2175.6 L597.2 2179.6 L597.5 2105.9 L597.8 2090.7 L598 2108.1 L598.4 2189.6 L599.1 2148.1 L599.4 2180.6 L599.3 2183.6 L599.7 2108.9 L600 2085.4 L600.2 2107.6 L600.5 2191 L601.4 2183.8 L601.7 2189.4 L601.6 2183.4 L602 2092.4 L602.3 2036.7 L602.7 2079.7 L603.1 2187.3 L603.6 2149.7 L603.9 2172.5 L604 2172.3 L604.3 2111.8 L604.6 2082.1 L604.8 2108.4 L605.1 2184.8 L605.9 2176.1 L606.2 2174.9 L606.1 2174.7 L606.5 2133.7 L606.8 2098.9 L607.1 2126.4 L607.4 2188.4 L608.2 2165.1 L608.5 2186.9 L608.8 2175.6 L609.1 2112.5 L609.3 2095.9 L609.6 2119.1 L610 2185.4 L610.5 2162.2 L610.7 2176.6 L610.8 2178.7 L611.2 2073.7 L611.6 2049.9 L611.9 2101.9 L612.3 2189.6 L612.7 2180.8 L613 2180.1 L613 2170.9 L613.3 2139.7 L613.5 2129.5 L613.8 2147.6 L614.3 2180.7 L615 2162.8 L615.3 2179.9 L615.2 2176.7 L615.6 2118.6 L615.8 2071 L616.1 2116.1 L616.4 2190.4 L617.3 2162.2 L617.6 2185.6 L617.4 2174.3 L617.8 2041.8 L618.1 1965.3 L618.3 2005.3 L618.6 2188.9 L619.5 2147.8 L619.8 2184.4 L619.8 2176.3 L620.2 2112.6 L620.5 2079.9 L620.8 2097.1 L621.1 2186.8 L621.8 2180.4 L622.1 2176.3 L621.9 2177.5 L622.3 2122.6 L622.6 2083.2 L622.9 2119 L623.2 2187.6 L624.1 2153 L624.4 2186.8 L624.2 2171.5 L624.6 2118.4 L624.9 2096.7 L625.2 2123.4 L625.7 2185.9 L626.4 2143.1 L626.6 2176.5 L626.4 2173.2 L626.8 2136.3 L627.1 2100.1 L627.4 2116.1 L627.8 2189.7 L628.6 2177.9 L628.9 2179.6 L628.8 2174.7 L629.1 2123.2 L629.4 2078.8 L629.6 2096.6 L629.9 2186.9 L630.9 2164.4 L631.2 2176.3 L631.2 2179.7 L631.6 2121.3 L631.9 2084.1 L632.2 2121.1 L632.4 2191 L633.2 2141.8 L633.5 2185.3 L633.5 2172.3 L633.9 2080.4 L634.2 2005.7 L634.4 2063.4 L634.7 2190 L635.4 2146.7 L635.7 2188.1 L635.6 2170.8 L636 2126.5 L636.3 2084 L636.5 2125 L636.8 2188.9 L637.7 2174.8 L638 2183.8 L638 2177.3 L638.4 2047.3 L638.7 2001 L639 2051.4 L639.3 2181.3 L640 2163.1 L640.3 2174.5 L640.3 2175 L640.7 2101.6 L641 2079.1 L641.3 2097.9 L641.6 2185.2 L642.3 2139.4 L642.5 2175.9 L642.5 2171.8 L642.8 2111.9 L643.1 2068.3 L643.5 2113.3 L643.9 2186.9 L644.5 2153.8 L644.8 2173.3 L644.8 2172.6 L645.2 2119 L645.4 2084.4 L645.7 2128.1 L646.1 2187.4 L646.8 2163.9 L647.1 2180.6 L647.3 2173.7 L647.6 2131 L647.9 2116.9 L648.2 2150.5 L648.6 2190.6 L649.1 2171 L649.4 2184.6 L649.6 2183.7 L649.9 2080.8 L650.2 2028.2 L650.6 2073.1 L651 2187.8 L651.4 2164 L651.6 2173 L651.6 2168.7 L652 2098.2 L652.3 2075.5 L652.5 2094.2 L652.8 2183.6 L653.6 2174.1 L653.9 2181.5 L654 2179.8 L654.3 2097.3 L654.6 2064.7 L654.8 2105.8 L655.1 2186.3 L655.9 2144.2 L656.2 2172.2 L656.2 2165 L656.5 2107.8 L656.8 2078.5 L657.1 2122.6 L657.5 2181.7 L658.2 2143.5 L658.5 2171.9 L658.5 2170.4 L658.8 2093.1 L659 2053.1 L659.2 2087.1 L659.5 2188.2 L660.4 2179.3 L660.7 2177.2 L660.9 2176 L661.2 2087.5 L661.4 2070.7 L661.7 2112.7 L662.1 2184.1 L662.7 2167.7 L663 2182.5 L663 2156.4 L663.3 2045.5 L663.6 2024.3 L664 2098.7 L664.4 2168.1 L665 2127.7 L665.3 2164.6 L665.3 2172 L665.7 2116.7 L666 2066.4 L666.2 2120.4 L666.4 2182.2 L667.3 2176.1 L667.5 2172.2 L667.5 2172.6 L667.9 2116.6 L668.1 2079.3 L668.5 2121.9 L668.8 2186.9 L669.5 2163.4 L669.8 2173.3 L669.7 2154 L670.1 2123.7 L670.4 2091.2 L670.6 2127.1 L670.9 2171.7 L671.8 2156.4 L672.1 2158 L672.4 2173.4 L672.6 2101.8 L672.9 2054.8 L673.2 2107.1 L673.6 2180.8 L674.1 2139.2 L674.4 2178.7 L674.3 2170.6 L674.6 2099.6 L674.8 2061.5 L675.1 2115.5 L675.4 2189 L676.3 2176.2 L676.6 2178.7 L676.7 2176.3 L677 2098.8 L677.2 2083.2 L677.6 2111.3 L678 2187.8 L678.6 2147.3 L678.9 2177.1 L679 2174.4 L679.4 2084.2 L679.7 2061.7 L680.1 2114.5 L680.5 2185 L680.9 2144.4 L681.2 2174.8 L681 2177.4 L681.4 2091.7 L681.7 2063.9 L681.9 2087.8 L682.2 2187.8 L683.2 2158 L683.4 2176.6 L683.3 2171.7 L683.6 2084.7 L683.9 2071 L684.1 2109.3 L684.4 2186 L685.4 2170.9 L685.7 2176 L685.6 2161.7 L685.9 2133.1 L686.2 2120.4 L686.4 2146.9 L686.7 2174.7 L687.7 2147.3 L688 2160 L687.8 2176.6 L688.2 2117.9 L688.5 2077.8 L688.7 2113.4 L689.1 2185.6 L690 2161.3 L690.3 2181.6 L690.4 2169.9 L690.8 2120.3 L691.1 2107.3 L691.4 2140.9 L691.7 2186.4 L692.2 2161 L692.5 2172.3 L692.5 2166.9 L692.8 2123.8 L693.1 2094.4 L693.4 2130.5 L693.7 2185 L694.5 2139.8 L694.8 2174.8 L694.6 2173.2 L694.9 2090.4 L695.3 2043.7 L695.5 2074.3 L695.9 2185.4 L696.8 2169.8 L697.1 2176.3 L697 2175.4 L697.3 2133.6 L697.6 2126.4 L697.9 2148 L698.4 2186.2 L699.1 2170 L699.3 2173.4 L699.6 2179.9 L699.9 2160.3 L700.2 2149 L700.4 2159.3 L700.7 2185.3 L701.3 2165.2 L701.6 2180.5 L701.7 2167.6 L702.1 2147.8 L702.4 2122.1 L702.7 2138 L703 2183.5 L703.6 2151.5 L703.9 2168.8 L703.7 2169.5 L704.1 2126.5 L704.4 2108.4 L704.7 2137.4 L705 2178.8 L705.9 2170.6 L706.2 2163.9 L706.4 2165.7 L706.7 2136.3 L706.9 2108 L707.2 2127.5 L707.6 2181.9 L708.1 2170.8 L708.4 2176.8 L708.6 2163.6 L708.9 2112.5 L709.2 2100.6 L709.5 2121.6 L709.8 2178.6 L710.4 2170.9 L710.7 2170.5 L710.7 2173.9 L711 2129.8 L711.3 2118.6 L711.7 2130.1 L712.1 2190.1 L712.7 2155.3 L713 2174.7 L713.3 2171.5 L713.6 2145.2 L713.8 2137.7 L714 2156.6 L714.3 2187.6 L715 2165.8 L715.2 2179.6 L715.2 2179.4 L715.6 2139.6 L715.9 2122.7 L716.2 2139.6 L716.5 2187.5 L717.2 2150.7 L717.5 2185.2 L717.3 2181.9 L717.7 2140.1 L718 2130.2 L718.3 2153.7 L718.7 2187.7 L719.5 2176 L719.8 2186.7 L720.1 2171.5 L720.3 2071.1 L720.6 2046.1 L720.9 2095.5 L721.3 2189.9 L721.8 2152.1 L722.1 2186.1 L722.1 2169.8 L722.5 2135.5 L722.8 2112.7 L723.1 2142.8 L723.5 2185.6 L724 2162.1 L724.3 2171.4 L724.1 2184 L724.5 2081 L724.8 2036.7 L725.1 2074.2 L725.4 2188.1 L726.3 2160 L726.6 2182.5 L726.8 2169.6 L727.1 2106.7 L727.3 2088.9 L727.6 2135.8 L727.9 2187.4 L728.6 2164.9 L728.9 2186.5 L728.8 2175.7 L729.2 2142.6 L729.5 2116.9 L729.8 2148.3 L730.1 2191.7 L730.9 2178.2 L731.1 2182.4 L731 2170.3 L731.4 2148 L731.7 2121.4 L731.9 2142.4 L732.2 2182.5 L733.1 2158 L733.4 2178.3 L733.4 2182.4 L733.8 2147.6 L734 2130.1 L734.2 2141.4 L734.5 2190 L735.4 2152.6 L735.7 2174.9 L735.7 2183.6 L736.2 2152.7 L736.5 2132.1 L736.7 2157.2 L737 2191.2 L737.7 2161.9 L738 2176.5 L737.8 2170.2 L738.2 2051.9 L738.6 2033.6 L738.8 2069.6 L739.1 2178.7 L739.9 2141.6 L740.2 2174.6 L740.1 2167.4 L740.4 2147.6 L740.7 2121.4 L741 2146.8 L741.3 2185.9 L742.2 2181.5 L742.5 2185.5 L742.5 2169.9 L742.8 2135.1 L743.1 2100 L743.4 2133.1 L743.7 2185.1 L744.5 2170.6 L744.8 2178.5 L744.7 2165 L745.1 2121.5 L745.4 2087.6 L745.7 2129.9 L746 2183.6 L746.8 2147.7 L747 2171.4 L747 2166.4 L747.4 2064.7 L747.8 2032.1 L748.1 2058.4 L748.4 2185.4 L749 2164.6 L749.3 2174.7 L749.1 2182.1 L749.5 2136.1 L749.9 2103.3 L750.2 2131.9 L750.7 2188.4 L751.3 2161.1 L751.6 2182.3 L751.8 2176.3 L752.1 2105.5 L752.4 2071.8 L752.6 2095 L752.9 2189.6 L753.6 2164.7 L753.9 2183.5 L754.2 2172.1 L754.4 2109.4 L754.7 2086.6 L755 2124.3 L755.3 2185.6 L755.9 2144.3 L756.1 2170.2 L756.3 2178 L756.7 2123.5 L756.9 2091.1 L757.2 2133 L757.5 2190.5 L758.1 2148.8 L758.4 2178 L758.5 2173.1 L758.8 2093.4 L759.1 2059.3 L759.5 2112.5 L759.9 2188.7 L760.4 2150.8 L760.7 2177.9 L760.5 2178.5 L760.9 2129.6 L761.2 2122.5 L761.4 2146.8 L761.7 2186.5 L762.7 2159 L763 2185.3 L762.9 2181.9 L763.2 2110.6 L763.5 2089.9 L763.7 2108.5 L764 2190.4 L764.9 2164.2 L765.2 2181.5 L765.2 2174.5 L765.5 2120.7 L765.8 2094.7 L766.1 2130.8 L766.4 2188.1 L767.2 2167.2 L767.5 2181.7 L767.5 2180.4 L767.9 1959.6 L768.2 1928 L768.5 2039.2 L768.9 2189.5 L769.5 2159.3 L769.8 2177 L769.8 2174.2 L770.2 2133.4 L770.5 2097.2 L770.7 2124.9 L771 2190 L771.8 2165.6 L772 2174.6 L772 2176.3 L772.4 2121.7 L772.6 2079.9 L773 2128.9 L773.4 2189.3 L774 2164.3 L774.3 2174.5 L774.5 2183 L774.8 2013.9 L775 1932.7 L775.3 2034.8 L775.5 2188.8 L776.3 2166.9 L776.6 2184 L776.8 2167.8 L777 2077.6 L777.2 2001 L777.6 2084.4 L778 2186 L778.6 2164.5 L778.9 2184.4 L779 2174.8 L779.3 2153.4 L779.6 2129.4 L779.9 2140.4 L780.2 2190.3 L780.8 2168 L781.1 2182.9 L781.3 2171.9 L781.6 2157.7 L781.9 2147.1 L782.1 2162.2 L782.4 2189.2 L783.1 2176.9 L783.4 2177.1 L783.3 2179.1 L783.6 2173.6 L783.9 2166.2 L784.1 2172.7 L784.4 2192.4 L785.4 2168.3 L785.7 2177.6 L785.7 2172.3 L786 2154.9 L786.3 2147.8 L786.6 2163.7 L787 2190.8 L787.7 2150.1 L787.9 2177.1 L787.8 2171.3 L788.2 2131.3 L788.5 2092.9 L788.8 2137.1 L789.3 2190.4 L789.9 2159.4 L790.2 2187.4 L790.2 2153.6 L790.5 2072.1 L790.8 2046.8 L791.1 2091.1 L791.5 2171.2 L792.2 2148.2 L792.5 2165.6 L792.5 2178.2 L792.8 2147.1 L793.1 2119.6 L793.3 2145.6 L793.6 2190.6 L794.5 2151.4 L794.8 2186.6 L794.7 2179 L795 2094 L795.3 2049.9 L795.6 2096.2 L796 2190.7 L796.7 2167.7 L797 2183.3 L796.9 2182.1 L797.3 2102.3 L797.6 2078.6 L797.9 2101.9 L798.3 2191.6 L799 2164.7 L799.3 2187.9 L799.3 2172.3 L799.6 2122.8 L799.8 2083.7 L800.1 2130.7 L800.4 2191.2 L801.3 2165.1 L801.6 2182.8 L801.5 2175.4 L801.8 2119 L802 2083.4 L802.3 2130.5 L802.7 2189.5 L803.6 2170.8 L803.8 2186.6 L803.8 2174.8 L804.2 2078.6 L804.5 2059.3 L804.8 2096.2 L805.2 2189.7 L805.8 2163.9 L806.1 2189.1 L806.1 2175.5 L806.4 2108 L806.6 2088.1 L806.9 2126.9 L807.4 2189.6 L808.1 2181.8 L808.4 2180.4 L808.4 2169 L808.6 1963.2 L808.8 1890 L809.1 1984 L809.4 2185.4 L810.4 2177.8 L810.7 2176.3 L810.5 2170.6 L810.9 2110.1 L811.2 2058.2 L811.5 2116.5 L811.9 2188.3 L812.6 2164.9 L812.9 2176 L812.9 2169.5 L813.2 2084.7 L813.4 2067.1 L813.7 2114.4 L814 2173.6 L814.9 2142.7 L815.2 2165 L815.1 2180.6 L815.4 2124.8 L815.7 2108.7 L815.9 2121.8 L816.2 2189.7 L817.2 2179.1 L817.5 2186.6 L817.4 2172.4 L817.7 2099.4 L817.9 2085.1 L818.2 2117.6 L818.4 2187.2 L819.5 2156.7 L819.7 2182.4 L820 2176 L820.3 2115.6 L820.6 2106.4 L820.9 2138.4 L821.2 2189.1 L821.7 2181.8 L822 2177.8 L822.3 2170.9 L822.5 2084.2 L822.8 2063.8 L823 2118.8 L823.3 2188.6 L824 2180.5 L824.3 2180.4 L824.6 2158.7 L824.9 2136.3 L825.1 2113 L825.4 2144.7 L825.7 2176.8 L826.3 2149.4 L826.6 2172.4 L826.4 2176 L826.8 2123.2 L827.1 2105.8 L827.5 2141.3 L827.9 2188.7 L828.5 2178.2 L828.8 2180.4 L829 2173.4 L829.3 2095.3 L829.6 2053.1 L829.9 2102.5 L830.3 2191.7 L830.8 2174.3 L831.1 2180.9 L831 2182.6 L831.4 2135.2 L831.6 2125.6 L832 2148.8 L832.4 2190.2 L833.1 2176.7 L833.4 2188.5 L833.4 2174.5 L833.8 2088.4 L834.1 2071.7 L834.4 2106.4 L834.8 2183 L835.4 2139.5 L835.6 2179.9 L835.9 2178.9 L836.2 2107.5 L836.4 2059.6 L836.8 2101 L837.2 2189.6 L837.6 2164.6 L837.9 2175.4 L838.1 2168.3 L838.4 2129.4 L838.6 2086.8 L838.8 2126.7 L839.1 2185.1 L839.9 2181 L840.2 2176 L840.2 2176.3 L840.6 2119.5 L840.9 2071.4 L841.2 2106.3 L841.6 2190.6 L842.2 2175.4 L842.5 2176.5 L842.4 2179.1 L842.7 2087.7 L843 2021.2 L843.3 2062.6 L843.7 2189.9 L844.5 2156.8 L844.7 2186.5 L844.6 2177.4 L845 2152.9 L845.2 2144 L845.5 2164.7 L845.8 2190.3 L846.7 2185 L847 2183.8 L847.1 2178.3 L847.4 2139.1 L847.6 2120.9 L847.9 2148.2 L848.3 2188.7 L849 2158.7 L849.3 2184.8 L849.2 2185.4 L849.5 2126.1 L849.8 2113.2 L850.1 2146.4 L850.4 2191.8 L851.3 2177.6 L851.5 2187.2 L851.5 2183.3 L851.8 2088.6 L852.1 2056.2 L852.4 2085.4 L852.7 2187.9 L853.5 2156.4 L853.8 2187.1 L853.8 2181.3 L854.2 2150.9 L854.5 2127.3 L854.9 2155.7 L855.3 2189.3 L855.8 2161.8 L856.1 2185.1 L856.2 2184.2 L856.5 2143.2 L856.8 2121.2 L857.1 2141.4 L857.4 2188.4 L858.1 2151.7 L858.4 2185.6 L858.2 2176.7 L858.6 2139.9 L858.8 2116 L859.1 2131.2 L859.4 2189.6 L860.4 2184.3 L860.6 2178.8 L860.7 2184.6 L861 2113.8 L861.2 2074.8 L861.5 2120.2 L861.8 2190.2 L862.6 2179.2 L862.9 2179.8 L862.9 2174.6 L863.2 2094.5 L863.4 2078.4 L863.7 2119.8 L864.1 2186 L864.9 2176.1 L865.2 2177.8 L865.3 2174.5 L865.7 2095.8 L866 2062.4 L866.3 2099.8 L866.6 2181.4 L867.2 2147.6 L867.5 2169.1 L867.5 2181 L867.9 2112 L868.2 2082.2 L868.5 2122.4 L868.9 2188.3 L869.4 2158.3 L869.7 2182.3 L870.1 2170.1 L870.3 2107.9 L870.6 2093 L870.8 2110.1 L871.1 2187.3 L871.7 2173.3 L872 2181.2 L872 2174 L872.3 2119.3 L872.5 2107.4 L872.8 2145 L873.2 2192 L874 2170.6 L874.3 2184.3 L874.4 2184.9 L874.7 2146.7 L874.9 2140.6 L875.2 2156.6 L875.5 2189.7 L876.3 2153.9 L876.5 2186.5 L876.6 2184.1 L876.9 2100.2 L877.2 2084.1 L877.4 2117.3 L877.7 2188.9 L878.5 2175.1 L878.8 2179.6 L878.9 2173.4 L879.2 2112.4 L879.5 2068.6 L879.7 2087.5 L880 2188.7 L880.8 2172.2 L881.1 2185 L881 2177.5 L881.4 2109.7 L881.7 2077.4 L881.9 2125.2 L882.2 2186.2 L883.1 2153.5 L883.4 2172.4 L883.5 2175 L883.8 2079.2 L884.1 2059.1 L884.4 2113 L884.8 2187 L885.3 2177.3 L885.6 2179.8 L885.6 2176.7 L885.9 2046 L886.3 2009.6 L886.6 2046.1 L887 2188.2 L887.6 2172.5 L887.9 2177.6 L887.7 2180 L888.1 2124.4 L888.5 2083.2 L888.7 2115.8 L889 2187.4 L889.9 2150.9 L890.2 2175 L890.4 2181.7 L890.7 2118.8 L891 2099.7 L891.2 2135.2 L891.5 2192.8 L892.2 2162.6 L892.4 2181.4 L892.5 2186 L892.9 2129.6 L893.3 2105.8 L893.5 2130.1 L893.8 2191.2 L894.4 2167.3 L894.7 2187.2 L894.7 2170.8 L895 2117.2 L895.2 2102.2 L895.6 2143.3 L896 2190 L896.7 2154.1 L897 2188.2 L897.1 2170.4 L897.5 2114.8 L897.8 2080.5 L898.1 2127.1 L898.4 2187 L899 2152.7 L899.3 2184.9 L899.2 2183 L899.6 2087.3 L899.9 2059.8 L900.1 2087 L900.4 2191.9 L901.2 2164.7 L901.5 2179.1 L901.5 2181.7 L901.8 2076 L902 2053.1 L902.4 2083.9 L902.8 2188.5 L903.5 2183.2 L903.8 2173.4 L903.9 2175.1 L904.2 2065.3 L904.4 2026.7 L904.6 2075.1 L904.9 2189.6 L905.8 2164.5 L906.1 2180.3 L906.2 2167.2 L906.5 2154.9 L906.8 2130.6 L907 2149.9 L907.3 2185.7 L908.1 2154.2 L908.3 2182 L908.2 2173 L908.5 2117.9 L908.8 2082.4 L909 2109.4 L909.3 2189.4 L910.3 2159.1 L910.6 2174.6 L910.7 2177.5 L911 2098.7 L911.2 2085.5 L911.5 2122.9 L911.9 2187.9 L912.6 2178.8 L912.9 2183 L912.9 2184.8 L913.2 2050.1 L913.4 2027.4 L913.7 2067.7 L914.1 2189.9 L914.9 2174.7 L915.2 2175.1 L915.2 2174.3 L915.5 2136.5 L915.7 2115.8 L916 2131.6 L916.3 2191.5 L917.1 2179.4 L917.4 2190.7 L917.4 2176.5 L917.7 2156.2 L917.9 2136.6 L918.2 2153.1 L918.5 2189.8 L919.4 2168.1 L919.7 2182.8 L919.7 2173.1 L920.1 2111.9 L920.4 2072.5 L920.7 2092.5 L921.2 2189 L921.7 2175.8 L922 2185.7 L921.8 2180.7 L922.2 2113.8 L922.4 2101.4 L922.7 2123.2 L923.1 2191.1 L924 2168.8 L924.2 2184.4 L924.1 2183.1 L924.5 2099.7 L924.8 2070.9 L925.1 2102.3 L925.4 2188.1 L926.2 2168.4 L926.5 2186.8 L926.6 2176.5 L927 2131.4 L927.3 2121.1 L927.5 2134.5 L927.8 2191.2 L928.5 2178.5 L928.8 2186.7 L928.7 2174.7 L929 2067.3 L929.3 2049.9 L929.6 2094.9 L929.9 2183.8 L930.8 2171.1 L931.1 2174.2 L931.1 2171.9 L931.4 2135.1 L931.6 2116.6 L932 2135.4 L932.3 2188.7 L933 2173.9 L933.3 2183.2 L933.3 2175.5 L933.7 2157.4 L934 2144.3 L934.3 2152.1 L934.6 2192.5 L935.3 2187.3 L935.6 2180.6 L935.7 2179.8 L936.1 2147.5 L936.4 2135.4 L936.7 2154.5 L937.1 2189.6 L937.6 2174.3 L937.9 2178.6 L937.9 2186.8 L938.3 2151.7 L938.6 2140.6 L938.9 2159.2 L939.3 2191 L939.9 2187.3 L940.1 2177.4 L940.1 2178.2 L940.5 2154.2 L940.9 2137.6 L941.1 2154.7 L941.5 2190.4 L942.1 2172.5 L942.4 2175.4 L942.6 2181.2 L942.9 2137.3 L943.3 2129.4 L943.6 2139.4 L944 2186.4 L944.4 2156.1 L944.7 2182.7 L944.7 2176 L945.1 2142.4 L945.4 2109.4 L945.7 2141.4 L946 2192.5 L946.7 2185.9 L947 2188.9 L947 2176.9 L947.4 2130.8 L947.7 2114 L948 2135.9 L948.5 2186.3 L949 2174.7 L949.2 2174.2 L949.4 2178.4 L949.7 2156.1 L950 2138.6 L950.2 2159.9 L950.5 2186.2 L951.2 2182.4 L951.5 2185.4 L951.3 2181.4 L951.7 2122.2 L952 2088.8 L952.4 2114.7 L952.8 2187.3 L953.5 2171.8 L953.8 2180.9 L954 2171.4 L954.3 2140.2 L954.6 2114.6 L954.8 2148.8 L955.1 2184.9 L955.8 2165.8 L956.1 2177.7 L956.2 2184.9 L956.6 2126.4 L956.9 2091.1 L957.2 2113.5 L957.5 2191 L958 2175.5 L958.3 2184.3 L958.3 2183 L958.6 2143.7 L958.9 2134.4 L959.1 2159.3 L959.4 2191.3 L960.3 2175.1 L960.6 2175.9 L960.9 2178.2 L961.2 2139.1 L961.4 2115.8 L961.7 2128.5 L962.1 2191.5 L962.6 2176.4 L962.9 2188.1 L962.9 2183.5 L963.2 2148.2 L963.5 2142.6 L963.8 2161.7 L964.2 2188.3 L964.9 2183.2 L965.1 2182.8 L965.2 2187.4 L965.5 2134.8 L965.8 2109.3 L966 2122.3 L966.2 2192 L967.1 2186.2 L967.4 2189.8 L967.7 2182.4 L968 2120.8 L968.2 2111.1 L968.5 2143.4 L969 2189.4 L969.4 2178.8 L969.7 2176.5 L969.5 2180.1 L969.9 2055.4 L970.3 1993.3 L970.5 2079.2 L970.8 2186.1 L971.7 2160.8 L972 2176 L972.1 2176.5 L972.4 2134.7 L972.6 2118.6 L972.9 2131.7 L973.2 2187.4 L973.9 2155.7 L974.2 2174 L974.3 2184.8 L974.7 2145 L975 2135.6 L975.2 2146.2 L975.5 2191.2 L976.2 2156.7 L976.5 2188.8 L976.5 2170.1 L976.8 2102.8 L977.1 2081.8 L977.3 2120.5 L977.7 2185.3 L978.5 2160.6 L978.8 2180.1 L978.6 2175 L979.1 2127.2 L979.4 2098.7 L979.6 2122 L979.9 2190.8 L980.8 2157.9 L981 2185 L981 2185.2 L981.4 2133.2 L981.7 2124.4 L982 2135.1 L982.3 2192.1 L983 2156.7 L983.3 2178.9 L983.3 2173.5 L983.6 2128.1 L983.9 2089.2 L984.3 2133.9 L984.7 2187.5 L985.3 2169.6 L985.6 2185.8 L985.4 2175.8 L985.8 2117.6 L986.1 2080.2 L986.3 2098.1 L986.7 2191.8 L987.6 2181.2 L987.9 2187.6 L987.9 2178.4 L988.2 2097.8 L988.4 2074 L988.7 2102.9 L989.1 2190.9 L989.8 2166.6 L990.1 2186.8 L990.1 2185.8 L990.5 2098.3 L990.8 2075.7 L991.1 2095.4 L991.4 2192.3 L992.1 2158.8 L992.4 2189.9 L992.5 2183.6 L992.8 2107.3 L993 2070.8 L993.4 2112.4 L993.8 2191.6 L994.4 2188.3 L994.7 2187 L994.7 2183.7 L995.1 2116.7 L995.4 2078.6 L995.7 2099.2 L996 2190.1 L996.7 2175.5 L996.9 2183 L997 2183.5 L997.4 2127 L997.7 2110.2 L997.9 2139.7 L998.2 2188.5 L998.9 2161 L999.2 2178.2 L999.5 2168.8 L999.8 2159 L1000.1 2136.5 L1000.3 2156.3 L1000.6 2186.6 L1001.2 2161.1 L1001.5 2184 L1001.7 2177.2 L1002 2150.1 L1002.3 2123.2 L1002.6 2145.3 L1002.9 2192.8 L1003.5 2159.7 L1003.8 2180.7 L1004 2186.4 L1004.3 2083.5 L1004.6 2054.6 L1004.9 2084.9 L1005.2 2192.8 L1005.7 2184.2 L1006 2179.5 L1005.8 2182.2 L1006.2 2097.7 L1006.6 2081.2 L1006.9 2101.5 L1007.3 2188.5 L1008 2170.7 L1008.3 2176.6 L1008.5 2175.7 L1008.9 2125.6 L1009.1 2112.9 L1009.4 2132.9 L1009.6 2183.4 L1010.3 2180 L1010.6 2176 L1010.6 2172.7 L1010.9 2152.8 L1011.2 2128.8 L1011.6 2152 L1012 2192.1 L1012.6 2186.4 L1012.8 2176.9 L1012.9 2178.9 L1013.2 2141.5 L1013.6 2129.4 L1013.9 2146.4 L1014.2 2190.4 L1014.8 2179.7 L1015.1 2182 L1015 2167.8 L1015.3 2016.8 L1015.6 1945.9 L1015.9 2026.2 L1016.3 2173.5 L1017.1 2138 L1017.4 2165 L1017.5 2176.5 L1017.8 2131.9 L1018.1 2115.9 L1018.3 2137.6 L1018.6 2187.8 L1019.4 2165.8 L1019.7 2178.9 L1019.8 2174.5 L1020.1 2086.1 L1020.4 2073.2 L1020.6 2110.8 L1020.9 2191.2 L1021.6 2157.3 L1021.9 2177.4 L1022.2 2175 L1022.5 2122 L1022.7 2100.5 L1023 2117.9 L1023.3 2189.1 L1023.9 2168.1 L1024.2 2176.6 L1024.3 2171.1 L1024.7 2142.8 L1025 2112 L1025.2 2128.6 L1025.5 2190.4 L1026.2 2170.4 L1026.5 2182.9 L1026.6 2184.2 L1026.9 2090.4 L1027.2 2046.1 L1027.5 2099.5 L1027.9 2191.3 L1028.5 2179.5 L1028.7 2176.3 L1028.8 2178.4 L1029.2 2097.4 L1029.5 2046.1 L1029.8 2073.9 L1030.2 2192.6 L1030.7 2184.9 L1031 2183.3 L1030.9 2182.7 L1031.3 2125.6 L1031.7 2109 L1032 2137.5 L1032.3 2187.8 L1033 2155.9 L1033.3 2179.5 L1033.2 2177.4 L1033.5 2109.6 L1033.8 2076.3 L1034 2101.3 L1034.4 2190 L1035.3 2161.1 L1035.6 2175.4 L1035.7 2182 L1035.9 2109.8 L1036.1 2082.4 L1036.5 2128.8 L1036.9 2191.1 L1037.5 2182 L1037.8 2184.5 L1037.8 2171.5 L1038.2 2110.7 L1038.5 2078.9 L1038.7 2127.4 L1039.1 2189.1 L1039.8 2184.9 L1040.1 2184.6 L1040 2184.8 L1040.3 2118.5 L1040.6 2084.5 L1040.9 2128.2 L1041.2 2191.4 L1042.1 2187.4 L1042.4 2182.1 L1042.5 2175.3 L1042.9 2148.6 L1043.2 2134.2 L1043.5 2147.8 L1043.9 2190.8 L1044.4 2175 L1044.6 2179.3" fill="none" stroke="#FF0000" stroke-width="1.6" stroke-linejoin="round" stroke-opacity="0.8" stroke-linejoin="miter" stroke-miterlimit="10"/>
<path d="M215.6 2193.6 L215.9 2191.9 L216.4 2191.3 L217.2 2190.6 L217.8 2191 L218.2 2191 L218.8 2192.3 L219.4 2190.9 L219.9 2190.3 L220.3 2192.1 L221.1 2191.3 L221.4 2193 L222 2191.5 L222.9 2190.3 L223.2 2192.1 L223.9 2191.9 L224.3 2190.5 L225 2192 L225.4 2192.6 L226.1 2190.9 L226.8 2191.3 L227.2 2192.9 L227.7 2192.8 L228.3 2191.2 L228.9 2191.8 L229.4 2192.1 L230 2192.2 L230.8 2191.9 L231.1 2191.6 L231.6 2190.1 L232.4 2190.3 L232.8 2191.7 L233.5 2190.3 L234.2 2191.2 L234.7 2192.2 L235.1 2190.7 L235.6 2190.4 L236.5 2191.7 L237 2191.5 L237.6 2190.4 L237.9 2192.5 L238.6 2190.2 L239.1 2192.7 L239.6 2191.7 L240.5 2191.9 L240.7 2192 L241.4 2192.8 L242 2190.2 L242.4 2190.8 L242.4 2193.6 L245.1 2193.6 L245.4 2191.9 L246 2190.5 L246.7 2191.8 L247 2192.8 L247.6 2191.7 L248.4 2192 L248.7 2191.6 L249.5 2192 L250 2191.6 L250.6 2191.6 L251 2191.6 L251.6 2192.3 L252.3 2192.6 L252.6 2190.6 L253.2 2190.1 L253.8 2191.1 L254.4 2192.4 L255.1 2191.4 L255.6 2191.6 L256.2 2191.3 L256.8 2192.7 L257.4 2190.8 L257.9 2191.7 L258.5 2192.1 L259.1 2192.5 L259.7 2190.9 L260.2 2192.8 L260.9 2190.9 L261.3 2192.4 L262 2190.3 L262.4 2190.4 L263.1 2192.4 L263.6 2192.2 L264.2 2190.3 L264.8 2191.5 L265.2 2190.4 L266 2191.8 L266.5 2191.8 L266.9 2192 L267.7 2192.4 L268.2 2192.4 L268.8 2191.1 L269.2 2192.8 L269.9 2192.2 L270.5 2193 L271.1 2190.8 L271.4 2190.5 L272.1 2191 L272.8 2192.8 L273.3 2191.8 L273.9 2191 L274.4 2192.1 L274.8 2192.3 L275.5 2192.1 L276 2192.8 L276.7 2190.3 L277.2 2191.4 L277.6 2192.8 L278.4 2192.6 L278.8 2191.5 L279.3 2192.2 L280.1 2191 L280.5 2192.9 L281.1 2192 L281.6 2190.5 L282.3 2192.3 L283 2192.4 L283.5 2190.7 L284 2190.2 L284.7 2191.1 L285.2 2191.1 L285.6 2192.2 L286.4 2192.1 L286.9 2185.8 L287.6 2191.7 L288.2 2192.7 L288.7 2190.6 L289.1 2190.8 L289.7 2192.5 L290.1 2191.7 L291 2191.9 L291.3 2192.2 L292.1 2192.6 L292.7 2190.3 L293 2190.3 L293.7 2190.4 L294.3 2190.8 L294.7 2190.4 L295.3 2190.6 L295.9 2191.6 L296.5 2192.4 L297.1 2190.9 L297.6 2190.7 L298.1 2192.2 L298.7 2191.9 L299.4 2192.7 L300.1 2191.7 L300.4 2190.7 L301.2 2190.2 L301.5 2190.8 L302.3 2190.8 L302.9 2192.4 L303.3 2192.4 L304 2192.8 L304.5 2192.7 L305 2192 L305.5 2192.4 L306.3 2192.1 L306.3 2193.6 L311 2193.6 L311.4 2192.1 L311.9 2184.3 L312.6 2192.9 L313 2190.6 L313.6 2190.4 L314 2191.4 L314.7 2192 L315.3 2191.2 L315.8 2192.2 L316.3 2191.5 L317 2190.8 L317.4 2192.4 L318.1 2191.8 L318.6 2192.4 L319.3 2190.7 L319.6 2191.6 L320.3 2190.8 L321.1 2192.3 L321.6 2190.6 L322 2191.3 L322.5 2192.4 L323.3 2190.9 L323.8 2191.5 L324.4 2191 L324.8 2192.9 L325.5 2190.4 L326.1 2191 L326.5 2191.8 L327.1 2191.7 L327.8 2191.2 L328.4 2192.4 L329 2190.5 L329.4 2190.9 L330 2190.6 L330.6 2192.3 L331.2 2192 L331.9 2191 L332.2 2190.3 L332.9 2191.4 L333.5 2192 L334.1 2191.4 L334.6 2192.5 L335.2 2191.4 L335.8 2191.8 L336.2 2190.3 L336.8 2192.5 L337.3 2191.5 L338.1 2191 L338.6 2190.4 L339 2192.8 L339.8 2191.7 L340.2 2192.5 L340.8 2191.5 L341.6 2191.2 L342.1 2192.9 L342.5 2191.2 L343 2192.5 L343.7 2190.6 L344.3 2192.5 L344.8 2192.7 L345.5 2191.2 L346 2192.1 L346.4 2191.3 L347.2 2191.4 L347.6 2191.4 L348.4 2190.2 L348.8 2192.8 L349.5 2192.6 L349.9 2190.1 L350.6 2191.3 L351.2 2191.1 L351.7 2190.7 L352.2 2191.7 L352.6 2191.1 L353.4 2191.5 L353.8 2190.6 L354.5 2192.7 L354.9 2191.6 L355.5 2191.1 L356.3 2192.6 L356.7 2191 L357.2 2191.6 L357.9 2192.1 L358.4 2184.3 L358.9 2190.2 L359.5 2192.3 L360 2190.9 L360.8 2191.9 L361.3 2192.7 L362 2192.7 L362.5 2191.3 L362.8 2192.4 L363.7 2192.4 L364.1 2192.5 L364.7 2192.8 L365.1 2192.7 L365.7 2191.5 L366.3 2191 L366.8 2191.6 L367.6 2179.4 L368.1 2190.2 L368.8 2190.5 L369.3 2190.4 L369.9 2191 L369.9 2193.6 L451.9 2193.6 L452.1 2192.3 L452.8 2190.5 L453.2 2191.9 L454 2191.3 L454.3 2191.8 L455.1 2190.8 L455.5 2190.1 L456.1 2190.2 L456.6 2191.7 L457.2 2192.1 L457.9 2190.9 L458.4 2191.5 L458.9 2192.4 L459.5 2190 L459.9 2190.3 L460.7 2191 L461.2 2191.1 L461.8 2192.4 L462.5 2192.1 L463 2192.3 L463.4 2190.3 L464.2 2190 L464.6 2190.6 L465.2 2190.5 L465.9 2190.2 L466.5 2189.6 L466.8 2190.7 L467.6 2192.3 L467.9 2192.3 L468.5 2190.1 L469.1 2189.3 L469.7 2174.8 L470.4 2191.1 L470.8 2191.9 L471.3 2191 L472 2192.6 L472.7 2191.1 L473.3 2191.3 L473.8 2192.2 L474.3 2191.8 L474.9 2189.4 L475.3 2192.1 L475.9 2191 L476.6 2191.4 L476.6 2193.6 L479.1 2193.6 L479.4 2192.6 L480.1 2192 L480.5 2190.4 L481.2 2190.2 L481.8 2189.7 L482.2 2192.3 L482.7 2190.9 L483.5 2189.7 L484 2191.3 L484.4 2191.1 L484.9 2192 L485.5 2191.6 L486.1 2191.5 L486.7 2189.5 L487.4 2191.7 L488 2189.9 L488.4 2191.3 L489 2187.7 L489.6 2191.8 L490.3 2187.7 L490.8 2165.2 L491.4 2189.9 L492 2191.4 L492.6 2190.9 L493.1 2189.5 L493.7 2190.9 L494.3 2189.9 L494.7 2187.3 L495.4 2170.2 L495.9 2191.8 L496.3 2190 L496.9 2187.4 L497.5 2191.1 L498 2187.5 L498.6 2190 L499.3 2188.6 L500 2188 L500.5 2189.9 L501 2189.7 L501.6 2189.8 L502 2191.1 L502.8 2188.4 L503.1 2190.5 L504 2191.5 L504.3 2192.2 L504.8 2191 L505.5 2187.8 L506.2 2191.6 L506.8 2188.2 L507.3 2190.3 L507.8 2187.8 L508.5 2187.6 L508.8 2192.3 L509.7 2188.9 L510.2 2188.7 L510.6 2187.4 L511.1 2186.6 L511.7 2189.9 L512.5 2190.4 L512.8 2187.8 L513.6 2190.6 L513.9 2186.8 L514.6 2191.5 L515.3 2191 L515.7 2191.7 L516.3 2188.7 L517 2190.5 L517.5 2191.2 L517.9 2192.2 L518.6 2191.5 L519.1 2187.7 L519.7 2191.6 L520.2 2189 L520.9 2190.6 L521.5 2191.6 L521.9 2192.3 L522.7 2190.8 L523.1 2187.1 L523.6 2187.5 L524.4 2188.5 L525 2189.1 L525.4 2187 L526.1 2191.6 L526.4 2190.4 L527 2192.4 L527.8 2190.2 L528.2 2189.2 L528.7 2187.9 L529.5 2187.9 L529.9 2190.7 L530.5 2188.9 L531.3 2188.2 L531.3 2193.6 L533.6 2193.6 L533.9 2189 L534.6 2191.1 L535 2191.2 L535.5 2162.9 L536.3 2190.2 L536.7 2191 L537.2 2187.2 L537.8 2189.8 L538.6 2186.7 L539.2 2188.7 L539.6 2187.5 L540.1 2191.9 L540.8 2187.6 L541.2 2188.4 L541.7 2163.3 L542.5 2190.1 L543 2187.2 L543.5 2189.2 L544.3 2191.5 L544.6 2190.9 L545.3 2187.1 L545.8 2191.8 L546.3 2187.1 L547 2190.3 L547.7 2188 L548.2 2190.2 L548.6 2190 L549.2 2188.3 L549.9 2189.4 L550.5 2188.3 L551 2189.4 L551.6 2191.5 L552.1 2187.1 L552.6 2186.6 L553.3 2175 L553.7 2187.3 L554.4 2188.9 L554.9 2188.2 L555.7 2189.6 L556.2 2192.3 L556.7 2187.4 L557.2 2166.5 L557.8 2191.8 L558.5 2191.4 L558.9 2187.4 L559.6 2189.9 L560 2190.7 L560.5 2184.9 L561.2 2157.5 L561.8 2187.6 L562.3 2189.2 L562.9 2187.5 L563.4 2190.7 L564.2 2184.7 L564.7 2191.2 L565.3 2189.8 L565.7 2186.3 L566.1 2187.3 L567 2185.1 L567.6 2189 L568 2188.7 L568.6 2190.9 L569.2 2190.6 L569.8 2188.9 L570.2 2184.6 L571 2189.2 L571.3 2157.2 L572 2185.6 L572.7 2188.2 L573.3 2185.3 L573.7 2156.3 L574.3 2188.8 L574.9 2175.9 L575.6 2190.5 L575.8 2187 L576.5 2192.1 L577.1 2185.8 L577.8 2191.6 L578.2 2185.5 L578.7 2189 L579.4 2162 L579.9 2191.1 L580.6 2191.2 L581.1 2184.8 L581.7 2189.1 L582.2 2191 L582.6 2185.5 L583.4 2185.6 L584 2186.1 L584.3 2190.2 L585 2184.6 L585.7 2191.2 L586.3 2156.5 L586.9 2191.9 L587.2 2187 L587.7 2186.4 L588.5 2189.5 L589.1 2190.6 L589.5 2177.7 L590.2 2160.6 L590.8 2189.5 L591.2 2187.5 L591.9 2189 L592.5 2190.4 L592.5 2193.6 L595 2193.6 L595.3 2189.6 L595.7 2185.1 L596.3 2188.4 L596.9 2190.6 L597.6 2190.3 L598.2 2187.3 L598.7 2186 L599.4 2187.7 L599.8 2186.6 L600.3 2186.4 L600.8 2184.8 L601.5 2152.5 L602 2187.5 L602.5 2187.6 L603.4 2186.8 L603.8 2190 L604.4 2191.1 L604.8 2191.8 L605.4 2187.8 L605.9 2177.9 L606.5 2186.1 L607.3 2189.7 L607.8 2184.9 L608.3 2162.9 L608.9 2190 L609.4 2164.2 L610.2 2187.3 L610.8 2186.3 L611.2 2188.2 L611.8 2177.5 L612.3 2186.7 L612.8 2191.9 L613.6 2187.4 L614.1 2189.3 L614.4 2155.6 L615 2186.2 L615.7 2188.4 L616.2 2186.7 L616.7 2190 L617.5 2185.1 L618.1 2186.7 L618.5 2189.9 L619 2191.5 L619.8 2189.6 L620.4 2191.3 L620.8 2186.7 L621.2 2170.3 L621.9 2190 L622.5 2188.3 L623.1 2190.4 L623.7 2191.9 L624.1 2186.1 L624.7 2186.1 L625.3 2189.2 L626 2190 L626.5 2191.2 L627.2 2164.2 L627.6 2185.9 L628.1 2185.1 L628.8 2189.7 L629.2 2184.8 L630 2185.9 L630.5 2191 L631.1 2184.7 L631.5 2188.7 L632 2191.7 L632.8 2186.1 L633.2 2186.5 L633.9 2190.3 L634.4 2186.3 L635.1 2189.6 L635.5 2191.4 L636.2 2165.3 L636.9 2153.8 L637.2 2186.1 L638 2187.8 L638.3 2184 L639.1 2186.4 L639.5 2191.3 L640 2184.9 L640.6 2189.6 L641.4 2191.6 L641.9 2186.9 L642.6 2190.3 L643.1 2187.2 L643.7 2185.9 L644 2184.2 L644.8 2188.4 L645.4 2191.2 L645.7 2188.7 L646.5 2185.5 L646.8 2190.3 L646.8 2193.6 L649.5 2193.6 L649.9 2184.4 L650.3 2186.3 L650.9 2186.4 L651.4 2188.6 L652.2 2158.7 L652.8 2187.5 L653.3 2186.8 L653.8 2185.7 L654.3 2189.2 L655 2174.4 L655.6 2186.9 L656.2 2184.3 L656.6 2187.6 L657.3 2184.8 L657.9 2191.3 L658.3 2191.4 L658.7 2185.4 L659.4 2187.7 L660.1 2189.6 L660.7 2185.8 L661 2191.6 L661.9 2190.3 L662.3 2169.9 L663 2188.4 L663.3 2186.7 L663.9 2173.5 L664.6 2191.2 L665.1 2191.7 L665.8 2185.5 L666.2 2186.3 L666.9 2185.8 L667.5 2188.2 L668 2184 L668.4 2189.7 L669.3 2187.6 L669.5 2190.7 L670.1 2187.6 L670.8 2185.7 L671.3 2187.2 L671.8 2184.1 L672.7 2174.9 L673.2 2190 L673.8 2185.7 L674.2 2184.6 L674.6 2186 L675.2 2189 L676 2188.9 L676.5 2189.2 L677.1 2189.9 L677.5 2169.1 L678.2 2185.1 L678.7 2188.7 L679.5 2190.5 L679.8 2185.1 L680.4 2189 L681 2185.4 L681.7 2153.7 L682.1 2187.8 L682.8 2187.7 L683.2 2165.6 L684 2191.1 L684.5 2184.3 L685.1 2187.2 L685.5 2185.6 L686 2187.7 L686.6 2188.5 L687.3 2188.8 L687.8 2191.7 L688.5 2188.2 L688.9 2186 L689.6 2186.5 L690 2184.3 L690.6 2188.9 L691.3 2189.7 L691.8 2185.1 L692.5 2189 L692.9 2188.9 L693.6 2189.9 L694.1 2185.7 L694.6 2189.9 L695.2 2189.7 L695.7 2188.6 L696.4 2164.4 L696.8 2189.1 L697.5 2186.7 L698 2189.3 L698.6 2187.4 L699.3 2160.9 L699.9 2168.2 L700.3 2187.4 L700.7 2185.3 L701.6 2186.1 L702.2 2188.6 L702.5 2188 L703.1 2185 L703.9 2187.2 L704.3 2188.1 L704.9 2185.7 L705.6 2189 L706 2184.9 L706.5 2186.1 L707.2 2186.6 L707.7 2189.1 L708.3 2190.7 L709 2191.1 L709.5 2189.6 L709.9 2188.7 L710.6 2184.9 L711 2188.1 L711.6 2190.7 L712.3 2186.1 L712.8 2158.4 L713.4 2185.6 L713.9 2188.4 L714.4 2191 L715.2 2188.9 L715.6 2188.8 L716.2 2186.4 L716.8 2186.4 L717.4 2191.7 L717.4 2193.6 L722.2 2193.6 L722.5 2191.4 L723 2185.1 L723.7 2189.3 L724.2 2191.6 L724.8 2187.4 L725.3 2188.9 L725.8 2190.3 L726.4 2185.5 L727.2 2185.8 L727.4 2187.1 L728.1 2186.7 L728.7 2185.6 L729.4 2189.6 L729.9 2189.7 L730.5 2186.7 L730.9 2191.7 L731.5 2189.6 L732.1 2152.4 L732.6 2189.3 L733.4 2186.2 L733.8 2186.1 L734.5 2190.9 L735 2189.8 L735.6 2186 L736.1 2191.2 L736.7 2184.9 L737.4 2190.1 L738 2188.7 L738.3 2186.4 L739 2190.5 L739.6 2188.6 L740.1 2186.1 L740.7 2186.4 L741.1 2171.1 L741.9 2190.8 L742.5 2186.9 L743 2188.3 L743.4 2190.8 L744.1 2189.3 L744.6 2190.7 L745.1 2187.3 L745.7 2186.9 L746.2 2187.8 L746.9 2189.3 L747.6 2186.2 L748.1 2190.1 L748.5 2191.9 L749 2188.9 L749.9 2185.6 L750.4 2190.7 L751 2167.1 L751.4 2187.9 L752 2187.4 L752.7 2188.4 L753.3 2191.9 L753.6 2189.8 L754.2 2191.7 L755 2189 L755.6 2185.7 L755.9 2185.3 L756.5 2190.9 L757.3 2185.2 L757.7 2191 L758.4 2190.1 L758.7 2190 L759.3 2190.4 L760.1 2188.9 L760.5 2176.9 L761 2186.1 L761.6 2184.6 L762.1 2190 L762.9 2191.8 L763.2 2184.6 L764 2190.1 L764.6 2191.2 L765 2185.9 L765.7 2190.2 L766.3 2188.7 L767 2190.1 L767.2 2185.2 L768.1 2187.8 L768.5 2191.7 L769.2 2191.5 L769.6 2189.5 L770.1 2191 L770.6 2187.5 L771.2 2191.9 L771.8 2189.6 L772.5 2187.6 L773.1 2187 L773.6 2191.3 L774.2 2187.9 L774.6 2189 L775.3 2186.8 L775.9 2188.3 L776.3 2171.3 L776.9 2186.1 L777.5 2186.5 L778.1 2186.8 L778.7 2187.6 L779.2 2187.7 L780 2188.8 L780.3 2192.2 L781.1 2189.3 L781.5 2190.1 L782 2192.1 L782.6 2186.4 L783.1 2190.4 L783.1 2193.6 L785.8 2193.6 L786.2 2190.7 L786.6 2190 L787.2 2190.3 L787.7 2191.1 L788.4 2188.5 L789 2188.6 L789.6 2192.2 L790 2187.9 L790.6 2188.6 L791.2 2190.7 L791.9 2191.8 L792.4 2192 L792.9 2162.9 L793.4 2174.5 L794.1 2191.7 L794.6 2188.5 L795.2 2186.5 L795.8 2189.6 L796.3 2186.8 L796.8 2188.8 L797.4 2187.2 L798.2 2166 L798.7 2192 L799.2 2189 L799.8 2190.9 L800.2 2186 L800.7 2189.8 L801.5 2187.7 L801.9 2190.1 L802.5 2189 L803.2 2166.5 L803.7 2189.7 L804.2 2187.1 L804.7 2187.9 L805.4 2191.5 L806 2178 L806.7 2188.8 L807 2189.3 L807.6 2188.2 L808.4 2190.8 L808.8 2190.4 L809.4 2191.4 L810 2188.7 L810.6 2188.4 L811.2 2188.7 L811.5 2192.1 L812.1 2188.9 L812.9 2188.9 L813.3 2190.8 L813.8 2190.2 L814.5 2190.2 L815 2186.5 L815.7 2190 L816.1 2190.2 L816.8 2187.4 L817.5 2189.9 L818.1 2189.1 L818.5 2192.1 L819 2187.5 L819.6 2188.7 L820.2 2188.3 L820.7 2189.4 L821.3 2188.5 L822 2188 L822.3 2189.8 L822.9 2187.3 L823.7 2187.7 L824 2186.3 L824.9 2188 L825.1 2187.2 L825.9 2191.3 L826.6 2189.8 L827.1 2190.9 L827.4 2189.6 L828.2 2175.1 L828.6 2191.3 L829.1 2189.1 L829.8 2190.6 L830.3 2191.3 L830.9 2190.1 L831.4 2188.3 L832.2 2186.7 L832.7 2190.9 L833.4 2189.3 L833.9 2187.8 L834.3 2191.9 L835 2191.9 L835.4 2186.9 L835.9 2188.1 L836.6 2187.8 L837.1 2187.5 L837.8 2190.8 L838.2 2190.7 L838.8 2191.9 L839.5 2190.9 L840.2 2191.4 L840.7 2189.9 L841.1 2188.3 L841.8 2187.9 L842.3 2188.3 L842.9 2192.4 L843.4 2188.6 L844.2 2190.5 L844.6 2191.6 L845 2190.1 L845.8 2188.1 L846.3 2190.8 L846.9 2189.9 L847.4 2188.9 L848.1 2191.5 L848.5 2187.9 L849.3 2189.6 L849.8 2187.9 L850.4 2191 L850.9 2190.7 L851.3 2192.5 L852 2182.8 L852.6 2188.6 L853.1 2188.7 L853.5 2189.5 L854.2 2192 L854.9 2188.7 L855.3 2191.5 L855.9 2191.8 L856.4 2192.1 L856.9 2190.1 L857.6 2189.6 L858.2 2191.1 L858.8 2191.2 L859.3 2190.5 L860 2189.1 L860.4 2188.2 L860.9 2191.2 L861.6 2191.7 L862.1 2189.2 L862.6 2188.1 L863.4 2188.2 L863.9 2190.2 L864.4 2188.6 L864.9 2192.5 L865.6 2189.4 L866.2 2191.9 L866.7 2165 L867.2 2187.3 L867.2 2193.6 L872.1 2193.6 L872.4 2189.6 L872.8 2190 L873.4 2192.2 L874.2 2187.5 L874.8 2176.2 L875.4 2188.7 L875.9 2187.5 L876.3 2192.3 L876.9 2187.6 L877.6 2189.3 L878.2 2190.3 L878.6 2188.3 L879.4 2189 L879.8 2191.4 L880.5 2190.1 L880.9 2190.4 L881.5 2188.8 L881.9 2187.6 L882.6 2189.8 L883.1 2188.1 L883.8 2190.4 L884.4 2190.2 L884.9 2190.1 L885.3 2187.8 L885.9 2188.9 L886.6 2189.7 L887.2 2190.2 L887.8 2191.8 L888.2 2191.9 L888.7 2191.6 L889.5 2190.3 L890.2 2188.6 L890.6 2188.7 L891.2 2190.6 L891.7 2188.2 L892.4 2187.3 L892.9 2189.6 L893.3 2188.6 L893.9 2190.8 L894.7 2190.7 L895 2189.7 L895.8 2191.6 L896.2 2188.6 L896.8 2188.7 L897.4 2188 L897.9 2190.7 L898.6 2190.3 L899 2188.3 L899.5 2189.3 L900.2 2188.6 L901 2191.3 L901.3 2187.3 L902 2191.1 L902.5 2191.1 L903.2 2191.8 L903.8 2181.2 L904.3 2188.2 L904.7 2190.1 L905.5 2181.7 L905.9 2191.8 L906.5 2191.1 L906.9 2190.5 L907.6 2192.4 L908.3 2190 L908.8 2191 L909.2 2192.8 L910 2191.4 L910.6 2192.2 L911.2 2190.2 L911.8 2189.6 L912.1 2190.9 L912.7 2190.9 L913.3 2191.7 L914 2190.7 L914.6 2192.6 L914.9 2190.2 L915.7 2189.7 L916.3 2191.4 L916.6 2192.6 L917.2 2174.7 L917.9 2192.3 L918.5 2190.4 L919 2192.9 L919.5 2192 L919.5 2193.6 L922.1 2193.6 L922.4 2191.1 L922.8 2192.8 L923.5 2191 L924.2 2189.4 L924.6 2190.4 L925.3 2184.2 L925.7 2191.6 L926.4 2191.2 L926.8 2192.1 L927.5 2191.9 L928 2190.1 L928.6 2191.7 L929.1 2191.9 L929.8 2192.8 L930.5 2190.3 L930.8 2190.7 L931.3 2191.8 L932.1 2190.9 L932.8 2189.8 L933.3 2176.8 L933.9 2192.5 L934.2 2189.7 L934.9 2189.7 L935.5 2192.5 L936 2189.9 L936.4 2192.1 L937 2192.4 L937.9 2191.4 L938.3 2190.9 L939 2190.9 L939.5 2190.8 L939.9 2192.2 L940.7 2192.6 L941.1 2190.7 L941.6 2190.4 L942.3 2192 L942.9 2191.5 L943.5 2190.1 L944.1 2192.8 L944.7 2189.4 L944.7 2193.6 L967.6 2193.6 L968 2189.5 L968.3 2190.9 L969 2191.1 L969.6 2190 L970.1 2191.2 L970.5 2191.7 L971.3 2191.5 L971.8 2189.7 L972.5 2189.8 L973 2192.6 L973.6 2191.3 L974.1 2190.1 L974.8 2190.9 L975.4 2191.3 L975.8 2192 L976.2 2191.3 L977 2191.3 L977.6 2193 L978.1 2191.4 L978.7 2190.3 L979.2 2192.2 L979.9 2192.8 L980.3 2190.8 L981.1 2190.3 L981.4 2192.2 L982.1 2190.9 L982.7 2191.4 L983 2192.3 L983.7 2192.4 L984.1 2191.4 L985 2190.7 L985.3 2190.2 L986 2190.7 L986.4 2191.6 L987.2 2192.7 L987.7 2191.1 L988.2 2192.9 L989 2190.4 L989.3 2190.4 L989.9 2190.6 L990.6 2190.7 L991.2 2190.9 L991.6 2192.8 L992.2 2190.1 L992.7 2191.6 L993.4 2191.5 L994.1 2192.5 L994.5 2193 L995.2 2192.5 L995.8 2191.8 L996.2 2192.8 L996.7 2190.3 L997.5 2192.1 L998 2191 L998.6 2191.4 L999.1 2190.4 L999.1 2193.6 L1001.6 2193.6 L1001.8 2192.6 L1002.5 2190.2 L1003.2 2190.6 L1003.6 2192.4 L1004.3 2190.4 L1004.8 2191.5 L1005.3 2193 L1005.8 2192.1 L1006.3 2191.5 L1007.1 2192.4 L1007.7 2190.4 L1008.2 2192.1 L1008.7 2192.3 L1009.4 2191.1 L1009.9 2191.1 L1010.4 2192.2 L1010.9 2191.8 L1011.7 2191.5 L1012 2190.8 L1012.6 2191.4 L1013.2 2191 L1013.9 2192.4 L1014.3 2192.5 L1015 2191.6 L1015.5 2192.5 L1016.2 2191.1 L1016.8 2190.2 L1017.1 2191.1 L1017.8 2192.5 L1018.5 2191.7 L1018.9 2191.7 L1019.6 2191.2 L1020.2 2190.5 L1020.7 2190.2 L1021.1 2191.9 L1021.8 2192.7 L1022.5 2191.5 L1023 2191.2 L1023.5 2190.8 L1024.2 2190.2 L1024.8 2192.4 L1025.3 2192.8 L1025.7 2191.9 L1026.4 2190.3 L1026.8 2191 L1027.5 2190.6 L1028 2192.4 L1028.5 2191.3 L1029.2 2190.5 L1029.6 2190.3 L1030.2 2190.9 L1030.8 2191.8 L1031.5 2187.1 L1031.9 2192.1 L1032.5 2192.7 L1033.1 2192.1 L1033.8 2190.7 L1034.1 2191.4 L1035 2191.9 L1035.4 2191.4 L1035.9 2192.5 L1036.7 2191.2 L1037.2 2191.7 L1037.6 2190.4 L1038.3 2191.2 L1038.7 2192 L1039.3 2192.2 L1040.1 2192.1 L1040.4 2190.1 L1041.2 2192.8 L1041.7 2190.9 L1042.2 2192.5 L1042.8 2192.1 L1043.5 2192.5 L1043.9 2192.5 L1044.4 2190.6 L1044.7 2193.6Z" fill="#000"/>
<path d="M458.3 2193.6 L458.7 2174.2 L459.5 2159.4 L460.9 2149.3 L462.5 2150.9 L463.9 2158.7 L464.7 2175 L465.3 2193.6Z" fill="#000"/>
</g>
<rect x="215.6" y="1552.6" width="829.1" height="641.0" fill="none" stroke="#000" stroke-width="3.33"/>
<line x1="200.4" x2="215.6" y1="2193.6" y2="2193.6" stroke="#000" stroke-width="3.33"/>
<text x="185.2" y="2206.3" text-anchor="end">0</text>
<line x1="200.4" x2="215.6" y1="2115.9" y2="2115.9" stroke="#000" stroke-width="3.33"/>
<text x="185.2" y="2128.6" text-anchor="end">100</text>
<line x1="200.4" x2="215.6" y1="2038.3" y2="2038.3" stroke="#000" stroke-width="3.33"/>
<text x="185.2" y="2051.0" text-anchor="end">200</text>
<line x1="200.4" x2="215.6" y1="1960.6" y2="1960.6" stroke="#000" stroke-width="3.33"/>
<text x="185.2" y="1973.3" text-anchor="end">300</text>
<line x1="200.4" x2="215.6" y1="1883.0" y2="1883.0" stroke="#000" stroke-width="3.33"/>
<text x="185.2" y="1895.7" text-anchor="end">400</text>
<line x1="200.4" x2="215.6" y1="1805.3" y2="1805.3" stroke="#000" stroke-width="3.33"/>
<text x="185.2" y="1818.0" text-anchor="end">500</text>
<line x1="200.4" x2="215.6" y1="1727.7" y2="1727.7" stroke="#000" stroke-width="3.33"/>
<text x="185.2" y="1740.4" text-anchor="end">600</text>
<line x1="200.4" x2="215.6" y1="1650.0" y2="1650.0" stroke="#000" stroke-width="3.33"/>
<text x="185.2" y="1662.8" text-anchor="end">700</text>
<line x1="200.4" x2="215.6" y1="1572.4" y2="1572.4" stroke="#000" stroke-width="3.33"/>
<text x="185.2" y="1585.1" text-anchor="end">800</text>
<line x1="215.6" x2="215.6" y1="2193.6" y2="2208.2" stroke="#000" stroke-width="3.33"/>
<line x1="286.0" x2="286.0" y1="2193.6" y2="2208.2" stroke="#000" stroke-width="3.33"/>
<line x1="349.6" x2="349.6" y1="2193.6" y2="2208.2" stroke="#000" stroke-width="3.33"/>
<line x1="420.1" x2="420.1" y1="2193.6" y2="2208.2" stroke="#000" stroke-width="3.33"/>
<line x1="488.2" x2="488.2" y1="2193.6" y2="2208.2" stroke="#000" stroke-width="3.33"/>
<line x1="558.6" x2="558.6" y1="2193.6" y2="2208.2" stroke="#000" stroke-width="3.33"/>
<line x1="626.8" x2="626.8" y1="2193.6" y2="2208.2" stroke="#000" stroke-width="3.33"/>
<line x1="697.2" x2="697.2" y1="2193.6" y2="2208.2" stroke="#000" stroke-width="3.33"/>
<line x1="767.6" x2="767.6" y1="2193.6" y2="2208.2" stroke="#000" stroke-width="3.33"/>
<line x1="835.8" x2="835.8" y1="2193.6" y2="2208.2" stroke="#000" stroke-width="3.33"/>
<line x1="906.2" x2="906.2" y1="2193.6" y2="2208.2" stroke="#000" stroke-width="3.33"/>
<line x1="974.4" x2="974.4" y1="2193.6" y2="2208.2" stroke="#000" stroke-width="3.33"/>
<text transform="translate(210.6,2247.8) rotate(-30)" text-anchor="end">01-Jan</text>
<text transform="translate(281.0,2247.8) rotate(-30)" text-anchor="end">01-Feb</text>
<text transform="translate(344.6,2247.8) rotate(-30)" text-anchor="end">01-Mar</text>
<text transform="translate(415.1,2247.8) rotate(-30)" text-anchor="end">01-Apr</text>
<text transform="translate(483.2,2247.8) rotate(-30)" text-anchor="end">01-May</text>
<text transform="translate(553.6,2247.8) rotate(-30)" text-anchor="end">01-Jun</text>
<text transform="translate(621.8,2247.8) rotate(-30)" text-anchor="end">01-Jul</text>
<text transform="translate(692.2,2247.8) rotate(-30)" text-anchor="end">01-Aug</text>
<text transform="translate(762.6,2247.8) rotate(-30)" text-anchor="end">01-Sep</text>
<text transform="translate(830.8,2247.8) rotate(-30)" text-anchor="end">01-Oct</text>
<text transform="translate(901.2,2247.8) rotate(-30)" text-anchor="end">01-Nov</text>
<text transform="translate(969.4,2247.8) rotate(-30)" text-anchor="end">01-Dec</text>
<text transform="translate(93.5,1872.5) rotate(-90)" text-anchor="middle" class="m"><tspan class="i">NO</tspan><tspan class="s" dy="5.5">2</tspan><tspan dy="-5.5" dx="12">(</tspan><tspan class="i">μg</tspan><tspan>.</tspan><tspan class="i" dx="7">m</tspan><tspan class="s" dy="-12.5" dx="1">−3</tspan><tspan dy="12.5">)</tspan></text>
<text x="255.3" y="1625.5">c) Raw data at Limeira</text>
<text x="670.5" y="1625.6">ρ = 0.46</text>
<text x="670.8" y="1689.8">Bias = 32.98 <tspan class="i" dx="1">μg</tspan>.<tspan class="i" dx="7">m</tspan><tspan class="s" dy="-12.5" dx="1">−3</tspan></text>
</svg>
</body></html>
